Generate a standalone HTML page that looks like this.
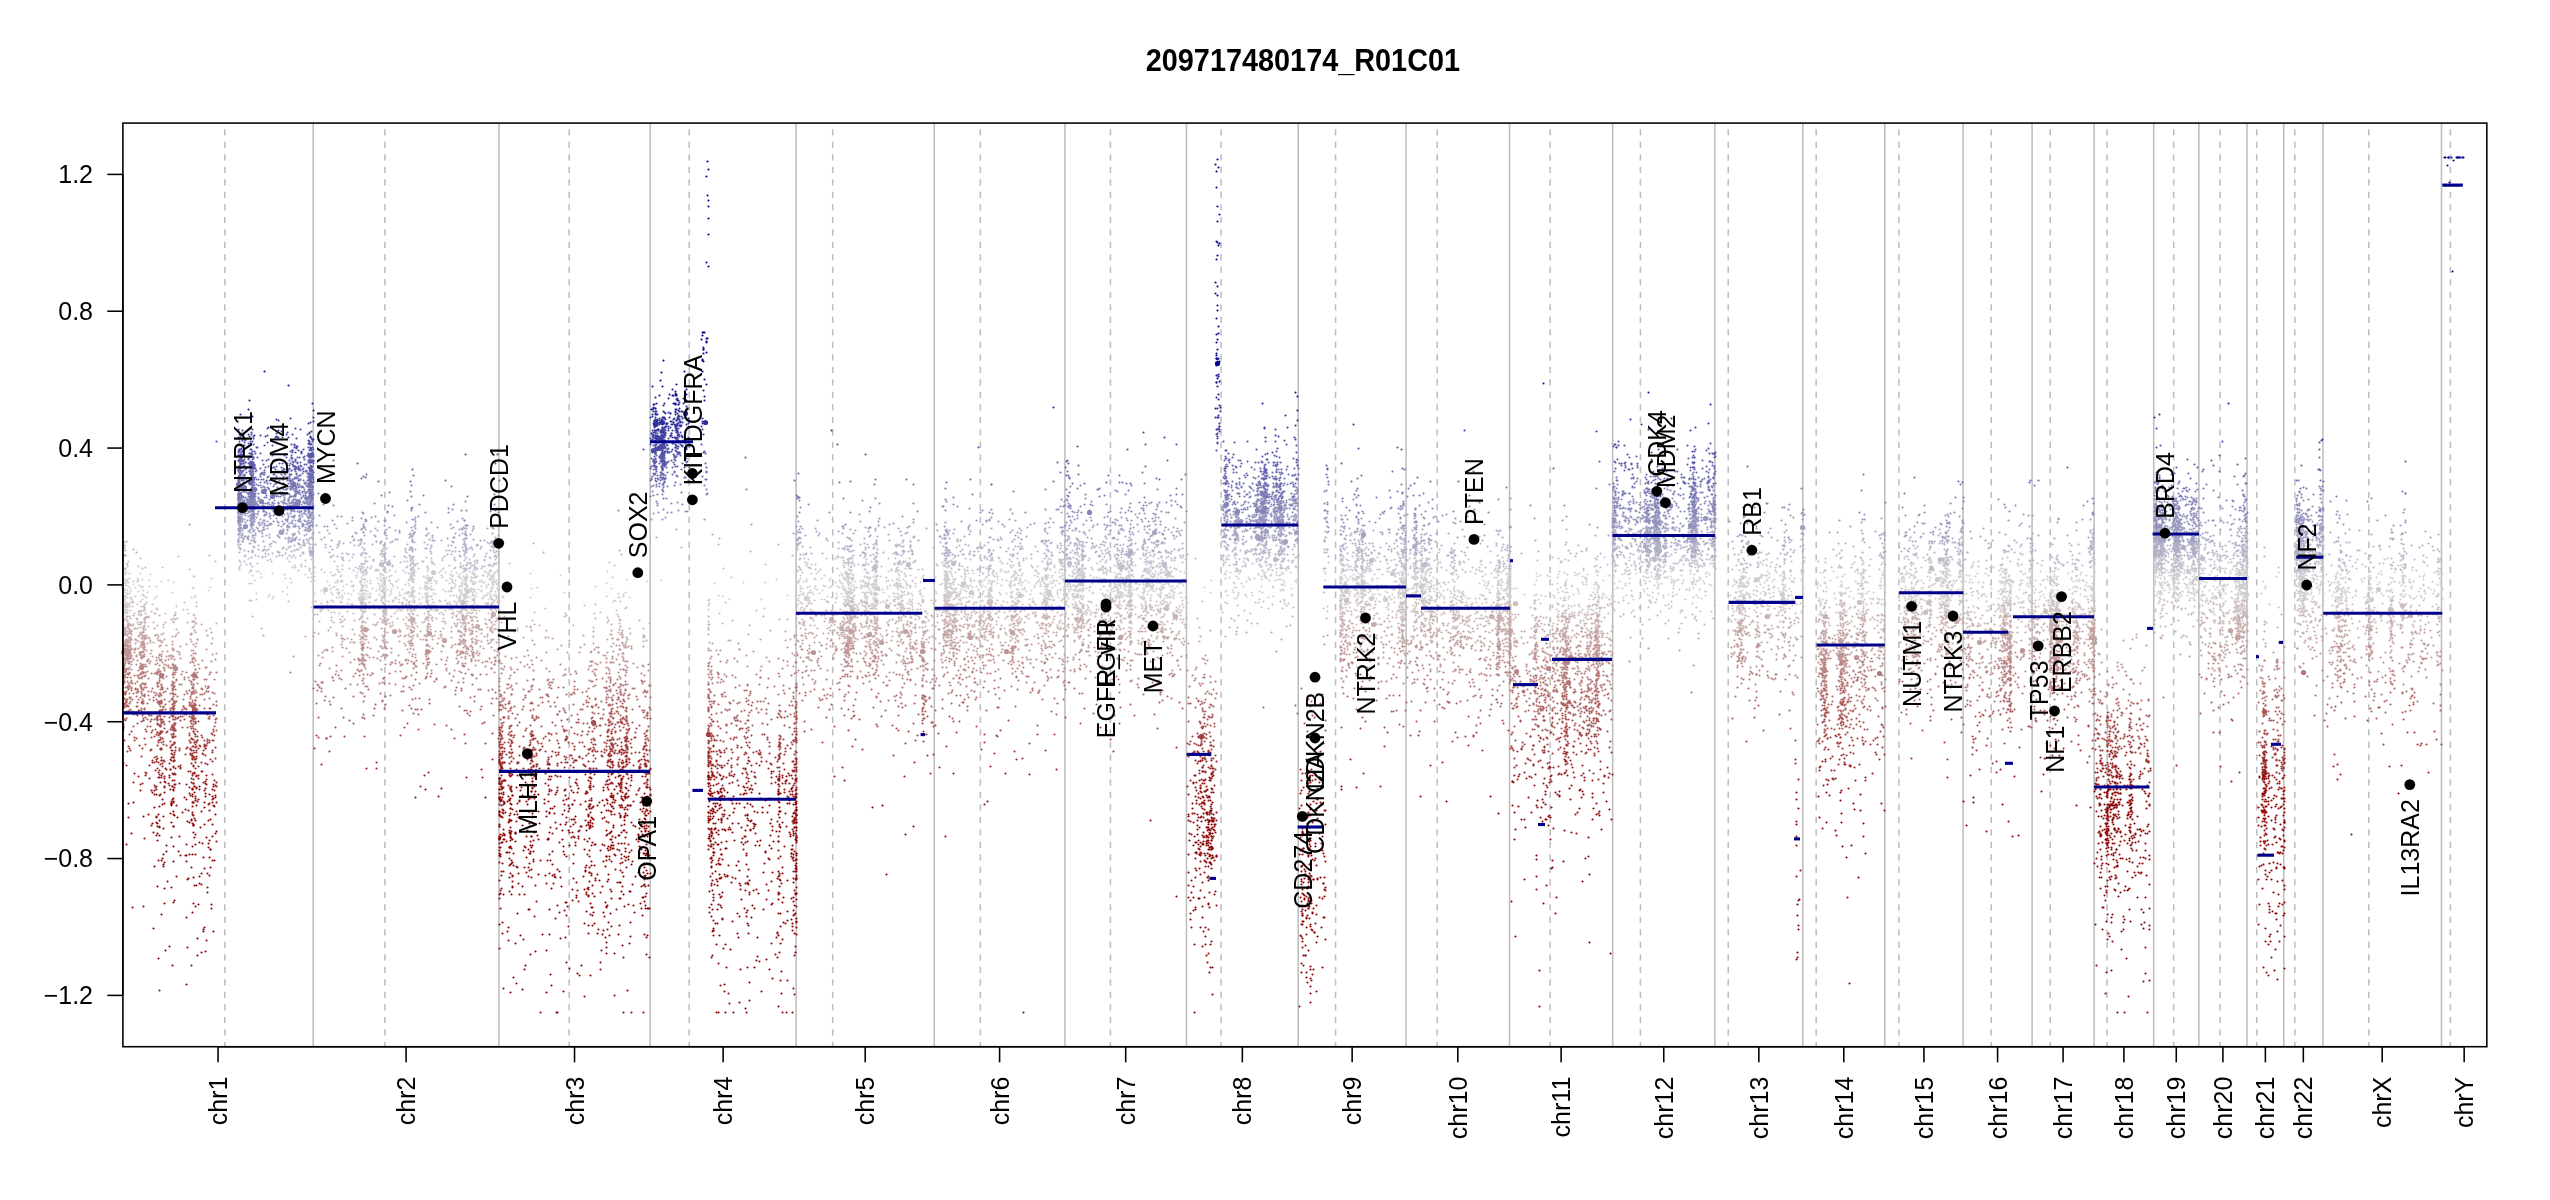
<!DOCTYPE html><html><head><meta charset="utf-8"><style>html,body{margin:0;padding:0;background:#fff;overflow:hidden}svg{display:block;will-change:transform}</style></head><body>
<svg width="2550" height="1200" viewBox="0 0 2550 1200">
<rect width="2550" height="1200" fill="#fff"/>
<line x1="313.22" y1="123.09" x2="313.22" y2="1046.71" stroke="#bebebe" stroke-width="1.56"/>
<line x1="498.93" y1="123.09" x2="498.93" y2="1046.71" stroke="#bebebe" stroke-width="1.56"/>
<line x1="650.15" y1="123.09" x2="650.15" y2="1046.71" stroke="#bebebe" stroke-width="1.56"/>
<line x1="796.12" y1="123.09" x2="796.12" y2="1046.71" stroke="#bebebe" stroke-width="1.56"/>
<line x1="934.27" y1="123.09" x2="934.27" y2="1046.71" stroke="#bebebe" stroke-width="1.56"/>
<line x1="1064.94" y1="123.09" x2="1064.94" y2="1046.71" stroke="#bebebe" stroke-width="1.56"/>
<line x1="1186.46" y1="123.09" x2="1186.46" y2="1046.71" stroke="#bebebe" stroke-width="1.56"/>
<line x1="1298.23" y1="123.09" x2="1298.23" y2="1046.71" stroke="#bebebe" stroke-width="1.56"/>
<line x1="1406.06" y1="123.09" x2="1406.06" y2="1046.71" stroke="#bebebe" stroke-width="1.56"/>
<line x1="1509.56" y1="123.09" x2="1509.56" y2="1046.71" stroke="#bebebe" stroke-width="1.56"/>
<line x1="1612.66" y1="123.09" x2="1612.66" y2="1046.71" stroke="#bebebe" stroke-width="1.56"/>
<line x1="1714.87" y1="123.09" x2="1714.87" y2="1046.71" stroke="#bebebe" stroke-width="1.56"/>
<line x1="1802.82" y1="123.09" x2="1802.82" y2="1046.71" stroke="#bebebe" stroke-width="1.56"/>
<line x1="1884.79" y1="123.09" x2="1884.79" y2="1046.71" stroke="#bebebe" stroke-width="1.56"/>
<line x1="1963.09" y1="123.09" x2="1963.09" y2="1046.71" stroke="#bebebe" stroke-width="1.56"/>
<line x1="2032.08" y1="123.09" x2="2032.08" y2="1046.71" stroke="#bebebe" stroke-width="1.56"/>
<line x1="2094.09" y1="123.09" x2="2094.09" y2="1046.71" stroke="#bebebe" stroke-width="1.56"/>
<line x1="2153.71" y1="123.09" x2="2153.71" y2="1046.71" stroke="#bebebe" stroke-width="1.56"/>
<line x1="2198.86" y1="123.09" x2="2198.86" y2="1046.71" stroke="#bebebe" stroke-width="1.56"/>
<line x1="2246.99" y1="123.09" x2="2246.99" y2="1046.71" stroke="#bebebe" stroke-width="1.56"/>
<line x1="2283.74" y1="123.09" x2="2283.74" y2="1046.71" stroke="#bebebe" stroke-width="1.56"/>
<line x1="2322.92" y1="123.09" x2="2322.92" y2="1046.71" stroke="#bebebe" stroke-width="1.56"/>
<line x1="2441.49" y1="123.09" x2="2441.49" y2="1046.71" stroke="#bebebe" stroke-width="1.56"/>
<line x1="224.86" y1="129.34" x2="224.86" y2="1046.71" stroke="#bebebe" stroke-width="1.56" stroke-dasharray="6.25 6.25"/>
<line x1="384.87" y1="129.34" x2="384.87" y2="1046.71" stroke="#bebebe" stroke-width="1.56" stroke-dasharray="6.25 6.25"/>
<line x1="569.19" y1="129.34" x2="569.19" y2="1046.71" stroke="#bebebe" stroke-width="1.56" stroke-dasharray="6.25 6.25"/>
<line x1="689.22" y1="129.34" x2="689.22" y2="1046.71" stroke="#bebebe" stroke-width="1.56" stroke-dasharray="6.25 6.25"/>
<line x1="832.70" y1="129.34" x2="832.70" y2="1046.71" stroke="#bebebe" stroke-width="1.56" stroke-dasharray="6.25 6.25"/>
<line x1="980.34" y1="129.34" x2="980.34" y2="1046.71" stroke="#bebebe" stroke-width="1.56" stroke-dasharray="6.25 6.25"/>
<line x1="1110.42" y1="129.34" x2="1110.42" y2="1046.71" stroke="#bebebe" stroke-width="1.56" stroke-dasharray="6.25 6.25"/>
<line x1="1221.08" y1="129.34" x2="1221.08" y2="1046.71" stroke="#bebebe" stroke-width="1.56" stroke-dasharray="6.25 6.25"/>
<line x1="1335.55" y1="129.34" x2="1335.55" y2="1046.71" stroke="#bebebe" stroke-width="1.56" stroke-dasharray="6.25 6.25"/>
<line x1="1437.19" y1="129.34" x2="1437.19" y2="1046.71" stroke="#bebebe" stroke-width="1.56" stroke-dasharray="6.25 6.25"/>
<line x1="1550.14" y1="129.34" x2="1550.14" y2="1046.71" stroke="#bebebe" stroke-width="1.56" stroke-dasharray="6.25 6.25"/>
<line x1="1640.42" y1="129.34" x2="1640.42" y2="1046.71" stroke="#bebebe" stroke-width="1.56" stroke-dasharray="6.25 6.25"/>
<line x1="1728.23" y1="129.34" x2="1728.23" y2="1046.71" stroke="#bebebe" stroke-width="1.56" stroke-dasharray="6.25 6.25"/>
<line x1="1816.18" y1="129.34" x2="1816.18" y2="1046.71" stroke="#bebebe" stroke-width="1.56" stroke-dasharray="6.25 6.25"/>
<line x1="1898.92" y1="129.34" x2="1898.92" y2="1046.71" stroke="#bebebe" stroke-width="1.56" stroke-dasharray="6.25 6.25"/>
<line x1="1991.21" y1="129.34" x2="1991.21" y2="1046.71" stroke="#bebebe" stroke-width="1.56" stroke-dasharray="6.25 6.25"/>
<line x1="2050.23" y1="129.34" x2="2050.23" y2="1046.71" stroke="#bebebe" stroke-width="1.56" stroke-dasharray="6.25 6.25"/>
<line x1="2107.04" y1="129.34" x2="2107.04" y2="1046.71" stroke="#bebebe" stroke-width="1.56" stroke-dasharray="6.25 6.25"/>
<line x1="2173.70" y1="129.34" x2="2173.70" y2="1046.71" stroke="#bebebe" stroke-width="1.56" stroke-dasharray="6.25 6.25"/>
<line x1="2220.14" y1="129.34" x2="2220.14" y2="1046.71" stroke="#bebebe" stroke-width="1.56" stroke-dasharray="6.25 6.25"/>
<line x1="2256.75" y1="129.34" x2="2256.75" y2="1046.71" stroke="#bebebe" stroke-width="1.56" stroke-dasharray="6.25 6.25"/>
<line x1="2294.81" y1="129.34" x2="2294.81" y2="1046.71" stroke="#bebebe" stroke-width="1.56" stroke-dasharray="6.25 6.25"/>
<line x1="2368.84" y1="129.34" x2="2368.84" y2="1046.71" stroke="#bebebe" stroke-width="1.56" stroke-dasharray="6.25 6.25"/>
<line x1="2450.35" y1="129.34" x2="2450.35" y2="1046.71" stroke="#bebebe" stroke-width="1.56" stroke-dasharray="6.25 6.25"/>
<defs>
<marker id="s0" markerUnits="userSpaceOnUse" markerWidth="8" markerHeight="8" refX="4" refY="4" overflow="visible"><circle cx="4.5" cy="4.5" r="1.05" fill="#8b0000"/></marker>
<marker id="s1" markerUnits="userSpaceOnUse" markerWidth="8" markerHeight="8" refX="4" refY="4" overflow="visible"><circle cx="4.5" cy="4.5" r="1.05" fill="#8b0000"/></marker>
<marker id="s2" markerUnits="userSpaceOnUse" markerWidth="8" markerHeight="8" refX="4" refY="4" overflow="visible"><circle cx="4.5" cy="4.5" r="1.05" fill="#8b0000"/></marker>
<marker id="s3" markerUnits="userSpaceOnUse" markerWidth="8" markerHeight="8" refX="4" refY="4" overflow="visible"><circle cx="4.5" cy="4.5" r="1.05" fill="#8b0000"/></marker>
<marker id="s4" markerUnits="userSpaceOnUse" markerWidth="8" markerHeight="8" refX="4" refY="4" overflow="visible"><circle cx="4.5" cy="4.5" r="1.05" fill="#8b0000"/></marker>
<marker id="s5" markerUnits="userSpaceOnUse" markerWidth="8" markerHeight="8" refX="4" refY="4" overflow="visible"><circle cx="4.5" cy="4.5" r="1.05" fill="#8b0000"/></marker>
<marker id="s6" markerUnits="userSpaceOnUse" markerWidth="8" markerHeight="8" refX="4" refY="4" overflow="visible"><circle cx="4.5" cy="4.5" r="1.05" fill="#8b0000"/></marker>
<marker id="s7" markerUnits="userSpaceOnUse" markerWidth="8" markerHeight="8" refX="4" refY="4" overflow="visible"><circle cx="4.5" cy="4.5" r="1.05" fill="#8b0000"/></marker>
<marker id="s8" markerUnits="userSpaceOnUse" markerWidth="8" markerHeight="8" refX="4" refY="4" overflow="visible"><circle cx="4.5" cy="4.5" r="1.05" fill="#8b0000"/></marker>
<marker id="s9" markerUnits="userSpaceOnUse" markerWidth="8" markerHeight="8" refX="4" refY="4" overflow="visible"><circle cx="4.5" cy="4.5" r="1.05" fill="#8b0000"/></marker>
<marker id="s10" markerUnits="userSpaceOnUse" markerWidth="8" markerHeight="8" refX="4" refY="4" overflow="visible"><circle cx="4.5" cy="4.5" r="1.05" fill="#8b0000"/></marker>
<marker id="s11" markerUnits="userSpaceOnUse" markerWidth="8" markerHeight="8" refX="4" refY="4" overflow="visible"><circle cx="4.5" cy="4.5" r="1.05" fill="#8b0000"/></marker>
<marker id="s12" markerUnits="userSpaceOnUse" markerWidth="8" markerHeight="8" refX="4" refY="4" overflow="visible"><circle cx="4.5" cy="4.5" r="1.05" fill="#8b0000"/></marker>
<marker id="s13" markerUnits="userSpaceOnUse" markerWidth="8" markerHeight="8" refX="4" refY="4" overflow="visible"><circle cx="4.5" cy="4.5" r="1.05" fill="#8b0000"/></marker>
<marker id="s14" markerUnits="userSpaceOnUse" markerWidth="8" markerHeight="8" refX="4" refY="4" overflow="visible"><circle cx="4.5" cy="4.5" r="1.05" fill="#8b0000"/></marker>
<marker id="s15" markerUnits="userSpaceOnUse" markerWidth="8" markerHeight="8" refX="4" refY="4" overflow="visible"><circle cx="4.5" cy="4.5" r="1.05" fill="#8c0404"/></marker>
<marker id="s16" markerUnits="userSpaceOnUse" markerWidth="8" markerHeight="8" refX="4" refY="4" overflow="visible"><circle cx="4.5" cy="4.5" r="1.05" fill="#911212"/></marker>
<marker id="s17" markerUnits="userSpaceOnUse" markerWidth="8" markerHeight="8" refX="4" refY="4" overflow="visible"><circle cx="4.5" cy="4.5" r="1.05" fill="#962020"/></marker>
<marker id="s18" markerUnits="userSpaceOnUse" markerWidth="8" markerHeight="8" refX="4" refY="4" overflow="visible"><circle cx="4.5" cy="4.5" r="1.05" fill="#9b2e2e"/></marker>
<marker id="s19" markerUnits="userSpaceOnUse" markerWidth="8" markerHeight="8" refX="4" refY="4" overflow="visible"><circle cx="4.5" cy="4.5" r="1.05" fill="#a03d3d"/></marker>
<marker id="s20" markerUnits="userSpaceOnUse" markerWidth="8" markerHeight="8" refX="4" refY="4" overflow="visible"><circle cx="4.5" cy="4.5" r="1.05" fill="#a54b4b"/></marker>
<marker id="s21" markerUnits="userSpaceOnUse" markerWidth="8" markerHeight="8" refX="4" refY="4" overflow="visible"><circle cx="4.5" cy="4.5" r="1.05" fill="#aa5959"/></marker>
<marker id="s22" markerUnits="userSpaceOnUse" markerWidth="8" markerHeight="8" refX="4" refY="4" overflow="visible"><circle cx="4.5" cy="4.5" r="1.05" fill="#ae6868"/></marker>
<marker id="s23" markerUnits="userSpaceOnUse" markerWidth="8" markerHeight="8" refX="4" refY="4" overflow="visible"><circle cx="4.5" cy="4.5" r="1.05" fill="#b37676"/></marker>
<marker id="s24" markerUnits="userSpaceOnUse" markerWidth="8" markerHeight="8" refX="4" refY="4" overflow="visible"><circle cx="4.5" cy="4.5" r="1.05" fill="#b88484"/></marker>
<marker id="s25" markerUnits="userSpaceOnUse" markerWidth="8" markerHeight="8" refX="4" refY="4" overflow="visible"><circle cx="4.5" cy="4.5" r="1.05" fill="#bd9393"/></marker>
<marker id="s26" markerUnits="userSpaceOnUse" markerWidth="8" markerHeight="8" refX="4" refY="4" overflow="visible"><circle cx="4.5" cy="4.5" r="1.05" fill="#c2a1a1"/></marker>
<marker id="s27" markerUnits="userSpaceOnUse" markerWidth="8" markerHeight="8" refX="4" refY="4" overflow="visible"><circle cx="4.5" cy="4.5" r="1.05" fill="#c7afaf"/></marker>
<marker id="s28" markerUnits="userSpaceOnUse" markerWidth="8" markerHeight="8" refX="4" refY="4" overflow="visible"><circle cx="4.5" cy="4.5" r="1.05" fill="#ccbebe"/></marker>
<marker id="s29" markerUnits="userSpaceOnUse" markerWidth="8" markerHeight="8" refX="4" refY="4" overflow="visible"><circle cx="4.5" cy="4.5" r="1.05" fill="#d1cccc"/></marker>
<marker id="s30" markerUnits="userSpaceOnUse" markerWidth="8" markerHeight="8" refX="4" refY="4" overflow="visible"><circle cx="4.5" cy="4.5" r="1.05" fill="#ccccd1"/></marker>
<marker id="s31" markerUnits="userSpaceOnUse" markerWidth="8" markerHeight="8" refX="4" refY="4" overflow="visible"><circle cx="4.5" cy="4.5" r="1.05" fill="#bebecc"/></marker>
<marker id="s32" markerUnits="userSpaceOnUse" markerWidth="8" markerHeight="8" refX="4" refY="4" overflow="visible"><circle cx="4.5" cy="4.5" r="1.05" fill="#afafc7"/></marker>
<marker id="s33" markerUnits="userSpaceOnUse" markerWidth="8" markerHeight="8" refX="4" refY="4" overflow="visible"><circle cx="4.5" cy="4.5" r="1.05" fill="#a1a1c2"/></marker>
<marker id="s34" markerUnits="userSpaceOnUse" markerWidth="8" markerHeight="8" refX="4" refY="4" overflow="visible"><circle cx="4.5" cy="4.5" r="1.05" fill="#9393bd"/></marker>
<marker id="s35" markerUnits="userSpaceOnUse" markerWidth="8" markerHeight="8" refX="4" refY="4" overflow="visible"><circle cx="4.5" cy="4.5" r="1.05" fill="#8484b8"/></marker>
<marker id="s36" markerUnits="userSpaceOnUse" markerWidth="8" markerHeight="8" refX="4" refY="4" overflow="visible"><circle cx="4.5" cy="4.5" r="1.05" fill="#7676b3"/></marker>
<marker id="s37" markerUnits="userSpaceOnUse" markerWidth="8" markerHeight="8" refX="4" refY="4" overflow="visible"><circle cx="4.5" cy="4.5" r="1.05" fill="#6868ae"/></marker>
<marker id="s38" markerUnits="userSpaceOnUse" markerWidth="8" markerHeight="8" refX="4" refY="4" overflow="visible"><circle cx="4.5" cy="4.5" r="1.05" fill="#5959aa"/></marker>
<marker id="s39" markerUnits="userSpaceOnUse" markerWidth="8" markerHeight="8" refX="4" refY="4" overflow="visible"><circle cx="4.5" cy="4.5" r="1.05" fill="#4b4ba5"/></marker>
<marker id="s40" markerUnits="userSpaceOnUse" markerWidth="8" markerHeight="8" refX="4" refY="4" overflow="visible"><circle cx="4.5" cy="4.5" r="1.05" fill="#3d3da0"/></marker>
<marker id="s41" markerUnits="userSpaceOnUse" markerWidth="8" markerHeight="8" refX="4" refY="4" overflow="visible"><circle cx="4.5" cy="4.5" r="1.05" fill="#2e2e9b"/></marker>
<marker id="s42" markerUnits="userSpaceOnUse" markerWidth="8" markerHeight="8" refX="4" refY="4" overflow="visible"><circle cx="4.5" cy="4.5" r="1.05" fill="#202096"/></marker>
<marker id="s43" markerUnits="userSpaceOnUse" markerWidth="8" markerHeight="8" refX="4" refY="4" overflow="visible"><circle cx="4.5" cy="4.5" r="1.05" fill="#121291"/></marker>
<marker id="s44" markerUnits="userSpaceOnUse" markerWidth="8" markerHeight="8" refX="4" refY="4" overflow="visible"><circle cx="4.5" cy="4.5" r="1.05" fill="#04048c"/></marker>
<marker id="s45" markerUnits="userSpaceOnUse" markerWidth="8" markerHeight="8" refX="4" refY="4" overflow="visible"><circle cx="4.5" cy="4.5" r="1.05" fill="#00008b"/></marker>
<marker id="s46" markerUnits="userSpaceOnUse" markerWidth="8" markerHeight="8" refX="4" refY="4" overflow="visible"><circle cx="4.5" cy="4.5" r="1.05" fill="#00008b"/></marker>
<marker id="s47" markerUnits="userSpaceOnUse" markerWidth="8" markerHeight="8" refX="4" refY="4" overflow="visible"><circle cx="4.5" cy="4.5" r="1.05" fill="#00008b"/></marker>
<marker id="s48" markerUnits="userSpaceOnUse" markerWidth="8" markerHeight="8" refX="4" refY="4" overflow="visible"><circle cx="4.5" cy="4.5" r="1.05" fill="#00008b"/></marker>
<marker id="s49" markerUnits="userSpaceOnUse" markerWidth="8" markerHeight="8" refX="4" refY="4" overflow="visible"><circle cx="4.5" cy="4.5" r="1.05" fill="#00008b"/></marker>
<marker id="s50" markerUnits="userSpaceOnUse" markerWidth="8" markerHeight="8" refX="4" refY="4" overflow="visible"><circle cx="4.5" cy="4.5" r="1.05" fill="#00008b"/></marker>
<marker id="s51" markerUnits="userSpaceOnUse" markerWidth="8" markerHeight="8" refX="4" refY="4" overflow="visible"><circle cx="4.5" cy="4.5" r="1.05" fill="#00008b"/></marker>
<marker id="s52" markerUnits="userSpaceOnUse" markerWidth="8" markerHeight="8" refX="4" refY="4" overflow="visible"><circle cx="4.5" cy="4.5" r="1.05" fill="#00008b"/></marker>
<marker id="s53" markerUnits="userSpaceOnUse" markerWidth="8" markerHeight="8" refX="4" refY="4" overflow="visible"><circle cx="4.5" cy="4.5" r="1.05" fill="#00008b"/></marker>
<marker id="s54" markerUnits="userSpaceOnUse" markerWidth="8" markerHeight="8" refX="4" refY="4" overflow="visible"><circle cx="4.5" cy="4.5" r="1.05" fill="#00008b"/></marker>
<marker id="s55" markerUnits="userSpaceOnUse" markerWidth="8" markerHeight="8" refX="4" refY="4" overflow="visible"><circle cx="4.5" cy="4.5" r="1.05" fill="#00008b"/></marker>
<marker id="s56" markerUnits="userSpaceOnUse" markerWidth="8" markerHeight="8" refX="4" refY="4" overflow="visible"><circle cx="4.5" cy="4.5" r="1.05" fill="#00008b"/></marker>
<marker id="s57" markerUnits="userSpaceOnUse" markerWidth="8" markerHeight="8" refX="4" refY="4" overflow="visible"><circle cx="4.5" cy="4.5" r="1.05" fill="#00008b"/></marker>
<marker id="s58" markerUnits="userSpaceOnUse" markerWidth="8" markerHeight="8" refX="4" refY="4" overflow="visible"><circle cx="4.5" cy="4.5" r="1.05" fill="#00008b"/></marker>
<marker id="s59" markerUnits="userSpaceOnUse" markerWidth="8" markerHeight="8" refX="4" refY="4" overflow="visible"><circle cx="4.5" cy="4.5" r="1.05" fill="#00008b"/></marker>
<marker id="b19" markerUnits="userSpaceOnUse" markerWidth="8" markerHeight="8" refX="4" refY="4" overflow="visible"><circle cx="4.5" cy="4.5" r="2.6" fill="#a03d3d"/></marker>
<marker id="b20" markerUnits="userSpaceOnUse" markerWidth="8" markerHeight="8" refX="4" refY="4" overflow="visible"><circle cx="4.5" cy="4.5" r="2.6" fill="#a54b4b"/></marker>
<marker id="b21" markerUnits="userSpaceOnUse" markerWidth="8" markerHeight="8" refX="4" refY="4" overflow="visible"><circle cx="4.5" cy="4.5" r="2.6" fill="#aa5959"/></marker>
<marker id="b23" markerUnits="userSpaceOnUse" markerWidth="8" markerHeight="8" refX="4" refY="4" overflow="visible"><circle cx="4.5" cy="4.5" r="2.6" fill="#b37676"/></marker>
<marker id="b24" markerUnits="userSpaceOnUse" markerWidth="8" markerHeight="8" refX="4" refY="4" overflow="visible"><circle cx="4.5" cy="4.5" r="2.6" fill="#b88484"/></marker>
<marker id="b25" markerUnits="userSpaceOnUse" markerWidth="8" markerHeight="8" refX="4" refY="4" overflow="visible"><circle cx="4.5" cy="4.5" r="2.6" fill="#bd9393"/></marker>
<marker id="b26" markerUnits="userSpaceOnUse" markerWidth="8" markerHeight="8" refX="4" refY="4" overflow="visible"><circle cx="4.5" cy="4.5" r="2.6" fill="#c2a1a1"/></marker>
<marker id="b27" markerUnits="userSpaceOnUse" markerWidth="8" markerHeight="8" refX="4" refY="4" overflow="visible"><circle cx="4.5" cy="4.5" r="2.6" fill="#c7afaf"/></marker>
<marker id="b28" markerUnits="userSpaceOnUse" markerWidth="8" markerHeight="8" refX="4" refY="4" overflow="visible"><circle cx="4.5" cy="4.5" r="2.6" fill="#ccbebe"/></marker>
<marker id="b29" markerUnits="userSpaceOnUse" markerWidth="8" markerHeight="8" refX="4" refY="4" overflow="visible"><circle cx="4.5" cy="4.5" r="2.6" fill="#d1cccc"/></marker>
<marker id="b30" markerUnits="userSpaceOnUse" markerWidth="8" markerHeight="8" refX="4" refY="4" overflow="visible"><circle cx="4.5" cy="4.5" r="2.6" fill="#ccccd1"/></marker>
<marker id="b31" markerUnits="userSpaceOnUse" markerWidth="8" markerHeight="8" refX="4" refY="4" overflow="visible"><circle cx="4.5" cy="4.5" r="2.6" fill="#bebecc"/></marker>
<marker id="b32" markerUnits="userSpaceOnUse" markerWidth="8" markerHeight="8" refX="4" refY="4" overflow="visible"><circle cx="4.5" cy="4.5" r="2.6" fill="#afafc7"/></marker>
<marker id="b33" markerUnits="userSpaceOnUse" markerWidth="8" markerHeight="8" refX="4" refY="4" overflow="visible"><circle cx="4.5" cy="4.5" r="2.6" fill="#a1a1c2"/></marker>
<marker id="b34" markerUnits="userSpaceOnUse" markerWidth="8" markerHeight="8" refX="4" refY="4" overflow="visible"><circle cx="4.5" cy="4.5" r="2.6" fill="#9393bd"/></marker>
<marker id="b35" markerUnits="userSpaceOnUse" markerWidth="8" markerHeight="8" refX="4" refY="4" overflow="visible"><circle cx="4.5" cy="4.5" r="2.6" fill="#8484b8"/></marker>
<marker id="b36" markerUnits="userSpaceOnUse" markerWidth="8" markerHeight="8" refX="4" refY="4" overflow="visible"><circle cx="4.5" cy="4.5" r="2.6" fill="#7676b3"/></marker>
<marker id="b37" markerUnits="userSpaceOnUse" markerWidth="8" markerHeight="8" refX="4" refY="4" overflow="visible"><circle cx="4.5" cy="4.5" r="2.6" fill="#6868ae"/></marker>
<marker id="b38" markerUnits="userSpaceOnUse" markerWidth="8" markerHeight="8" refX="4" refY="4" overflow="visible"><circle cx="4.5" cy="4.5" r="2.6" fill="#5959aa"/></marker>
<marker id="b39" markerUnits="userSpaceOnUse" markerWidth="8" markerHeight="8" refX="4" refY="4" overflow="visible"><circle cx="4.5" cy="4.5" r="2.6" fill="#4b4ba5"/></marker>
<marker id="b40" markerUnits="userSpaceOnUse" markerWidth="8" markerHeight="8" refX="4" refY="4" overflow="visible"><circle cx="4.5" cy="4.5" r="2.6" fill="#3d3da0"/></marker>
<marker id="b41" markerUnits="userSpaceOnUse" markerWidth="8" markerHeight="8" refX="4" refY="4" overflow="visible"><circle cx="4.5" cy="4.5" r="2.6" fill="#2e2e9b"/></marker>
<marker id="b45" markerUnits="userSpaceOnUse" markerWidth="8" markerHeight="8" refX="4" refY="4" overflow="visible"><circle cx="4.5" cy="4.5" r="2.6" fill="#00008b"/></marker>
</defs>
<path d="m540 1012 16 0 1 0 66 0 8 0 12 0 73 0 2 0 7 0 8 0 12-4 1 4 32-6 4 6 4 0 6 0 231 0 171 0 105-6 240 0 578 6 7 0 23 0" fill="none" stroke="none" marker-start="url(#s0)" marker-mid="url(#s0)" marker-end="url(#s0)"/>
<path d="m510 992 36 0 38 4 30-1 110-4 4 2 1 10 10-1 10-2 32-7 13 1 418 0 98-1 0 9 6-11 789 2 23 3" fill="none" stroke="none" marker-start="url(#s1)" marker-mid="url(#s1)" marker-end="url(#s1)"/>
<path d="m159 990 27-6 317 4 10-11 3 6 6 6 29-4 12 6 64-1 93-5 4-1 25-2 12 9 11-13 8 2 7 0 6 8 513-11 1 5 3 4 0-8 1 2 538 3 294-2 6-1 128-1" fill="none" stroke="none" marker-start="url(#s2)" marker-mid="url(#s2)" marker-end="url(#s2)"/>
<path d="m172 965 19 0 333 4 1-4 25 9 16-12 3 6 8 5 2 2 2-10 9 10 10-6 0-7 118 1 8 4 14 2 7-2 7 0 15 2 12 2 428 1 1-5 2 0 89-4 0 9 2-7 3 7 4-3 0-3 2 8 1-5 9-2 217 3 557-5 10 7 5-2 34 3 118-6 3 5 2 3 6-5 10-2" fill="none" stroke="none" marker-start="url(#s3)" marker-mid="url(#s3)" marker-end="url(#s3)"/>
<path d="m158 958 7-8 32 5 4-3 4-1 294-3 31 6 5-3 11-1 55 0 5-3 0 6 8 0 9 4 23-3 3 3 62 0 1-2 11-7 7 1 26 11 1-4 2 5 7-2 9-5 2 3 2-5 15 3 1-3 411 3 1 7 1-9 95 2 2 0 0 0 3-5 302 3 186 6 1-7 0 5 324-8 5 9 19-11 126 10 4-8" fill="none" stroke="none" marker-start="url(#s4)" marker-mid="url(#s4)" marker-end="url(#s4)"/>
<path d="m169 946 18 1 10-9 9 2 296-7 6 7 7 3 5-8 3 4 19-5 7 0 11 4 5-1 23-4 9 0 5 1 3 3 1 5 3-7 9-1 4 11 7-2 1-7 14-2 2 3 1-2 66 0 3 9 3-9 6 9 13-7 10-4 9 4 14 6 5-6 2-2 2 8 2-4 13 7 1-12 398 10 8 2 3-10 0 8 5 0 1-3 89-6 1 1 1 11 0-6 0-3 3 7 1-11 10 8 1-6 8 3 190-3 74 6 518-3 1-6 1 3 3 5 153 0 3 3 1-8 1-2 0 7 9 0 5-5" fill="none" stroke="none" marker-start="url(#s5)" marker-mid="url(#s5)" marker-end="url(#s5)"/>
<path d="m153 928 50 3 0-2 1-2 9 4 286-7 3-2 5 9 1-4 60-1 16-3 4 2 4 0 2-2 4 6 5 1 4-1 1-7 3 4 8-1 11-3 82 9 1-1 0 0 0-2 0-8 2 3 2 0 5-4 10 2 5 12 10-10 1 2 29 8 0-1 3-6 3-4 2 1 2-3 4-1 1 11 0-4 0-3 2 10 2-6 0-5 0-1 394-2 1 8 9 0 3 4 2-4 3 2 93-5 1 0 0-3 1 0 3 6 4-3 0 2 1 3 1 1 2 2 0 0 1-9 6 4 477-2 0 4 297-5 7 5 4-8 5 1 10 9 2-9 0 7 1-10 6 2 11 3 2 4 1-6 5 3 0 4 109-5 7 4 11-9 1 12 3-6" fill="none" stroke="none" marker-start="url(#s6)" marker-mid="url(#s6)" marker-end="url(#s6)"/>
<path d="m132 907 11-1 18 8 25 3 6-5 3-6 3-2 13 4 0-4 289 4 17 5 11-4 1 0 5 7 15-7 6 9 2-13 2 7 5-2 2 5 1-9 19 5 4 3 1-7 1 8 0-8 1 5 10 0 1 4 2-9 0-1 1-1 3 8 6-4 8-3 9-1 1 7 7-4 1 7 3-10 0 3 2 0 1 0 1 0 60-1 0 5 2 4 1-7 5 0 1-5 2 1 1 2 1 11 15-5 2 3 5-8 2 8 0-4 1-2 4 7 1-12 2 3 9 1 8-5 7 9 2 0 7-2 6 4 0-5 1-5 0 9 1-1 1-7 0 12 394-5 3-3 2-1 0-2 7-1 0 11 7-10 7-2 83 1 2 5 1 4 0 0 0-2 0-4 0-4 3 5 1 8 0-1 1-12 0 10 1-7 0 0 0-3 1 1 0 12 3-5 0-1 1-4 3 6 0-9 7 12 1 0 231-4 242 2 0-11 305 3 1 0 4 7 4 3 1-3 11 2 6-7 12 0 2 3 6-4 110-4 10 8 0-3 0-3 3 5 3 2 1 0 2-7 4-2 1 11 1-2" fill="none" stroke="none" marker-start="url(#s7)" marker-mid="url(#s7)" marker-end="url(#s7)"/>
<path d="m164 903 9-1 1-2 19 3 14-11 292 6 0-4 1-4 0 3 3 1 6-3 2 3 8 0 5 0 12 7 29 1 1 0 6-2 4-5 0 2 1-7 1 11 8-7 0-2 2 3 0 1 2 7 2-10 2 3 6-4 5 10 6-11 0 7 8 0 1 0 1-7 2 3 5 10 1-13 1 0 10 12 2-6 1 0 1 4 1-5 1-3 63-2 2 13 1-14 1 10 0-3 0-3 6 0 1 3 1-1 1-4 19 7 4-9 4 2 0 2 4-4 3-1 2 4 8 6 2-9 4 13 6-4 0-5 0-2 1 1 3 9 1-5 8 1 2-1 0 4 1-11 1 3 0 1 1 5 0-6 0 0 380 3 12 1 2 3 1-8 2 5 5 1 1 0 1-8 4 7 4 7 0-1 1-11 5 2 1-3 85 6 1 4 1-8 1 1 1 5 0-1 0-3 2 1 1 7 1-5 0 2 0 1 1-4 1 3 1 3 0-3 8-3 3 1 2-2 1-6 186 11 32 2 13-6 242 3 1-1 48-2 257-2 1 5 1-10 0 2 8-3 1 1 3 6 2-4 4-2 3 0 10 7 8 0 123 6 5-11 5 2 1 9 5-1" fill="none" stroke="none" marker-start="url(#s8)" marker-mid="url(#s8)" marker-end="url(#s8)"/>
<path d="m157 886 7 2 3-7 4 6 5-11 11 3 1-1 5-1 1 8 2 0 3-9 0 7 2 1 6 3 2-12 290 5 2 8 0-13 8 2 3 10 0-1 0-5 0-5 6 7 4 3 6-10 3 1 4 8 10-10 1 8 5 5 2-5 1-7 1 1 5 0 1 9 11 3 1-11 3 4 7-6 1 13 3-1 1 1 0-2 1-6 3 4 3-7 0 2 4 0 3 6 5-5 1-2 2 10 7-7 2 0 1 0 2 4 1-10 9 8 3-8 6 10 2-9 0 8 1-1 0-5 0-3 0 0 1-1 0 11 2-8 1 7 62-9 1 7 0 2 1-5 2 4 2-5 1 2 0 4 2-7 1 0 1-1 4-1 2 0 0-1 4 7 1-5 3 1 4 5 1 2 0 4 5-6 2-7 0 6 0 1 1 1 1-4 17 4 5-3 6-3 1-2 1 10 0-7 1 1 1 3 6-3 6 2 0-4 2 1 1 8 0-8 0-1 0-1 0-2 392 10 3-5 2 6 2-9 7 5 5-5 1-1 0 4 1-2 3 0 89 6 0-3 0-2 0-4 1 14 1-7 1-4 3 10 1-11 0 2 0 3 0 4 1-7 1 2 1-5 2 3 0 0 4 0 0-1 3-1 3 6 0 0 1-6 0 12 1-2 199-8 12 10 0-13 10 9 36-4 214-5 62 1 241 0 1 11 1-11 4 9 2-6 0 6 2-9 1 2 1-3 4-1 0 3 1-1 2 6 7 3 3 3 1-1 3-11 3-2 14 9 109-5 4 9 4-9 1-3 4 3 6 2 5-1 2 5 0 4" fill="none" stroke="none" marker-start="url(#s9)" marker-mid="url(#s9)" marker-end="url(#s9)"/>
<path d="m154 866 9 0 0-2 1-2 9-1 13 0 5 6 10 6 3-5 3 5 3-6 289-5 2 9 1-8 1 8 6-6 1 8 0-9 1-1 1 12 0-13 1 3 3 1 1 1 1 6 6-6 2 5 2-5 1 3 0-7 2 6 2-8 5 13 2-14 7 0 2 13 3-9 0 11 2-1 3-5 2 2 14-8 12 8 0-1 0-3 1-2 3 7 0 0 0-5 2-6 0 4 0 8 0 2 3-10 3 9 6-13 2 5 1-6 2 14 3-13 4 8 5 1 0-7 2-1 0 10 4-5 5-3 1-3 6 11 5 0 1-9 0 4 2 3 1 3 3 0 61-11 0 4 0 1 1 6 3-2 1-7 2-4 0 3 1 11 0-10 1 0 4 10 4-9 8 0 2-4 1 9 7-6 2 5 15 3 1-9 8 9 6-1 1 2 0 2 3-2 0-6 11-7 0 11 2 0 0-3 0-3 1-2 0 3 0 2 0 1 0 2 90 3 302-2 7-4 1 2 3-2 1-7 0 13 4-2 1-11 0 5 1-4 2 4 1-4 1 0 0 1 1 5 0-4 90 2 0 0 0 5 1-6 2 4 0 5 1 0 0-3 4-7 0 9 1 2 0-12 6 2 9-4 226 7 1-1 11-6 26 13 211-4 294-7 3 3 3 6 1-7 0 3 1-5 4 0 2 1 1 7 5-4 2-1 1 0 0-1 0-3 10 9 2-10 3 1 2 10 3-6 1 6 1-9 1 10 1-1 1-9 4 12 113-9 2-1 2-1 2 6 0 4 4-2 0-9 2 7 2-8 3 5 0 1 1-5 3 1 3 3 1 0 0 1" fill="none" stroke="none" marker-start="url(#s10)" marker-mid="url(#s10)" marker-end="url(#s10)"/>
<path d="m158 860 3 0 1-2 1-4 3-3 7-5 5 5 2 4 5 0 1 0 3-1 3 0 0-8 3 8 8 3 5-10 1 10 1-8 0 0 2 11 2 0 285-5 0-2 0-3 0-3 1 0 0 7 0 2 6-4 1 0 2 6 0-6 0-5 0 0 1 0 1 13 0-12 2 5 10-3 1-4 1 1 1 10 2-8 1 4 1 0 0-2 1-4 2 12 0-8 16 3 1 6 2-9 11 0 1 3 2 2 7-2 11-5 3 5 2 2 0-6 11 0 6 6 0 0 1-8 1 2 0-4 1 10 0 3 1-10 0-2 2 1 1 0 1 6 1 1 2-6 2 1 2 4 0 4 3-2 1-8 0 3 0 9 1-3 2-1 0 3 1-7 2-2 8 2 0-6 1 1 1 2 2 4 1 0 1-3 0 5 1-1 0-1 3 2 59-6 2-3 0 12 1 0 0-1 1 3 1-5 0-3 0 0 0-4 1 4 5 6 1-9 1 5 0 0 1 5 3-11 1 0 17 1 3 4 0 2 19-3 0-1 3 7 1 1 2-11 7 10 0-8 2 6 4-10 7 3 0 4 0 0 0 3 1 2 0-9 1 5 0 3 1-6 1 9 1-1 0 0 0-4 0-2 0 0 392 1 7 4 0-6 1 0 0 1 2-5 1 1 0 5 0 0 1 1 0-3 0-6 1 7 3 7 0-7 1 2 2 3 0-5 1-4 1 7 0-2 0-5 0-2 1 0 0 8 1 3 0-9 0 0 1-2 0 1 0 0 0 7 0 2 1 0 1 3 2-4 0 0 0-1 83-1 1-4 1-1 1 5 1-6 0 0 4 5 1-4 0 6 0 1 1-3 0-5 1-2 1 9 1 4 2 1 1-2 7-8 1 3 1 3 212-1 0 4 16 1 33-2 3-2 254-10 4 11 19-4 231 5 1-6 3-3 1 7 0 3 5-4 0-7 1 3 1 3 0-7 3 0 0 2 0 5 2 5 0-4 0-2 2-1 1 8 0-11 0 0 3 5 1 4 2 0 4 1 3-1 2-10 1 2 4 0 4 7 3 0 2-7 0 8 4 1 0-4 114-2 1-5 1 1 12 3 1 0 1 1 1-1 1-6 1 0 0 7 1-3 1-3" fill="none" stroke="none" marker-start="url(#s11)" marker-mid="url(#s11)" marker-end="url(#s11)"/>
<path d="m126 844 5-11 13 5 9-6 3 3 1 5 0-7 2 2 7 10 5-8 8-1 7 8 7-12 1 5 1 7 0-10 4 8 3 1 4-6 2 6 1-3 3-4 3-3 1 8 283-5 0 1 0 1 0 0 0 0 0 1 0 0 0 4 1-6 0-3 1 8 1 0 0-7 1-2 0 6 1 0 0-4 0-1 2 7 3-9 1 0 0 1 0 1 0 2 0 1 0 3 0 6 1-8 0-7 1 8 3 2 0-8 0 0 0-1 11 4 4 9 0-4 1-5 0 0 1 9 1-5 1-8 3 3 1 4 9 0 1 0 0-1 1-6 3 1 7 9 3-3 1 7 6-1 0-13 2 5 1-5 1 4 1 1 1 5 0 3 3-7 0-2 6 3 3 2 2-3 2 7 1-3 2 2 1 0 7 0 2 1 2-10 1-1 2-1 1-1 0 7 1 6 0 0 0-6 1-3 0 6 1 3 2-8 3 6 0-8 1 0 2 8 0-11 3 11 1-6 1-5 2 12 8-5 2 2 0-4 0-2 0-1 4 0 2 2 2 8 1-8 3-2 58 11 0-7 1-4 0 2 0 2 1 3 0-1 1-8 0 0 0 3 0 1 0 8 0 2 1-13 1 5 0 6 2-2 1-10 1 12 1-10 0 10 3-2 5-1 6-9 2 8 7 2 1-4 1 6 1-8 1 6 0-6 2 5 8 4 0-12 2 8 2 4 1-5 9 5 1-10 3 6 3-10 2 10 0 0 0-5 1-5 10 1 1 2 0 2 2 9 1-12 0 2 2 4 0-6 1 2 0 2 0 0 0 0 0 3 0 0 0 2 109-8 40 2 244 4 0-7 2 1 2 11 1-9 1 6 1 0 1-8 1 6 0 4 2-2 2-7 0 8 0 1 1 0 0-3 0-4 0-5 1 4 2 9 0-2 0-2 0-4 0-2 1 1 0 4 0 3 1 2 0-3 0-2 0-3 1-5 0 2 0 0 1 9 0-10 1 3 0 0 0 4 0 0 0 6 1-8 0-5 1 3 2-4 85 5 1 3 1-9 0 1 0 1 0 1 0 1 1 6 0-8 2 1 4 10 0-3 1-3 0 2 5 6 0-3 4-10 2 10 1-7 192 3 36 0 21-7 5 1 12 4 208-1 0 9 40-10 15 10 12-9 149 0 6-1 80-3 0 11 2-7 0-1 0-1 0-1 1 2 1 7 3-10 0 7 1 4 0 0 0-3 0-1 0 0 0-5 0-1 1 0 0 2 0 3 0 5 0 0 0 2 1-3 0-2 1-5 1 2 1-4 1 10 0-4 2-3 0 7 2-11 3 13 1-4 0-9 1 4 3 4 1-6 2 9 2-5 0 2 1 5 0-13 1 4 0 8 1-2 0-4 1-3 1 2 1-4 0 1 0 8 3-1 2-6 5 8 0-10 2 0 113 12 0-4 0-4 3 4 1 2 0-2 0-6 1-2 0 8 1 4 0-11 1 6 1 4 4 0 2-7 1-1 1 6 3-4 1 1 3-4 1 6 0-1 67-6" fill="none" stroke="none" marker-start="url(#s12)" marker-mid="url(#s12)" marker-end="url(#s12)"/>
<path d="m128 817 23 8 1-2 4-1 1 1 0 3 2 1 0-1 0-6 4 8 8-6 2 4 0 0 4-9 10 4 2 1 2-3 0 1 1 3 1 1 0 1 0 0 1-7 1 2 5 7 4-3 4-4 2-1 2 5 4 7 283-5 0 0 0-2 3-7 1 12 5-7 1 8 0-9 0-1 0-1 1 1 0 7 1-7 5 1 6 4 5 5 2-4 0-3 2-1 1-5 1 8 6-2 11 4 5-5 1 6 4-4 2 6 3-6 1-2 2 8 2-4 1-7 2 0 0 5 1-5 1 3 3 9 1-1 1-4 1 0 4-6 1 5 0 5 2-6 0-2 0 0 1 4 0 2 1-1 0-2 0-3 0-2 1-3 1 9 0-3 0-5 1 1 9-1 4 3 0 9 2-8 3 9 2-4 0-2 7-8 1 8 2 5 1 0 0-6 0-4 0-3 7 5 2 3 2 1 4 2 0-9 2 5 0 7 1-5 0-5 2-3 0 5 0 3 0 2 1 3 0-1 0-11 1 6 0 3 2 3 0-5 60-8 0 2 0 2 0 6 1 1 0-9 0-1 1 0 1 12 0-2 0-1 1-10 1 5 1 6 1-1 0 0 0-5 3-4 0 11 3-8 0-2 0-1 0-1 1 11 2 0 1 1 2-12 1 11 1-2 1 2 2-6 6 0 3 4 4 3 2-5 0-7 1 2 2 10 0-1 0-8 1-1 2 8 0-5 1 1 0 2 1-2 15-1 1-4 1 7 0 4 5-9 2-4 0 7 0 2 1 1 2-5 4 4 6-5 0 8 1 2 0-8 0-3 1-2 0 1 0 1 0 2 0 5 0 0 1-5 1-3 0 3 0 0 0 0 0 5 0 0 0 3 117-4 237-6 38 0 2 1 3 1 4-2 0 5 0 4 1-12 1 10 2-6 2-4 2 3 1 7 1 3 0-3 0-8 1 1 0 2 0 2 0 3 0 2 1 0 0-8 0-1 1 10 1-2 0-4 0-4 0 0 0-3 1 1 0 3 0 6 1 2 0-8 0-1 0-2 1 0 0 6 0 2 0 4 1-6 1-4 86 8 0-8 4 8 1-5 0-6 1 10 0 4 1-4 3-5 1-2 4-2 8 6 190 5 6-10 3 0 1 8 15-10 2 4 3-2 1 0 2 6 2-8 3 11 11 2 28-11 9 10 10-10 185 5 0-3 26 7 4-6 9 8 6-8 22 1 103 2 20 6 22-10 91 10 1-5 2 4 1-12 1 11 1-6 1-5 0 5 0 1 0 2 0 3 0 2 1 0 0-3 0-5 0-4 1-2 0 3 0 6 0 3 0 1 4-8 0-2 0-1 1-2 0 1 0 6 1 5 0-1 0 0 1 2 2 1 0-13 1 10 0 1 2 2 5-6 2-7 2 9 0 0 0 3 1 1 0-4 0-3 0-7 2 2 2 4 3 6 2 0 1 0 1 2 2-1 4-4 1-2 1 7 109-6 3 1 1-5 1-3 1 1 0 2 0 4 0 5 1-5 0-7 1 4 0 6 5-8 2 8 1 1 1-12 0 2 0 3 5 2 2 5 1 1 1-10 0 2 0 0 0 0 0 5" fill="none" stroke="none" marker-start="url(#s13)" marker-mid="url(#s13)" marker-end="url(#s13)"/>
<path d="m128 803 5-1 10 14 5-2 6-7 2 10 0-1 2-2 1-8 3-2 1 12 1-13 6 10 1-10 0 0 0 1 0 1 2 9 0-3 1 4 2-10 6 7 3-3 3 1 4 4 0-2 0-6 1 9 3-10 5 6 3-4 4-3 1 6 0-7 4 2 1 1 1 8 284 1 0-1 0-2 0-1 0 0 0-7 1 12 1 0 0-11 1 4 0 3 1 1 0-3 0-6 1-2 0 1 1 9 4 3 1-2 0-5 0 0 0-5 1 1 1 5 2 5 2-3 1-8 0 11 1 3 9-13 1 7 1 0 3 5 0-3 6-2 6-8 2 8 0 5 3-3 0-1 1-4 2 0 2-2 0 7 8 1 2-10 0 6 2 7 2-12 0 6 1-3 3-4 0 0 3 12 5-12 6 5 2-3 0 8 0 1 0 1 1-8 0-2 0-2 1 0 0 8 1-4 1-1 1-1 4-1 4 7 3-7 0 12 2-7 1-7 1 7 2-6 0 7 1 3 0-3 0-5 1 0 1 2 1 6 5-1 0-8 1 2 0 8 0 1 1-11 0 0 1 2 2 9 0-7 1-2 0 6 0 2 2 0 0-6 0-4 1 0 2 0 0 0 10 4 2 2 1-6 0 3 1 5 1-9 0 7 0 4 1 0 0-6 0-4 0-1 0-1 0 0 1 7 1 3 1-8 1 6 58-5 0 6 0 0 0 4 2 0 0-3 0-3 1 0 1 3 0-5 1-5 0 6 0 2 0 0 0 5 2-4 0-6 0 0 0-3 2 0 0 7 2-2 0-3 1-1 1 3 1 7 1 2 1-6 0 4 5 1 3-12 1 9 1-4 2-5 3 0 5 4 1 8 2 0 0-1 0-11 3 1 2 2 2 5 3 1 5-5 0 5 5 0 2-7 9 9 1-7 0 4 0 0 1 0 5 2 2-10 2 0 3 13 1-12 0 9 1-1 1-8 0 6 0 3 0 4 1-2 0 0 0-1 0-4 0 0 0-1 0-2 0-4 76 4 10-2 102-1 204 12 0-2 4-11 0 5 0 5 2 0 2-10 1 11 2-10 1 13 1-14 0 3 0 10 1-8 1 5 1-4 0-5 0-1 2 9 0 1 1 1 0-2 2 0 0 2 1-3 0-1 0-4 1-2 0 4 0 2 0 3 2 1 3-2 83-4 2-3 4 8 1 1 1 2 1-4 0 3 2 0 0-6 0-5 6-1 0 7 5-6 1-1 2 7 1 0 173 3 14-8 2 7 4-6 13 6 5-7 1 2 4 0 2-5 2 2 3 12 1-1 2-8 24 7 2-2 2-4 14 0 3-5 0 11 2-1 1-2 0 4 10-6 189-1 21 9 22-4 12-10 1 6 6 1 21-7 3 7 118-6 74 1 14 2 6 4 2 5 1-11 0-2 1 1 1 12 0-6 3-6 0 11 1-6 1 2 0 1 1 4 0-1 0 0 0-2 0-2 0-1 0-1 0-1 0 0 0-1 0-3 1 0 1 3 0-1 0-1 1-1 0 5 0 3 0 4 1-7 0-4 0-1 1-1 0 2 1 9 0-6 0-3 1 0 0 2 0 8 1-1 0-9 0-1 1 0 0 3 0 0 0 9 1-11 1 6 0 3 1 3 0-13 3 1 5 10 1-3 0 2 0 0 1-9 1-2 0 1 0 4 0 0 0 3 0 5 1-2 0-4 0-3 0-4 1 9 5 4 9-8 3-3 0-1 109 3 0 10 3-7 0-6 1 1 0 6 0 1 1-1 0-1 0-3 1 2 0 2 0 2 0 2 1-4 0 0 0-5 1 0 0 6 2 4 0-12 3 3 4-1 1-2 0 11 2-7 2-1 1-1 2-2 0 11 1-3 0-4" fill="none" stroke="none" marker-start="url(#s14)" marker-mid="url(#s14)" marker-end="url(#s14)"/>
<path d="m140 790 11 0 1 2 2 2 0-4 2-1 0 5 3 1 1-1 2 5 2-7 6-3 1 12 1-2 1-10 0 1 0 8 0 3 0 1 11-5 2 2 3-6 1 2 2 7 0-6 0-2 0-5 0 0 0-1 1 14 0 0 1-10 1 4 0 2 0 2 1-12 1 13 1-2 1-10 5 13 0-12 1-2 0 5 0 3 4-2 3-5 0 7 0 3 0 3 1-4 1-8 1 7 0-2 1 7 199-5 10-8 13 7 3-8 44 9 14-8 0 0 0 4 0 4 0 0 0 1 0 1 1 2 0-1 0-3 1-8 0 4 0 6 0 1 1-3 0-9 1 4 0 2 0 7 4 0 1-5 1 4 0 0 0-1 1-11 0 1 0 9 1-7 0-1 1 5 0 0 7 6 0-1 1-10 2 5 4 6 2-2 1-3 0 2 2-1 0-6 0 0 1-3 2 10 0-4 1-3 3 3 6 5 4 2 0-7 1-5 0 2 2-1 4 4 1-2 1-2 6 10 1-10 1 5 0-6 1 10 2-1 3-8 2 2 1 8 3-8 1-4 7 13 0-8 1-2 0 2 1-1 2 8 1-11 1 9 0 2 8 2 3-2 1-10 3 9 1 1 1-11 2 7 1-3 0 2 0 2 1 5 0-6 1-1 0 2 0 2 1 3 0-13 1 11 2-7 3-3 0 1 1 7 0-2 1-4 0 7 1 1 1-4 1 2 0-1 0-1 0-2 1-6 0 5 1 4 1-7 0 6 5 5 3-7 2-4 1-2 1 14 1-5 1 0 2-4 1 8 0 0 2-5 1 1 2-8 0 5 0 1 58 3 0-5 1-3 0 4 0 7 1-6 0-1 0-3 0-3 1 5 1 3 0-3 2-1 1 7 0-1 0 0 2-7 1 2 0-1 1 5 0 2 1 1 0-4 0-5 0-2 1-1 0 4 0 4 1 2 0-3 2-5 0 6 3-4 2 6 2 2 2-4 7-2 3 0 1-1 1-3 1 3 3-4 2 3 1-3 7 4 1 5 5 2 4-2 9 3 0-3 0-4 0 0 0-1 0-2 0 0 0-2 1 4 0 9 1-9 4-4 0 3 3 4 1 1 1 3 0-9 1 3 1-5 0-1 1 3 0 3 1 2 2-6 0 4 0 2 0 1 0 5 1-1 0-4 0-3 0-1 0-4 191 12 201-7 7 2 1 4 0-10 2 3 0 4 2 1 0-7 0-3 1 4 1 10 0-6 1 1 0 5 1-2 0-9 1 0 1 4 0-5 1-1 0 8 1 3 0-4 1 0 0 1 1 3 1-12 0 4 1 10 0-13 1 3 87 1 1-3 7 3 1-2 4 10 3-3 1 1 0-1 3 4 21-13 79 7 26 5 44-5 38 1 9 3 5-1 3-8 0 3 10-2 2 2 2 2 0-1 0-4 10-3 1 11 9-9 1-1 1 8 1-6 1 3 9 3 0-4 11-1 3 9 190-9 0 7 22-3 8-4 3 3 11-3 0 8 1-10 19 4 103 7 10-4 0 5 68-11 53 0 1-2 1 7 1 2 2-4 0 3 1-3 0-5 1 9 3-6 2 0 0 4 1 1 0-2 0-2 0 0 0-2 1-2 0 0 0 0 0 1 2 11 0-12 1 8 0 1 1-4 0-1 1-4 0 12 0 1 1-3 0-7 1 0 0 3 1-6 1 3 0 7 1 3 0-9 1 9 1-3 0 0 0-6 0 0 0-4 6 0 1 13 1 0 1-2 0-5 1 0 0 6 1-2 0-5 0-6 1 9 0 3 10-11 2 2 1 2 1 8 2-5 0-1 1-2 113 6 0-3 0-2 0-1 1-5 0 5 0 1 1 7 0-6 0-2 0-2 0-3 1 0 0 2 0 2 0 7 1 2 0-11 2 7 0 4 1-13 2 12 2-2 1-3 2 1 2-7 3 9 0-10 1 10 1 0 0-4 0-3 1-1 0 8 0 3 114-8" fill="none" stroke="none" marker-start="url(#s15)" marker-mid="url(#s15)" marker-end="url(#s15)"/>
<path d="m133 782 1-9 4 3 2 8 2-1 3-8 4 3 5 7 1 2 1-1 2-9 1 0 0-3 1 8 1-5 0-2 3 1 0 2 0 3 0 5 0 1 1-5 3 1 1 2 0-8 0-2 3 5 0 6 0 0 1-12 1-1 0 7 0 4 0 3 1-3 0-10 4 9 7 1 3 3 2-5 0-4 1-3 1 8 0 0 0-4 0-6 1 13 0 0 2 1 0-11 0-1 2 0 0 3 1 8 4-4 2 1 0-2 1-6 0 4 0 5 6-10 1 10 0 2 1-6 1 5 1 1 0-4 204 4 4-11 42 2 16 0 17 1 0 0 0 0 0 1 0 2 0 2 0 0 0 0 1 1 0-6 1-3 0 6 0 2 0 0 0 3 0 0 0 1 1-6 1-1 0 7 1-7 0 0 1 0 3 5 1-10 1 12 0 0 0-11 1-1 0 11 1-12 4 13 1-12 4 12 4-2 0-3 0-7 2 9 4-9 0-1 0-1 1 5 0 3 0 0 0 3 0 3 2-1 0-10 2-2 9 9 0-10 3 6 0 6 1-9 1 3 1-3 4-1 2 12 0-11 3 0 9 1 1 9 5-4 1-3 0 4 1 2 8-11 3 6 1-3 0 9 0 1 1 0 0-2 0-2 0-2 0-4 1 1 2 8 1-12 9 13 2-3 1-3 1-1 0 4 0 3 1-3 0-8 1 3 1 4 1-9 0 8 1 1 3-6 1 9 2-10 0 7 1 2 0-1 0-9 1 0 0 8 0 4 1 1 0-2 0-2 0-2 0 0 0-2 0-1 0-1 1 0 1-2 2 11 1-4 0-10 1 1 1 4 2 7 1-5 0-3 0-2 11 1 2 7 1-7 1 11 0-1 0-4 0-8 0-1 1 6 0 1 0 4 0 3 1-14 1 14 59-1 0-3 0 0 0 0 0-4 0 0 0-2 0-1 0 0 0 0 0-1 0 0 1 2 0 0 0 6 1 2 0-6 1-2 1-2 0 0 0-1 1 1 0 10 1-6 0-3 2 1 0 7 2-1 1-9 1 1 1 4 1 6 0-7 1-2 0 12 3-11 3-4 0 2 0 8 2-8 1 7 1-6 1-2 3 6 1 5 4-12 1 13 1 1 2-10 0 6 1 4 0-13 1 4 0 3 2 7 1-3 3-9 1 1 0 6 16 0 0-6 4 5 1-6 2 2 0 1 0 0 0 1 0 4 0 0 1 2 0-6 0-2 0-2 0-2 3 1 0 2 0 6 3 0 0-2 1-5 0 4 0 0 2-7 1 2 0 8 2-8 1 3 0 9 1-2 1-2 1-3 0-1 0-4 1 3 0 1 0 2 0 6 38-11 10 4 60-4 49-3 52 0 24 1 158 12 3-6 3 3 0-1 1-7 1 12 0-12 1 7 3-2 1 5 0 2 1-8 1 4 1-3 1 0 0 3 1-4 1 7 3-6 0-3 1 1 0 2 1-2 0-4 1 2 1-1 1 10 87-5 2 7 5-4 1-7 0 4 1 2 0-7 2 0 0 5 3-1 0-4 2 13 2-6 22 4 15 1 24-1 132-5 0 0 1 1 1-7 3 4 1-3 1-2 7 4 3-2 2 1 3 8 1-11 8 9 1-5 2 7 1 2 2-5 1-3 0-3 1-1 0 6 7-7 3 0 6 1 4 10 3-8 7-2 3 5 0-3 8 3 6-1 5 4 1-7 0-1 4 2 1-4 3 1 186 5 25 6 3-6 1 5 1-4 4-2 1 1 2-1 13 10 7-8 10 0 0-3 7-4 75 4 23-2 44 1 29-2 52 9 1-5 0 2 0 4 0 0 0 3 2-3 0-7 5-1 1 9 3-11 0 11 1 0 0 0 0-6 0-4 1-1 0 7 1 6 0-4 1-8 1 6 0-4 1-1 1 6 1 0 0 1 1 2 0-8 0-1 0 0 0-1 1 1 0 7 0 5 2-10 0-2 0-2 1 2 0 6 0 5 1-12 1 3 2 7 3 0 2-6 0 0 0-3 1-1 0 4 0 3 0 2 0 0 0 2 0 2 1-7 0-7 1 11 1-6 3 8 1-1 2-10 0 2 1-4 7 11 2-3 82-1 28-4 0-1 3-2 0 4 0 1 1 2 0-4 0 0 0-1 0 0 0-1 0 0 1-1 0 0 0 4 0 0 0 1 0 3 1 2 0-8 0-2 1 4 0 7 0 1 2-3 0-5 0-2 0-3 1 2 0 6 2 6 1-12 2 2 2 2 1 4 2-2 0 2 0 4 2 1 1-10 1-1 1-2 0 12 53-8 3-5" fill="none" stroke="none" marker-start="url(#s16)" marker-mid="url(#s16)" marker-end="url(#s16)"/>
<path d="m123 763 3 2 19 7 1 1 3-8 3-3 0-2 2 2 1 8 1-9 1 7 1-6 0 10 1-2 1-6 1-4 0 0 1 3 0 3 0 7 1-13 1 1 1 7 1 1 3-6 1 6 0 0 1-9 1 13 1-6 0-1 0-5 1-1 0 0 1 8 3-2 2 2 0-1 0-2 8 6 2 0 1-8 1 10 0-14 1 6 0 1 1 7 0-1 0-13 1 0 0 3 0 6 3-2 3-4 0 9 1 0 3-8 2 1 5-3 109 3 45 4 10 0 0-6 52 10 53-3 11-10 7 4 0-1 0-1 0 0 0-1 0-1 1 4 0 1 0 1 0 4 0 2 1 0 0-1 0-2 0-1 0 0 0 0 0-1 0-1 1-3 0 0 0 1 0 5 2-6 0 0 5 1 0 10 0 0 1 0 0-5 1-7 0 11 1-1 4-2 1-6 0-1 1 0 3 10 1-1 1-3 5 1 0 3 2-3 0-6 1-3 0 0 0 7 0 2 0 4 1-1 0-11 1 4 0 1 0 0 2 5 1-7 0 2 1-2 2 4 8 3 0-7 0-3 1-2 0 4 0 0 0 5 0 0 0 3 1-7 0 0 8-1 0 2 4 6 0-9 3 5 1-5 2 0 2 9 1-6 3 2 0-5 1-2 1 0 1 0 1 12 6-8 1 1 1 1 3-5 1 7 1 5 0-1 0-4 3-7 0 7 3 0 5 3 6-6 0-3 1-2 0 0 0 1 0 12 1-7 1-7 0 2 0 6 1 5 0 0 0-10 1-1 0 1 0 2 0 3 0 6 0 0 1-8 3 6 2 1 0-6 0-2 0-2 1-3 0 7 1 3 1-7 0 8 1-1 0-2 0-4 0-3 1 2 0 4 0 1 2-1 1-5 0 0 0 0 0 0 0 3 1 0 2-5 0 3 4 10 0-7 5-4 1 9 0-2 0-1 0-1 0-6 1 4 0 3 1-8 1 11 2 2 0-8 0-5 1 1 0 3 0 0 0 1 0 2 0 6 1-6 0-1 1-5 1 1 1 12 1-4 0-1 58-8 0 2 0 2 0 1 0 1 0 6 1-10 1-1 0 0 0 2 1 8 0-3 0-3 1-1 0 8 0 1 1-8 2 1 1-5 0-1 1 4 0 4 0 4 2-7 2 0 0 2 1 0 2-2 3-2 1-3 3 11 0-4 0-2 6-6 0 5 6 4 2 0 0 1 1 3 1-9 1-3 1 1 2 10 0-6 3 7 2-9 3 2 2-4 5 0 2 7 2-5 1 10 0-2 0-7 2 7 4-4 0-6 1-2 1 12 0-4 4-4 1 6 8-8 0 9 1 1 0 0 0-10 1 3 0 3 0 3 1-6 1-3 0 2 0 4 0 2 0 2 46-4 72-5 16 11 9-6 51-1 26-7 40 10 139-9 2 3 1-2 1 12 0-3 1-10 0 1 2 10 0 0 0-4 0 0 0-7 1 5 0 6 2 1 0-1 1-10 2 6 2 1 1 5 0-7 0-1 0-5 1 8 0 4 0 1 1-2 0-3 2 1 1-8 84 8 2 4 3 0 2-12 1 9 3-1 39-10 13 14 67-8 12-3 72 5 2-2 8 7 1-9 5-3 3 5 0-1 5-3 2-1 2 7 5-4 1 5 1-1 0-1 0-4 1 5 3 0 5-1 1 7 5-14 0 14 1-1 0-8 0-3 0-1 1 1 0 9 1-7 3-3 1 4 1 3 1 5 9-7 1 8 6-3 4 3 7-12 0 8 7-2 188-8 0 4 24 7 0-3 1-1 2-5 3-2 0 2 6 9 3 0 4-6 6-2 0 2 1 0 4 1 1 1 0-1 4 2 5-3 20-5 100 10 13-6 4 9 0-11 4 8 60 0 1 0 26-7 8 10 1-9 1 5 0 4 3-2 0-7 0-2 0-1 1 3 0 8 1-3 0-3 0-2 1 5 2 4 0-7 1 3 1-4 0-2 1 4 0 3 0 2 1-1 1-7 0 7 1 2 0-13 1 4 0 2 0 2 0 0 2-1 1-1 0 2 0 2 1 2 0 0 0-5 1 6 0 1 1-5 2 3 7-7 2 3 1 6 0-5 0-7 1 3 3 1 6 6 2 2 2-5 2-7 0-1 0-1 2 2 0 0 0 1 0 9 2-1 0-2 26-3 44 1 19 6 22-9 1 4 0 2 0 3 0 0 1-1 0-1 0-7 0-2 0-1 0-1 1 0 0 1 0 0 0 0 0 1 0 5 0 0 0 3 0 1 0 2 0 0 0 1 0 0 1-1 0-1 0-1 0-3 0 0 0-1 0-2 0 0 0-2 1-2 0 0 0 7 0 5 0 1 10-1 0-7 0-5 1 5 2 8 0-13 2 2 0 4 0 2 1 2 0-6 1-5 0 1 0 7 0 1 1-5 0-1 49 4 4-2 52 2 12-1 27 7" fill="none" stroke="none" marker-start="url(#s17)" marker-mid="url(#s17)" marker-end="url(#s17)"/>
<path d="m127 751 1-5 1 2 1 2 9-5 2 11 1-8 8 2 1-1 3 8 2-1 0 3 1-1 0-13 3 3 0 1 1 8 0-8 0-1 5-3 4 14 0-12 0 0 1-2 0 5 0 3 0 4 1-3 0-4 1 6 0 1 0 0 0 0 1-3 0-2 1-5 0 3 4 0 0-2 6 6 1-6 1-1 3 7 0-1 0-4 0-1 1 2 0 5 1 3 0-1 0-2 0-2 0-7 1 0 0 4 0 6 1 1 0-5 1-5 1 11 0-2 0-4 0-2 0-4 2 2 1-3 1 1 2 7 1-3 0 4 1-8 0-1 1 0 0 3 0 0 0 7 1-10 4 14 2-7 0-2 3-3 0 11 99-10 15 3 170 6 0-2 0-1 0-3 0-5 1 2 0 5 0 1 1 4 0-3 0-8 1-3 0 3 0 4 0 2 0 4 2-6 0-3 2 6 3 3 0-5 0 0 1-7 0 1 1 10 0-3 0-4 1 3 1 6 6-12 0 9 4-7 1-1 3 12 0-3 2-11 0 4 2 9 0-1 0-3 0-4 1-1 0 1 0 4 0 2 1-9 1 2 0 7 1-7 1 4 0 2 3-5 1-1 2-3 3 5 3 6 3-1 1-5 3 1 1 3 2-3 0 2 1-7 5 9 1 3 1-2 4-2 1 0 1 3 2-12 0 3 5 8 0-1 3 2 2-12 2 9 2-2 0-4 1 0 1-1 2 2 0 1 1 4 0-8 0-3 1 5 1 9 0-7 2 0 4 4 0-4 1 5 2-4 0-3 2-3 0 4 2 5 0-1 1-8 0 7 0 0 0 3 1-1 0-4 0-2 0-1 1 1 0 6 1-4 0-2 0-3 0-1 1-1 0 3 1 6 0-1 1-2 2 3 0-8 2 5 0 1 0 1 2 2 0-2 0-3 0-3 1 3 1 4 0-3 1 2 1 4 0-6 0-5 1 1 0 1 0 5 0 3 0 1 0 0 0 3 1-7 0-3 0-1 0-2 1 12 3-5 0-6 4 5 4 0 4-4 0 1 0 7 1 0 0-3 0-7 0 0 0 0 2-1 0 4 0 1 1 4 2-4 59 8 0-1 0-1 0-1 0 0 0-2 0-1 0-1 0-4 1 2 0 3 0 4 1 0 0-8 1 3 0 7 2-7 0-5 0-1 3 6 1 3 2-4 0 0 1 6 0-4 1 0 3 0 0-2 2-2 5 10 0-9 1 3 5-5 0-2 1 12 3-10 3 7 1-2 1 1 1-8 1 12 1-10 4 5 3-1 2 2 1 1 0-4 1 2 0 2 1 3 8-11 0 7 6 4 3-11 0 9 1 3 0-1 0-1 0-2 0-5 0-4 0 0 1 2 0 6 4 1 1-6 0 3 2-6 3 3 4 6 1-3 0 7 1 1 0-1 0-6 56-6 10 3 31 6 34 0 6-1 13-8 35 3 13 4 20-2 8 7 23-8 68 1 63-4 12 9 4-3 0 1 1-2 1-1 1 2 2-2 1 2 0-1 0-7 2 0 0 11 2 2 0 0 0-10 1 3 1 7 0-1 1 2 3-7 0-1 0-1 1 2 0 3 1-3 0-7 1 0 0 4 0 9 2 0 0-12 2 9 91 4 3-13 8 7 1 4 2-6 64-5 84-1 14 5 28-2 1-2 1 2 1 2 1 8 3-7 4-2 0-1 1-2 5 12 1 1 4-10 1-4 0 0 1 9 8-4 1 2 1-6 0 1 0 3 0 2 4-1 4 2 6-4 2-2 3 6 1-5 0 3 1 5 0-3 1-8 0 7 0 2 1-2 0-7 1 12 5-5 0-6 0 0 3 8 5-3 4 2 1-1 0-7 2 4 2 0 4-2 0 6 0 2 3-7 1 3 11-4 2 5 213-3 1-2 3 2 2 9 2-2 6-10 1 13 2-4 1-7 1 6 1 4 2-3 3-10 1 7 3 1 0-8 22 7 1 2 6-7 2 7 27 4 36 1 25-12 0 7 4-4 10-5 33 2 21 10 4 1 1 0 5-13 2 10 2-7 5 7 4-7 17 2 9 6 3-8 3 1 4-3 1 9 0 0 0-5 1 8 1-8 5-5 0 1 0 4 0 1 2 5 0-2 0 0 1-9 0 6 1 1 0-2 1-3 0 6 1 4 0-1 1-5 0 4 1 1 0-1 0-2 0-2 0-4 1 9 1-4 0-5 1 2 1-3 2 2 3-2 1 9 1-3 3-8 1 7 0-4 1-1 0 6 1 0 3 0 3-4 1-1 1 6 4-7 3 9 0-2 0-3 1 6 111-1 2-10 1 12 0-10 1-1 0 6 0 0 0 1 0 5 1-1 0-2 0-1 0 0 0-3 0-4 0-2 1 6 1 1 0-8 5 2 1 11 1-10 0 2 1 5 1-6 0 5 0 1 1 5 1-10 0 1 4-3 1-2 0 12 2 1 0 0 0-3 0-3 0-3 0-1 50 6 86-9" fill="none" stroke="none" marker-start="url(#s18)" marker-mid="url(#s18)" marker-end="url(#s18)"/>
<path d="m124 740 5-6 2-3 3 9 0-3 2 1 8 0 1 6 1-13 5 1 0 5 1-7 2 6 2-2 1-2 0 0 1 10 0-2 0-5 1-2 0 1 0 6 1-1 0-2 0-4 0 0 0-2 1 0 0 1 0 10 1-4 0 0 0-7 1 10 0 3 3-12 1-1 3 10 1-7 1 10 0-7 0-1 1-6 0 3 0 1 0 2 0 1 0 7 1-1 0-1 0 0 0-12 1 0 0 6 14 4 0-5 0-2 1 9 0 0 1-4 0 0 1 1 1 0 0-8 0 0 1 2 0 9 0 0 1 2 0-3 0-5 0-2 1 8 1-2 0 0 0-4 0-5 4 4 1 2 2 3 0 4 3-1 0-2 0-2 2 1 0 2 2-9 1 1 0 6 1 0 0-9 1 4 102 0 2 2 8 1 0 0 4-2 14 0 20 0 36-1 54 3 10-4 1 9 20 0 7-10 6 5 1-6 0 3 0 7 0 2 1 0 0-3 0-2 0-5 0-1 0-3 1 5 0 1 0 2 1 0 0-7 2 11 4 0 0-8 1-2 0 7 1-4 1-4 0 4 0 0 0 5 0 1 0 2 1-1 1-5 1-2 9 1 2-6 5 3 0 7 0 2 0 2 1-8 0-1 0-1 0-3 1 0 0 3 0 1 0 4 1 0 0-1 0-3 2 3 2 3 1 2 3 0 2-5 2-2 3-3 1 7 0-7 2 1 5-1 1 7 1 3 6-13 0 1 1 9 0-1 1-9 0 6 0 2 0 1 1-2 1 5 4 1 2-10 3 1 2 8 2-7 1-4 0 11 5-8 1-3 3 11 0-3 1-8 1 7 1 1 0 1 1 4 5-9 4 7 2 1 1-3 0-4 0-4 0-1 1-1 0 6 1 4 1 0 1 4 0-1 0 0 0 0 0-4 0-6 0 0 0-2 1 6 1 2 0 0 2-8 0 1 0 11 2-4 2-1 1-8 1 12 3-5 1 1 0 2 0 0 0 1 1 3 0-3 0-2 0 0 0-2 0-1 0 0 0-3 1-1 0 6 1 3 0-11 2 13 1-4 3-2 1 0 0-5 9 1 1 10 0-1 0-3 0-3 1-5 0 4 1 3 1 2 60 3 0-1 0-2 0-8 0 0 1 1 0 3 0 5 2-1 0-2 0-2 0-3 1 2 1 1 1 3 0 1 2 0 1-5 3 5 3 1 3-9 4 6 3 1 1-2 2 0 8-1 1 2 1-6 0 10 1-5 1-7 1 12 2-7 11-1 2 0 3 5 0-2 2 5 10 2 0-2 0 0 0-3 0-4 1 1 0 2 0 5 3-4 8 3 1 2 0-10 1 6 0 0 1 1 0-10 1 6 0 2 1 3 0-2 0 0 0-2 0-4 0 0 0-3 8 0 18 11 26-12 7 9 50 4 3-12 7 9 2-5 6-4 0 10 1-7 2 0 12-1 18-1 28 10 0-8 12 1 1 1 3-6 29 13 8-9 17 0 52-4 4 9 77 4 2 1 1-3 2-5 2 7 2 1 1-11 1 4 0-1 1 0 2 8 0 0 0-1 0-2 0-2 0-4 1-1 0 3 2 4 0-4 0-4 2 1 0 4 3-6 1 4 0 6 3-2 93 2 1-11 16 12 64-11 23 3 8 0 1-4 33 10 3-9 2 5 8-1 8 0 0-1 3-3 32-2 3 4 1-2 3 8 7 2 2 2 2-11 4 3 0 0 8-1 1 6 1-3 0-1 2-7 1 9 3-2 1 7 0-6 0-8 3 2 1 0 2 2 3 5 2-1 0 0 1 3 1-4 1-4 3-2 0 5 1 3 0-4 1-4 0 1 0 1 0 11 1-3 0-5 0-1 1 8 6-2 3-11 1 8 1-6 0 2 1 9 0-10 1 2 0 0 0 0 5 0 0-1 0-1 2 0 0 5 1-7 1 10 1 2 0-7 3-2 0 2 1-2 1 2 0 5 1 2 1-9 9-3 3 10 136 0 49-1 22 1 1-1 1 3 0-5 3 3 2-5 0-4 1 3 1-1 1 4 0 0 3-1 5-2 1 1 1 6 0 1 1-9 1 0 0 9 1-1 0-5 0 0 5-3 2-2 4 5 1 3 5-2 5 2 0-3 1 6 0 1 2-3 5 3 3-4 2-2 2 6 0-7 3-6 3 5 61 6 17-10 11 4 1 6 0-3 2-1 4-7 8 7 17 5 6-12 36 12 9-4 1 3 0-10 2 8 13 1 7-6 0 9 14-4 2-6 1 6 2-7 0 5 1 0 0-5 1 1 3 4 2 1 1-7 1 8 1 4 0-3 0-4 1 3 0 3 1-4 0-3 0-2 0-3 1 0 0 10 1-1 1 1 1-9 2 3 0 2 0 1 1 5 0-7 1-4 0 8 1-9 2 7 3 0 1-4 0 2 3 0 1 5 1-6 1 7 1-5 1-1 1 4 5-4 1 2 1 5 1 1 3-1 1-7 1 3 1 1 66-8 6 0 39 10 1-11 1 11 2-5 2-4 0 0 0 8 1 1 0-1 1-7 1-1 6 6 2 0 2-9 0 11 1 0 0-2 0-4 2 0 101-2 2 11 24-12 7 0 3 12 4-1 5 1 8-13 2 8 5 5" fill="none" stroke="none" marker-start="url(#s19)" marker-mid="url(#s19)" marker-end="url(#s19)"/>
<path d="m123 724 0 2 0 1 0 2 1-10 1 1 1-2 7 8 4-3 4-2 1-6 1 3 0 2 0 0 2 9 0-12 2 2 0 7 3 0 0-5 1-6 0 4 3 0 1 10 1-11 1-2 0 0 0 1 0 2 0 1 0 3 0 1 1 0 1 1 1 1 0 0 0-1 0 0 0-6 0 0 0-3 1 3 0 2 0 1 0 1 1-4 1 2 0 1 1 6 0-4 0-8 5 1 0 4 1 8 1-2 0 2 1-3 0-1 0 0 0-9 0-1 1 1 0 3 0 0 0 8 0 0 0 1 0 0 0 1 1 0 0-1 0-3 0-1 0-1 0 0 1-6 0 2 0 4 0 7 2-12 1-1 2 3 0-4 2 0 0 11 2-8 3 8 2-11 1 5 0 5 1 2 0-5 0-3 0-3 1-1 0 2 0 8 1 2 0-4 0-3 0-2 0-1 0-2 1 2 1 11 0-6 0-1 0-1 0-3 3 3 10-3 1-2 0 2 4 11 1-3 1-4 0-3 1-1 0 12 102-13 17 10 8-10 6 3 4 3 9-6 2 1 40 9 3-4 11 6 16-5 12 1 5 4 31-6 2-1 15 5 0 2 1-2 0-8 1 4 0 4 0 0 1-2 1-8 0 0 0 5 1-5 4-1 0 2 1 10 0-2 1 0 1-1 4-7 2 7 2-3 7 6 4-3 2-8 0 0 2 2 0 1 2-2 0-2 2 1 3 9 11-4 3 3 6-5 1 6 1 3 4-10 4 8 5-5 2-3 0 3 5 1 4 0 2 4 2-9 1-1 1 8 1 3 0-4 1 0 1 2 3-1 1 0 0-7 2 0 3 6 3-5 0 1 0 5 0 4 0 1 1-5 0-3 0 0 1-6 0 5 1 3 1-7 0 6 0 6 1-11 1 9 1-3 2-2 1 0 1 4 1-5 0-2 1 2 0 1 0 0 0 0 1 1 0-5 0 0 1-1 0 10 1-3 0-5 2-3 0 0 0 2 0 2 0 0 0 1 0 8 1-6 0 0 1 2 0 4 1-1 3-6 4 6 3-3 5-8 3-2 0 3 0 12 1-4 2-8 58 12 0 0 0-2 0-3 1-8 0 9 1-3 1-4 0 6 1-4 1 0 4 0 1 5 2 2 6-4 0 1 5-2 3-6 0 1 1 2 1-3 0 8 1-5 0 0 2 9 1-1 0-7 2 7 3-5 1 5 1-8 1 0 0 7 4-2 10-2 5 1 4-5 6-2 3-1 1 1 3 0 0 8 3-9 2 11 5 1 0-5 0 0 0-7 2-1 0 2 0 1 0 1 0 3 0 6 8-7 7 8 15-12 8 9 17-8 2-2 6 3 17 5 1 2 4-10 11 9 4 3 2 2 15-7 9 0 0-3 1-2 1 0 3-2 4 6 1 0 1 4 2-1 14-9 3 2 1 3 6 0 17 5 32-6 29 5 28-8 15 6 20 4 19-4 38 5 31-7 11 0 1 2 0-1 1 5 1 1 0-1 0-1 1-9 0 9 1-3 0-6 1 9 2-2 0-5 1-3 1 1 1 8 1-8 1-1 2 10 0-3 90 0 10-6 11 3 0 10 16-3 19 1 2-11 3 4 19 6 15-3 4 2 13-5 18 0 34-5 8 9 2-8 2 6 22-3 1 3 11 3 4-10 2 4 0 1 12 8 0-10 2 0 0 10 1-5 0-8 1 3 1 6 1 1 0 0 5-6 0-4 0 0 1 4 0 0 1 9 6-5 0 1 1 1 0-4 0-4 0-1 2 10 3-4 2-4 2 9 1-13 0 3 0 3 0 1 2 8 1-14 0 2 0 9 0 0 1 2 0-3 0-1 0-2 0-4 1 10 1-10 1 8 3-7 2 5 0 4 1-6 4 2 1-9 2 11 1 1 0-7 1 1 2-2 1-4 0 9 0 4 1-4 1-7 0 2 0 4 0 5 2-3 0-1 0-3 2-4 0 2 0 3 0 3 1-8 1 5 1-2 0-3 0 0 1 1 0 0 0 1 0 7 0 3 1-9 1 7 0 0 1 1 0 0 11-10 121-1 22-1 9 13 27-2 27-4 5-2 1-1 1-6 0 4 0 2 0 8 1 1 0-5 0 0 0-9 0 0 2 12 2-8 2 8 3 1 3-5 1-5 1-4 0 3 0 10 1-5 0-6 1 0 0 4 0 1 0 3 1 3 0-9 0-1 1 4 0 2 2 2 1-10 0 1 0 9 1-6 2 7 1-3 1-5 2 9 3-10 0 6 3-3 1 5 3-4 1 7 3 0 11-13 3 8 1 1 1 2 27-4 12 7 8-14 0 4 21-1 10-2 2 7 12-8 2 9 2-3 1-6 9 0 13 13 5-9 1 7 1-9 1 4 1 5 10 2 7-3 1 0 2 1 4-7 0-2 1 3 11-1 2 7 1-11 2 12 1-9 1-1 1 6 2-4 10-3 7 0 1 4 1-2 12 7 0-1 7 3 1 1 0-9 1-1 2 1 1-4 0 8 6-3 0-1 1-4 0 1 0 0 0 0 0 6 0 2 0 2 1-7 0-3 1 9 1 2 0-8 1-4 1 11 1-1 1-1 0-3 0-1 1 7 0 1 2-5 0-7 12 1 0 6 0 2 0 1 0 3 1-4 0-4 0-3 1 9 5-4 1 6 2-11 0-1 1 7 1 4 1 0 1-6 4 3 1-10 83 3 1 1 30 3 1-7 1 14 1 0 4-12 0 2 2 0 2 0 0 9 4-7 3-4 2 6 2-3 30-6 10 5 3 6 18-8 9-2 13 4 9-2 16 6 11-5" fill="none" stroke="none" marker-start="url(#s20)" marker-mid="url(#s20)" marker-end="url(#s20)"/>
<path d="m123 703 1 4 0-1 0-2 0-1 1 0 0 9 1 1 0-2 0-5 0-1 0-3 0-1 1 4 1 6 0 0 0-5 1-3 0 7 1-1 0-8 2 10 1 3 1-2 1 1 1-7 0 8 1 1 0-9 0-4 1 8 0 2 1-2 2-8 0 6 0 2 1-7 1-2 0 2 0 10 1-4 0-1 3-5 1 11 1 1 8-13 1-1 0 0 1 14 0-2 0-2 0-1 0-6 0-1 0 0 0-1 1-1 0 1 0 4 0 4 0 1 0 0 0 1 0 1 1 0 0-1 0-2 0-7 0-1 0-1 1 8 0 1 1-3 0-1 2-2 0 5 4 3 1-4 0 2 1 5 0-7 1-4 0 3 1 6 0-1 0-1 0-2 0 0 0-1 0-2 0 0 0-3 1-1 0 1 0 2 0 3 0 5 0 0 0 0 2-12 5 10 1-2 1-3 0 0 0 6 1 2 0-6 1 0 1 6 0-5 3-7 0 3 1 0 0-1 0-1 1 3 0 8 1-1 0-2 0-4 0-1 0-1 0-3 1 3 0 0 0 3 0 0 0 3 0 4 1-2 0-3 0-1 0 0 0-2 0-2 0-2 1 1 0 1 0 7 1-2 1-1 2-4 5 3 3 6 2-6 1 0 3-4 0 11 1-3 2-11 0 4 100-2 14 1 11 4 22 6 10 1 1-7 1-4 9 4 1-4 17 6 7-5 2 3 2 5 2-4 2 0 1 5 3-5 8-6 30 3 5 4 2 0 1 3 2 2 1-4 10-2 1-3 10-3 2 12 6-5 0-1 0-4 0-3 1 2 0 1 1 4 0-8 1 4 1 2 2-3 0 4 3 3 0-8 1-2 0 2 1 7 0-2 1-1 1 6 2-7 3 8 5-5 1-3 7-3 0 7 1-8 1 1 0 12 1-6 5-4 4-3 6-1 2 5 4-4 1 4 2 8 0 0 2-3 4-3 1 2 1 2 6 3 2-11 4 10 3-5 2 0 1-5 3-2 1 4 1-4 3 4 1 6 0-5 0-1 2 7 1-8 1-1 2 9 0-6 3-6 2 13 0-5 3-7 2 3 1-1 0 9 1-1 0-7 1 4 0 2 0 2 0 1 1-6 0-4 2 9 2-2 0-8 1 4 0 4 1 2 2-12 0 5 0 9 2-9 0-3 1 4 1-6 1 9 1 1 0-3 0-1 6 2 7-3 3 4 1 2 1-2 2 5 1-3 0 1 2-6 1 2 58 2 0-1 0-1 0-1 0-1 1-6 1 3 1 2 0 1 0 7 2-11 1-2 2 12 2-9 3 8 4-3 2 1 2-8 0 7 1-6 7 0 0 12 2-13 2 9 3-1 2-9 2 14 0-11 1 8 2-2 0-5 1-3 4 6 1-7 1 11 2-11 1 8 5 0 0 4 2-10 10 10 1 1 0-4 0-5 1 6 5 0 4-6 1 9 2-9 2 8 1-12 0 5 0 2 1 4 0-1 0-4 0-3 0-2 22 5 11 2 2-5 10 4 3 7 4-6 5-4 0 6 1 4 19-8 7-6 5 9 13 5 0-9 3-3 1 4 3-2 9-2 4 11 4 0 0-3 0-2 0-1 1-5 0 4 0 7 1-10 1-3 0 10 6-5 4 4 7-2 9-5 8 2 3-3 1 0 4 4 0 4 19 0 11-3 1 0 17-1 36 5 5 3 1-11 27 5 9 5 3-9 18 11 6-8 10-3 4 11 20-1 5-12 20 0 3 6 6-5 2 0 5 4 3-6 2 3 2-1 0 5 0 2 1 1 1-9 0 12 1-3 4-4 1-3 1 1 1 9 1-8 50 1 32-2 2 8 13-7 1-5 1 14 8-12 36 6 35 2 2 0 3-1 9 0 1-8 14 8 5-8 14 2 3 3 2 1 4-6 1 0 7 1 4-2 20 9 9 5 1-6 1-5 6-2 3 4 1-3 10 0 1 5 1 0 1-3 2-2 0 4 1-1 8 5 1-10 2 9 1-5 4-2 0 1 1 7 2-10 0 4 1 6 1-5 0 3 0 4 1 0 0-11 1 4 0 2 0 2 1-1 1-3 0 4 1-2 0 0 0-1 2-5 1 8 0-3 2-2 1 8 3-5 0 2 0 0 1-9 1 6 1 6 2-10 0 10 3-3 1-8 0 1 0 5 1 5 0-9 1-1 0 2 1-1 0 0 1 0 0 1 0 6 0 3 1-5 0-2 0 0 0 0 1-5 0 1 0 2 0 2 0 0 1 5 0-10 0-1 1 1 0 10 1 1 0-10 0-1 1 3 1 0 1 2 0 7 0 1 1-8 0-6 1 1 0 12 2-8 1 4 1-6 1-1 0 5 0 5 1-2 2-4 1 5 1-6 0 2 0 0 1 2 0-4 1 4 2 3 0-2 0-3 0 0 0-6 2 0 0 5 0 4 0 1 1-2 1-2 2-5 0-1 1 9 0 2 1-7 0-5 1 3 0 1 0 2 0 6 1 1 0-10 0-1 2 12 2-5 2 4 4-3 1-1 144-2 4-3 21 9 10-4 32 5 0-5 1-5 1 4 1-7 0 0 0 0 0 0 0 3 0 3 0 0 0 6 1-1 0-1 0-3 0 0 0-1 1 2 0 2 1 0 0-5 1-3 0 8 3-8 1-3 5 6 1-1 0 4 2 5 0-5 0-7 0-1 1 2 0 7 0 2 1 1 0-10 0 0 0 0 0-1 0-1 1-1 0 0 0 9 1 5 0-10 1-1 0 4 0 1 2-7 1 11 2-3 0-9 2 10 1-1 1-5 1 3 4 6 2-13 1 2 1 4 1-1 3 3 2-3 1 4 12-3 0 1 3-2 16 6 5 2 0-5 11-3 14-2 2 6 32-4 2-2 3 1 0-4 9 11 3 2 1 1 2-5 5 5 2-2 1-2 5-1 2 4 0 0 3-6 3 4 1-3 0-8 1 8 1-4 0 0 0-4 1 3 0 2 0 3 0 2 0 0 1-8 1 8 2-2 19 4 1-4 0-3 6 4 4 4 0-4 9-2 0 1 11 0 4-5 6 3 3-2 1 1 14-3 1 11 0-11 2 10 2 2 2-13 2 1 1 0 5 12 0-3 1 0 3 2 2-4 3-7 1 7 1-5 0-3 1 6 2 7 0-3 1 1 4-5 4-3 0 8 1 0 0-11 2 1 4 0 0 0 3 6 6 6 3 0 51-2 11-11 2 8 5-3 5-3 5-2 30 0 5 1 0 5 0 6 1 1 1-10 0 0 1 9 2-3 7 0 1-4 1 7 1-7 1 4 2 2 2 1 43-1 1-9 4 3 3 3 1-4 6-4 13-1 16 7 1 3 7-4 1 0 5-6 1 11 5-8 12 8 3-1 4-6 1 5 3-8 0 2 20-1 7 2 0 5" fill="none" stroke="none" marker-start="url(#s21)" marker-mid="url(#s21)" marker-end="url(#s21)"/>
<path d="m123 691 0 1 0 6 1 0 0-4 0-1 0 0 1-6 0 5 0 1 0 1 0 6 1-1 0-8 1-4 0 12 1-10 0-1 1 5 0 4 1 1 0-1 1-10 0 1 0 2 1 9 1-6 2-4 0-1 1 4 0 4 1-4 0-3 0 0 1 2 0 8 2-2 1-10 0 1 0 3 0 2 1 8 0-2 0-4 0-6 1 0 1 7 0-1 0-1 0-7 2 0 2 8 0-4 1 8 2-8 1-3 1 12 0-3 1-5 1 3 1-2 0 6 2-4 1-2 0 3 1 5 0 0 0-7 0-1 0-4 1-2 0 8 0 5 1-11 0-1 0-1 1 5 1 7 1-8 2-3 2 13 1-8 1 6 1-1 0 0 0-5 0-3 0-2 1-2 0 1 0 2 0 4 0 1 0 2 0 4 1 1 1-12 0 5 0 7 2-5 6 3 1-5 2-3 1 2 2-3 1 8 0-2 1-4 0 2 1 6 0-7 0-1 0-4 0-1 1 1 0 3 0 0 1 2 1-3 0 10 0 0 1-3 0-5 4 2 1-6 1 1 0 5 2 5 0-6 2-2 0 0 1-3 1-2 0 1 0 4 1 7 3-6 2 1 99-5 4 2 2-3 2 4 0-3 3 12 1-4 4 5 4-4 12-9 8 8 7-4 2 1 1 8 1-5 4-7 12 4 2 7 0 1 3-5 5-1 11-4 2 0 6-4 2 2 1 10 3-1 4 0 10 1 15-12 11 3 0 4 1-7 5 1 0 2 9 7 4-1 0 5 4-12 2 0 8 1 4-1 0 9 3-6 1 6 3-8 1 4 0 2 1-1 1 3 1 2 1-8 0 6 3-10 3-1 1 7 0 0 1-5 11 10 0-10 2 6 0 2 3-6 1 0 2-2 0-3 8 3 1 8 2 0 4-3 1 0 0 1 1 1 1-9 2 1 6 9 1-10 5 0 3 7 5 0 0 0 2-2 1-3 0 4 3-4 5 3 4 8 0-9 1 5 1-8 1 10 6 1 0-1 9-11 2 12 0-2 0-6 0-3 0-1 1 7 1 3 0-7 1-4 1 5 0-2 1 8 1 3 0-1 1-4 3-5 1 3 0 6 1 0 0-2 0 0 0-10 2 2 0 2 0 1 0 2 1 0 2 1 0 4 0 1 1-7 1-4 0 1 3 8 0-3 1-1 3-6 2 0 2 8 1 3 6-7 1-2 1 6 0-5 1 1 1-1 3 6 58 0 0 0 0-1 0-1 0-1 0-5 1 0 0 9 1-6 0-1 1 10 2 0 1-6 7-1 1 0 0 2 2-4 1 4 8 4 2-13 9 3 2 0 0 8 2 2 1-5 1-2 0-2 13 10 2-3 2-11 11 7 5-4 1 3 5-5 2 13 2-9 0 4 0 2 2-11 1 0 0 0 0 3 3 3 3 7 3-5 0-3 5-1 4-2 5 9 1 2 2-1 1-10 1 6 2 3 1-4 3 1 0-7 9 1 5 11 0-4 1-2 3-2 7 7 1-7 15-3 5 8 0-1 2-3 10 7 6-4 1 4 1-5 4 2 0-5 1 2 1-7 13 8 7 3 0 0 0-1 0-2 1 0 1 4 0-3 0 0 1 0 1 4 3-3 0 1 3-10 1 0 9 11 6-6 3-1 1-2 4 5 4 0 4 4 3-5 1 3 3-7 3 1 1 8 1-2 7-10 5 4 6-3 1 6 3-7 1 11 5-8 13-1 13 3 2-2 0-2 6 4 0 0 1-2 3 9 12-1 9 1 2-10 9-1 5 5 3 0 15 7 8-3 14-5 19-5 5 7 17-2 0 2 2 6 0-10 5 6 4 2 17-1 1-11 7 12 2 2 3 1 4-2 0-6 2-2 2 2 2 1 2-5 2 9 1-5 85-5 7 11 14-5 20-7 1 6 4 3 6 2 1-10 11 3 11 9 2-12 8 10 3-3 4 0 6 0 12 6 15-13 1 3 0-4 7 1 0 12 6-13 3 2 4 12 0-7 1-2 19 8 3-14 3 10 2-1 4-6 1 8 1-2 11-6 0 6 4 4 0 0 1-9 5 5 8-5 2 2 0-2 1-3 0 0 3 12 0-1 0 0 1-11 1 9 0-3 4-2 1 1 0-2 1 1 0 4 3-6 2 9 1-5 4-3 0 1 1 2 0-2 0-4 1 12 1-1 0-5 1-5 1 8 2-7 0 4 0 2 1-7 1 7 1 5 0-6 0-4 1-1 0 1 0 7 0 2 2-4 0-4 1 2 0 2 0 0 0 1 2 3 2-2 1-6 0-1 1-3 0 3 2 1 0 0 0-2 1 2 5 5 0 0 0-1 0-2 1-6 0 11 0 1 1-3 0 0 0-1 0-3 0-3 0 0 1-2 0 1 0 2 1 9 0-1 0-2 0-2 0 0 0-3 3 9 1-13 0 0 3 5 1 0 0-3 1 2 5 8 1-10 0 3 0 0 0 5 1-5 2-1 0 8 1-3 1-1 0 1 1-5 0 0 1-4 0 1 0 1 0 7 0 1 1 2 0-10 1 1 1 10 0-12 1 5 0 7 1-2 1-7 1 8 0-1 0-3 0-5 0-3 1 2 0 2 0 3 0 1 1 3 0-3 0-7 1 3 0 1 0 9 3-14 1 3 2 5 1-6 2 5 1-1 0 5 3 2 0-12 80 4 44 4 2-9 11 1 1 12 6 0 1-9 0 6 24-6 12 1 1 2 24-6 1 3 2 2 0 6 1 0 0-4 0-3 0-2 1 1 0 5 0 0 1 2 0-3 0-7 1 0 0 1 0 1 0 9 1 1 0-10 1-3 0 3 0 3 0 1 0 3 1-3 5 2 5-7 3-1 0 2 0 3 0 8 1-2 0-11 1 4 0 7 1 0 0-8 0-1 1-4 0 2 0 4 0 5 0 1 1-8 2 11 1 0 0-2 0-5 1 3 2 0 5-2 1 5 2-11 0 7 4 3 1-3 1-9 1 3 2-1 0-1 4-1 2 1 1 2 0 8 2 2 5-12 2 3 0-4 26 2 4 11 1-12 2 3 2 8 1-10 7 4 3-4 1 8 14-6 5-4 15 0 1 3 1 10 10 0 2-4 3-7 0 1 5 6 0-2 2-6 0 9 5 4 2-9 0 4 1-5 1 4 2 6 0-11 0-1 1-1 2 12 1-5 0 1 0 1 0 4 1-8 0-1 1 6 3 3 0 0 0-2 0-1 0-3 1-3 0 1 1-2 7-4 4 6 8 0 3 2 3 4 4-6 8-4 1-2 2 1 0 2 1 3 0-4 0-2 1 0 0 5 1 7 0-7 3 2 2-6 1-1 2 6 5 3 1-7 2-2 1 12 0-3 1-9 2 8 1-3 0 4 6-4 8-3 0 12 2-10 1 6 1-3 0 0 0-5 1-1 0 3 1 3 3 5 2 1 0-9 5 5 1-4 1 2 5-7 4 12 1-1 6-9 5 11 1-6 12 6 7-1 0 1 15-3 41-4 17-2 3 4 9 2 5-4 3-6 19 3 2 8 0-5 1-2 0 2 1 4 0-5 1 8 1-4 6 3 2-9 1 5 0 1 1 1 0-8 1 3 0 4 1-1 1-5 2 10 0-12 1 12 1-5 1 3 31-3 14 3 3-11 5 9 4-9 6 4 6 2 1-6 11 9 6-7 2 11 1-7 0 3 7-2 5 6 4-8 4-4 8 5 0-1 4-1 4 7 1-10 0 8 1-1 0-6 2 3 0 5 3 4 23-7" fill="none" stroke="none" marker-start="url(#s22)" marker-mid="url(#s22)" marker-end="url(#s22)"/>
<path d="m123 675 0 0 0 2 0 2 0 0 0 1 0 2 0 2 1-2 0-1 0-5 0-1 1-1 0 3 2 9 0-5 0-4 0-4 1 1 0 0 0 9 0 3 1 0 0-1 0-12 0-1 1 5 0 5 1 0 0-2 1 3 2-8 1 8 2-2 0-6 1 0 0 2 1 1 1-5 0 1 0 11 0 1 1-2 0-6 0-1 0-4 1-1 0 4 0 7 1 0 0-10 0-1 1 4 0 8 1 0 0-1 0-8 0-3 3 6 3-5 3 0 2 0 0-1 1 2 0 8 0 1 0 1 0 2 1 0 0-14 1 6 0 2 0 2 1-9 1 4 0 7 0 1 2-7 0-4 3 2 5 9 1-11 0 7 0 2 0 1 1 1 0-2 0-6 0-3 0-2 1 2 0 8 0 4 0 0 1-14 1 7 0 1 3 4 2-10 0 10 3-5 0-2 2-5 2 5 1 3 2 4 0-2 0-1 0-6 2-2 0 6 0 0 0 5 0 0 0 2 1-7 0-6 2 3 0 1 1 6 0-6 0-5 7 7 1 7 1-7 3-5 1-2 4 7 2-7 74 0 25 9 2 3 1 1 3-3 1 0 0 0 10-5 0 0 1 3 2-6 3 1 1 3 2 1 9 5 3-8 2-3 2 11 2-9 3 5 1 3 0-5 0-4 2 12 2 0 0-12 3 1 2-2 0 0 7 10 3-1 1-4 0 0 1 5 0-6 5-4 0 10 6 1 7-6 1 8 1-8 1-1 1-1 5-1 2 10 2-6 1-7 3 11 6-5 1-1 0-1 1-3 3 3 1-3 3 8 2-3 0 1 9 7 4-13 2 7 2-4 5 6 3-10 2 10 0-4 2-5 6 1 1 0 0 1 0 9 4-6 4-4 6 0 13 4 0 3 0 5 2-13 6 11 1 0 1-6 1-3 1 10 3-13 2 11 11-3 4 6 1-1 1-6 0 0 14 1 1-1 0 5 1-2 1 3 1-3 1 0 1-3 10-4 2-1 5 0 4 12 0-5 2-8 13 7 2 1 1 0 1 5 1-13 1 2 0 10 1-6 6-1 4 3 0-8 2 4 1-4 1 4 0 2 0 1 0 2 3 3 0-1 2-1 2-4 2-3 1 10 0-2 0-6 1 6 2 1 2-10 0 6 0 3 2 0 14-11 0 7 1 3 0-2 2-6 0 6 5 4 0 0 1 0 58-1 0 0 0-2 0-8 1 3 2 2 0-5 1 3 0 6 5-1 1-9 0 1 0 3 2 5 1-3 2 2 1-7 2 2 6-1 3 2 4 8 8 0 0-1 9-10 3 10 1-7 0 0 8 1 6 8 4-13 1 3 4 9 8-10 3-2 2 10 0 1 0 2 6-9 0-5 1 12 5-9 4 4 2 4 1-2 11-2 11 4 2-1 1-4 2-2 2 0 1-2 2 0 0 2 1 9 1 1 1-10 7 0 0 2 5-1 1 6 2-8 1 1 3 5 0-6 4-1 1 0 1-2 0 6 3-3 5 7 3 3 0-9 1 9 2-5 7-6 3 0 3 1 0 3 2 5 3-11 0 7 1-5 2 5 0 1 5 4 7-6 0 2 0 5 0 1 1-11 0 0 3 6 4 1 2-3 2 6 0-10 1 6 1-3 3 7 4-9 1-2 3-2 2 10 1 3 3-7 3-3 2 7 1-4 0-1 1-3 0 10 2-5 4-2 0 9 3-10 3-4 2 10 0-4 1 4 2 2 4-12 3 9 3-8 3 0 4 7 6-2 11 8 1-13 4 3 0 1 2 3 4-7 4 9 0-6 2 0 6 6 10 3 2-13 1 4 0 4 1-2 3-1 6 0 1-1 5 6 1-2 0 5 4-3 1 0 16-4 10-1 4 5 13-3 4-3 2 3 1 5 11-3 1-1 6 4 1-6 14 4 6-2 1-5 10-1 2-1 1 3 1-1 1-1 18 1 2 5 1-2 4 5 1 2 2-2 1-6 1 0 0-3 6 2 0 6 5-1 126-3 2 3 3-5 9-3 1 2 4-1 0 0 1 12 1-5 1-4 4-3 2 6 1-4 1 1 7 5 3-1 5 0 5-3 2-4 3 3 7 6 4-6 5 6 2-4 0 3 3-3 6 4 1 1 0-5 3-4 3 4 12 0 1-7 5 10 4 1 2-3 12-6 3 8 3-3 1 3 1 4 5-12 2-1 3 1 2 6 0-5 4 0 6-1 2 0 0 1 1 10 4-4 2-9 1 0 1 3 2 8 1-2 0-1 0-1 0 0 0-3 0-4 2 6 1 2 0-6 1 2 0 10 1-5 2-7 0 11 2-2 0-7 1 5 1 4 2 1 4-13 3 2 0 4 0 2 0 3 2-1 0-3 1-4 0 6 1 3 0-4 0-3 1-3 0 11 1-1 0-2 0-3 0-3 0-2 3 4 1 6 0-3 0-5 1-2 1 3 1 0 0 4 0 0 1-5 1-4 0 7 0 4 1 0 1 1 1-7 3-1 1 1 0-3 2 6 1 4 0-12 2 7 1 0 1-5 0 5 1 4 1-12 0 3 1 7 0-2 0-3 1-3 0 1 0 3 0 4 0 4 1-1 0-1 0-8 0 0 0-2 0-2 1 4 0 2 0 6 1 2 0-4 0-4 0-1 0-4 0 0 0-1 1 10 0 0 1-1 1-3 0 5 0 2 5-6 1-6 2 1 2 9 1 2 1-12 0 7 0 1 0 1 1-5 2-4 3 12 0-8 1 2 0 5 2-1 0-4 1 2 1 0 2 3 1 2 1-12 0 1 0 4 0 1 0 0 0 1 0 2 0 2 1-6 0-4 0 0 0-1 0-2 1 0 0 1 0 0 0 3 0 2 1-3 1 10 1 0 2-10 0 9 1 0 2-9 1 5 0-4 2 5 1 3 1-10 126 2 4 2 0 5 2-4 6-5 0 5 3-6 3 11 1-10 0 0 3 1 8 0 1 2 3 1 2 1 2-1 0-4 1 0 9 5 4-5 6 1 2 2 21-1 1-3 0 0 2 12 0-2 0-9 0-1 1 0 0 2 0 2 0 4 1-1 0-5 1 2 0 0 0 3 0 0 0 2 0 3 1 0 0-1 0-7 0-2 1 0 0 6 0 4 10 1 2-6 1 6 0-5 0-5 1-3 0 3 0 1 1 7 0 0 0-3 0-2 0-5 0 0 0-1 0-1 1 5 0 5 0 2 0 2 0 0 1-3 1-10 0 6 1 1 1 5 1 0 0-2 0-1 0-10 2 3 2 11 0-8 2 3 0 1 1-5 1-3 1 6 1-3 0 2 0 1 1-3 2-5 1 10 0-4 1-4 0 12 2-2 0-5 0 0 0-4 1 7 1-6 0 0 9 0 6 8 0-2 1-7 3 4 14 0 0 2 3 0 9-9 0 7 5 4 1-5 1 6 9-3 3-2 5-6 0 1 3 12 5-4 4 3 2-10 1 5 1 4 4-2 5 4 1-1 2-8 0 1 4 8 0-2 2-7 0 1 1-4 3 3 1-5 3 3 2 10 1-8 2 5 4-10 4 2 2-1 7 12 0-7 2-6 1 8 0-1 0-2 1-3 0 8 0 3 1-3 0-6 1-2 0 2 0 7 1-2 0-8 0 0 1 6 1-1 0 0 1 2 1 5 0 0 0-1 0 0 0-4 0-1 0 0 0-1 0 0 0 0 0-4 0-2 3 3 2 6 0-8 2 11 1-7 6 9 6-4 0-1 0-2 2-7 1 9 0-8 1 12 1-5 2 0 8 3 5-1 0 1 0 2 1 1 1-14 0 6 0 3 1 5 0-12 1-2 0 1 0 7 0 5 1 1 0-5 0 0 0 0 0-2 1-7 0 4 0 2 1 8 1-1 2-5 4 3 9 3 0 0 0-14 0 0 2 10 1-2 0-2 1-4 0 9 1-11 1 8 1-2 2-4 2 2 0-2 2 1 1 4 2-1 4 6 1-8 0 1 5-3 9 10 0 1 4-8 1 7 3-1 10-8 4 4 1 0 2 4 7 0 59-9 2 3 5 2 0-1 5-4 2 7 1-3 0 8 5-11 2 4 7-2 0-3 1 2 2 0 6-3 3 8 2-5 2 1 3 6 13-6 2 1 0 3 0 2 1 3 0-3 1 0 0 0 0 3 4-10 1 3 6-1 4 8 5-9 23-1 9 9 7-5 4-4 5 7 3-9 2 1 0 5 1-3 2-1 0 7 0 3 3-4 0-9 1 0 0 6 0 2 8-7 2 10 3-6 4-1 8 8 0-4 1-9 4 9 2 0 1-2 5-2 3 5 0-7 5 3 0 3 1 2 0 0 1-9 0 10 2-4 0-5 9 9 8-8 15 1 14 7" fill="none" stroke="none" marker-start="url(#s23)" marker-mid="url(#s23)" marker-end="url(#s23)"/>
<path d="m123 658 0 0 0 2 0 3 0 3 0 1 0 0 0 2 1-3 0-1 0-1 0-1 0-3 0-2 1 2 0 2 0 7 0 2 1-2 0-11 0 0 1 1 0 1 0 8 1 1 0-6 0-1 0-4 0 0 1 0 0 3 0 2 0 4 1-9 1 3 0 3 0 5 2-10 3 5 1-4 1 10 2-7 1-5 0 6 0 2 0 1 0 1 1 3 0-5 0-1 1-1 1 2 1-2 1 2 1-6 0 1 0 10 1-12 1 4 1-2 5 3 1-4 1 3 0 8 0 1 1-3 0 0 1-10 0 6 0 6 1 0 0-11 1-1 1 3 1 5 1 3 0-2 0-4 1-4 1 5 2-6 0 6 0 2 2 0 1-9 0 10 1-4 1 0 0 1 0 1 0 1 1 0 0-8 1 6 0 4 0 3 5-14 2 13 8-9 2-4 0 1 0 2 1 1 1-4 0 7 0 7 1-3 0 0 0-9 3 4 1 4 3-8 3 7 1 0 4 5 1-11 4-2 104 6 1-2 9 5 7 3 0-6 5 5 9-8 4-3 3 10 1-11 0 1 0 11 1 1 0-7 0-4 0 0 1 0 1 10 0 0 0-7 0-4 1 1 0 2 1 2 0 0 0-6 1 2 0 0 0 4 0 2 1 2 0-8 12-2 3 2 1 9 4-5 5 0 1-2 1 0 3 9 0-8 0-3 4 2 1 9 0-6 1-1 1 0 3-4 1-1 1 4 1-3 3 1 2 7 0-5 1-1 0 2 1 2 1-6 0 6 7-3 3-4 0 7 0 2 1-4 0-2 0-3 1-1 0 0 0 6 1-2 2 8 5-6 5-5 4 5 1-4 0 8 0 2 1-13 7 13 2-12 1 5 1-2 1 10 3-6 0-2 1 2 0 1 1 0 1-8 0 5 3 6 3-10 0 0 0 2 4 4 0-5 3 0 4 2 3-1 0 5 2-5 2-3 2 10 0 0 0-6 3 2 0 0 0 8 1-11 0-1 3 1 1 1 0-2 0 0 2 3 0 5 2 1 1-3 6 1 1-9 0 11 6 0 3-7 4 4 3-2 2 3 2-7 1 4 1 6 8-10 5 8 3 3 11-7 5 5 10 2 13-2 1-3 1-5 1 0 0 4 1 6 0-10 2 8 1-6 1 6 1-5 3-2 6 5 0-5 0-4 2 10 1 2 1-8 1 0 1-4 1 4 3-3 2 13 1-8 1 5 3-11 0 2 0 9 0 0 2 1 0-5 0-4 1 9 0 2 1-5 0-6 6 2 4 4 5-2 1 1 5-2 0 6 60-1 0-3 0-1 0-2 1-1 1 10 0-1 0-13 1 8 0 4 6 2 3-11 6 1 1-2 7-2 3 3 10 5 13 4 1-4 8-5 9-3 4 10 1-8 4 1 0 4 6 1 2-4 1 10 0-10 2 8 5-9 2 10 1-1 0-4 3-7 2 11 0-10 3 10 3-8 0-2 1-2 0 7 2 3 7 2 6-12 8 6 1 6 1 0 1-4 0-7 0 0 1 2 1 5 0-4 1-1 0 4 1 0 0-2 2 3 0 5 1-10 0-2 1 7 0 5 5-10 3 10 3-13 0 0 1 3 1 1 1 3 2 7 1-9 0 2 0 1 1-2 0-6 2 3 0 7 1-8 1 1 0 0 1-3 1 6 0 5 0 1 1-4 0-5 1-3 3 2 2 4 6 8 4 0 3-10 5-1 2 2 0-4 1 2 1 8 0-3 0-3 2-5 0 5 1 8 1-9 2 7 0-7 0-4 1 1 0 2 5 7 3-2 2-1 0-5 0-1 0 0 1 0 0 0 0 2 0 5 0 4 1-9 1 3 0 4 2 1 0 0 0-6 5 6 2-9 7-1 1 8 0-5 3-2 1 7 3-9 0 3 2-2 3 2 0 2 0 2 2-7 2 12 2-4 3 3 1 0 0-10 0-1 1 6 0 6 3-3 0-6 3-4 1 14 0-11 1 8 1-5 2 7 6-8 1 3 0 3 2-3 3-5 2 0 3-1 1 3 1 9 3-2 5-9 5 3 2-2 1 3 1-5 0 1 0 8 1-6 2 9 2-3 1-7 1 4 2 6 1-8 0-1 1 5 4-8 3 0 0 4 3 4 3-8 5 2 1 9 0 0 2-7 0-1 1 0 1-4 1 1 3 10 8 1 1-12 3 1 0 5 1 7 0-10 1 7 3-7 3 9 3-11 1 10 0 2 5-3 0-9 1 6 0 4 4-5 2 2 4 5 7-8 5 3 2 1 2 5 0-12 11-2 2 6 2-5 2 1 3 10 1-7 3-3 0 5 0 4 2-9 18 1 4-2 1 8 4 1 0-10 13 12 5-10 0 0 1 5 2 4 7 1 8-1 1-2 6-9 2 1 1 4 2-3 133 1 0-1 0-2 1 12 1 1 0-4 0-8 1 1 1-1 2 11 2-5 0-1 0-1 1 4 2-5 1 0 0 1 3-6 2 10 10 0 1-7 1 8 0-10 1 3 4-1 4-2 0 5 0 1 9-1 2-5 4 8 5-4 1 5 1-4 1-2 0-1 3 3 3 4 2-4 1-2 2 11 3-11 1 3 1 1 0-7 1 12 4-5 1 3 6-4 1 5 0 2 3-13 5 1 1 12 1-7 0 2 4-7 9 3 0 9 2-1 0-1 3-3 1 6 0-3 1 0 2 0 7 2 1 1 0-3 9-10 1-1 4 1 1 1 1-3 0 11 2-4 2-5 0 6 0 3 6 0 0-4 0-6 1 5 0 3 0 3 1-5 0-1 1-3 0 2 0 5 3-7 2 2 1 4 1 6 1-10 1 10 1 0 0-9 0-2 1 4 2 3 0 0 0-1 1-7 1 6 1 0 1 4 10-6 0 2 0 4 3 1 4-13 0 10 1-10 1 1 0 10 1-7 0-3 1 8 1 1 2 3 1-5 1 1 1-7 1-1 0 9 1-3 1-4 0 0 1 1 3-2 2 7 1-7 0 3 0 5 0 3 1-2 0-8 0-2 1-1 0 0 1 7 0-2 1 7 1-9 1-3 1 9 1-9 1 11 0 0 0-2 0-4 1-3 0 7 0 0 1 1 0-4 0-2 0-2 0-2 1 1 0 2 0 0 0 1 0 2 0 1 0 2 0 1 0 1 1-3 0-4 1 5 0 2 2-9 0 0 0-2 3 10 1-11 1 11 1-7 2-1 0 2 0 4 0 5 1-3 1-9 0 12 2-11 4 11 1-3 1-8 0 9 1-3 0-4 1-4 0 10 0 2 2-5 2-4 0 3 0 0 1 3 2-10 0 2 0 2 0 2 0 6 1 1 0-3 0-3 0-3 0 0 0-2 1-1 0 8 0 5 1-8 0-2 0-3 1 7 1-7 1 3 0 2 0 1 1 7 3-10 1-2 1 0 0 3 1 1 3 2 0 5 17-9 64 4 44 2 0-2 0-4 1-4 0 3 1 0 0-2 2 3 0 2 1 3 0-7 0-1 0-1 2 4 1-2 5 8 0 4 1 1 5-6 3 4 0-13 2 2 1 7 0-1 5 6 9-12 7-1 5 8 1-1 4-5 25 2 2 6 0-4 0-5 1 0 0 1 0 8 0 1 1 1 0-8 0-1 1-2 0 0 0 4 0 1 0 2 0 1 0 0 1 5 0-6 0-2 0 0 0-2 0-3 0-1 0-1 1 1 0 2 0 0 0 2 0 2 0 3 0 1 0 2 2 1 0-13 1 0 2 0 6 7 1 3 1-10 1 6 0-5 1 1 0 1 0 1 0 2 0 0 0 0 0 7 1-1 0-1 0 0 0-5 0-1 0-1 0-1 0-3 0 0 1 2 0 1 0 2 0 0 0 1 0 4 1 3 0-2 1-9 0 1 0 0 0 1 0 3 0 2 0 3 1-6 0-6 1 2 0 3 0 3 0 6 1-12 2 6 4 5 0-1 4-8 1 10 0-15 1 3 0 7 1 4 0-4 1-6 1 4 0-3 0 0 1-1 0 3 1 7 0-1 0-11 3-2 0 10 1 3 2-9 0 5 1 4 0-1 0-11 1 3 2 8 5-11 1 8 2-3 0 2 1-7 18 10 1-8 4-1 2 10 1 0 1-1 2-7 1 10 3-6 1-4 0-1 1 8 1-1 2 3 3-7 3-4 3 1 0-2 5 1 2 7 6 2 3-3 1-7 2 6 0-2 0-1 1 4 0 3 4-2 6-6 2 9 1-7 3 2 0-6 1 6 1 2 0-6 1-2 2 1 1 1 0 11 1-1 3-7 3 4 0-4 2-5 1 4 3 5 1 4 0-5 1 5 2-8 2-1 3 6 0-2 1-5 2 3 1-6 0 8 0 2 1-1 0-7 1-2 1 5 0-3 1 6 0 1 1 1 0-5 0-3 1 1 0 0 0 1 0 0 0 1 0 3 0 4 0 1 1-4 0-5 1-2 0 3 0 1 1 2 0-3 1-5 0 1 0 12 1 1 0-2 0 0 0-4 0-6 0-1 0 0 1-1 0 0 0 1 0 2 0 0 0 0 0 1 0 0 0 3 0 1 0 0 0 0 0 1 0 1 0 0 0 3 3-4 7-8 5 12 4-13 3 13 0-7 2-2 1-3 1 9 0 2 2-3 11-7 0 1 0 8 1-4 0-3 0-2 1-2 0 0 0 9 0 1 1 2 0-8 1 1 0 2 0 3 1 2 0-2 0-2 0-5 0 0 0-2 0-1 1 1 0 4 0 1 1 5 0-4 0 0 0-1 0-1 0-2 1-2 0 1 0 7 0 0 0 3 1-1 0-2 0-6 1-3 1 10 1-3 1-6 1 11 2-1 2-4 2 1 1-3 0 8 1-12 1 10 1-1 0-4 0-1 1 8 1 0 0 0 0-1 1-3 1-5 1-2 0 4 3 7 3-9 2 2 2-3 0 6 1-8 1 4 1-2 1-2 0 5 0 3 1 4 0-1 0-5 0 0 0-4 1 7 7-6 6 9 10-5 0-4 1 8 3-6 1 3 3 4 17-1 2-3 64-4 0 5 4 0 1-9 0 4 1 7 1-11 0 1 3 8 0-5 1 7 3-10 4 6 8 0 1 4 3-6 2 0 0 5 1 0 1-4 1-7 2 0 2 11 12-4 2 5 0-1 1-3 2-6 0 0 10 9 2-3 0-4 0-2 1-1 0 2 0 1 0 3 0 3 0 1 2-1 4-6 16 4 1 1 3-4 9-5 10 12 7-8 2 2 1-2 3 6 2-8 0 5 0 6 2-1 1-9 0 0 0 8 0 1 1-11 2 1 1 5 1-1 1 4 0-2 3 3 1-9 3 1 1-2 1 3 6-5 5 8 3-5 3-2 6 13 5-9 6 6 1 3 2-1 0-10 1 11 6-8 3 5 1 3 1-5 0 0 0 0 2-6 1 2 2-3 4 2 5 10 1-4 2-4 0-1 1-4 0 0 1 1 1-1 1 11 1-11 11 7 0-4 1 3 2-1 2 7" fill="none" stroke="none" marker-start="url(#s24)" marker-mid="url(#s24)" marker-end="url(#s24)"/>
<path d="m123 649 0 3 0 5 1 0 0-5 0-1 0-2 0 0 0-1 0-2 0-1 1-2 0 0 0 1 0 1 0 3 0 1 0 1 0 0 0 5 1 0 0-1 0-2 0 0 0-1 0-3 0-3 0-1 1 1 0 0 0 1 0 5 0 1 0 0 0 1 0 0 0 2 0 0 0 1 0 1 1-1 0-2 0 0 0-1 0-6 0-1 0-1 1 5 0 0 0 1 0 2 0 1 1 2 0-1 0-2 0-1 0-3 0-2 0-2 0 0 1 3 0 1 0 6 0 2 3-5 0-3 0 0 1-1 0 1 1 7 0-1 2-7 1 6 0-2 1-6 0 6 0 0 0 2 1 3 0 0 0 0 0-1 0-1 0-3 0-8 0 0 1-1 0 1 0 3 0 4 0 6 0 0 1-1 0-1 0-3 0-1 0-3 0-3 0-2 0 0 1 1 0 2 0 1 0 2 0 5 0 2 2-6 4 3 1-3 1 6 4 1 2 0 1-2 0-1 0-8 1-1 1 11 0-2 1-3 4 5 0-11 1 6 2 5 0-1 2 0 1 1 0-8 0-4 1 5 0 1 0 6 4-5 2 1 0 2 1-8 6-2 5 11 0-5 2-6 0 6 0 3 0 4 2-4 0 0 0-7 1-3 10 6 5-6 1 11 4-1 77 3 25-1 4 2 0-5 2-2 2-1 1 1 5 1 0-4 9-3 1 12 0-9 4 1 3 4 12-8 0 4 0 6 1 3 0-3 0-4 0-1 0-1 0-1 0-1 0-1 0-1 1 0 0 3 0 1 0 7 0 0 3-1 1-7 0 8 2 2 1-9 3 9 5-6 2-5 1 0 0 10 1-8 1 6 0 1 1-8 0 0 1-1 0 8 0 3 1-2 0-7 0 0 1 7 4-3 0-4 7 7 7-10 2 4 2 3 0-9 1 2 0 3 1-5 1 0 0 2 0 9 0 2 1-7 2 5 0 3 10-3 1-9 0 11 1-2 0-3 0-6 0-1 2 2 0 5 0 1 1-1 2-3 5-5 4 8 1-6 1 1 8 1 1-2 3-1 1 8 1 3 0-4 0-1 1-6 1 10 0-11 0 0 1 1 0 7 0 2 1 4 0-5 1-1 0 1 0 1 1-1 0-5 0-4 1 0 1 13 0-3 0-7 0-1 1 3 0 3 1 2 0-5 0-1 1 2 1 6 1-9 1 5 0-6 1 2 0 2 0 4 0 2 1 2 0-1 0-2 0-2 0 0 2-9 1 10 1-2 1 4 1-2 1-7 3 2 5-5 3 4 3 10 0-7 1 7 2-2 0-4 0-2 2 4 6 3 11 1 8-1 3-6 1 5 6-11 2 13 10-5 11-3 4-4 6 7 12 0 1-5 4-3 6 8 1-1 3-2 2-2 2 5 0 0 0-5 5 8 2 0 2-3 4-6 1 10 1-5 3-6 2 9 1-9 0 4 1 0 2-6 0 10 0 3 1-3 0-8 1 2 1-2 1 2 2-1 3 0 0 2 12-2 65 2 0 2 2 0 1 6 1-13 4 7 2 4 2-4 18-7 1 6 0 0 7 6 7-4 13 6 21-10 5 6 2 2 1-11 1 8 1 3 0-1 3-8 0 0 0 11 1-8 1 0 4 8 1-7 0 7 1 0 0-4 1-8 0 3 0 4 10-1 2-6 0 0 0 11 5-8 0-4 4 2 4 7 1-7 0 4 1 0 0-1 0-1 5 1 1-6 2 5 0 4 0 0 1 3 0-5 0-4 1-3 0 1 0 1 0 0 0 4 0 1 0 1 0 1 0 1 0 3 1-4 0-3 0-3 0 0 0-2 0-1 1 0 0 2 0 2 0 2 0 0 0 2 0 2 0 0 0 1 0 3 1-2 1-12 0 2 0 3 0 1 1-1 1-5 0 3 0 2 1 4 0-4 0 0 0-3 3 8 4 0 4-2 1 4 0-9 1 0 0 7 3-7 1-2 0 3 0 2 1 3 1-2 0 3 1 3 0-13 1 12 0 1 1 1 0-1 0 0 0-7 0-4 1 5 1 2 0-7 0-1 1 3 0 9 3-4 0-1 1 4 0 0 3-1 1 1 0 0 3-7 2 2 6 4 1-9 1 10 4 1 2-5 1-3 3-4 1 2 0 2 0 4 0 1 1 3 0 0 1-10 0 2 1-1 1 2 1-5 1 4 0 4 3 3 1 0 0 1 2 1 0 0 0-10 0-1 0-1 0 0 0-1 1 0 0 1 1 7 0-1 0-4 7 1 3 1 1 0 4-6 2 10 0 2 2-2 0-4 0-3 1 5 1-6 1 0 0 12 2-12 1 7 1-4 0-5 1 2 0 0 1 3 1 0 0 4 0 1 0 2 0 1 1-8 0-2 1-1 1 8 0-4 1 0 2 1 0-4 7 6 1 4 1-7 3-5 2 6 1-4 1 11 1-6 1-3 0 6 2 2 1-11 2 12 0-2 0-9 1 9 3-1 0-5 2 5 1-3 0-3 1 6 1 1 0-11 1 5 1 7 5-1 3-3 0-7 1 4 1-4 2 7 3-7 1 7 2 1 0-2 0-3 0 0 1-2 0 0 0 2 0 1 0 2 0 5 0 1 1-4 0-3 0-2 0-1 1-1 1 1 0-1 3 3 4 8 3-12 1 12 0-12 1-1 2 6 2-6 10 9 0-5 0-3 1 5 3 5 0-7 0-2 0-2 2 3 2 7 0-8 2 1 1 10 1-13 1 1 1 8 8-7 1 8 3 3 6 0 2-3 4-2 1-1 1-2 0 1 1-5 0-1 1 0 3 7 0 0 2-6 0 2 0 4 1 4 5-8 1 4 2 5 1-4 3-6 0 6 3-7 1 9 5 2 5-7 3-5 1 5 1 1 0-7 4 6 0 8 4-6 2-7 5 9 2 1 2 0 2-10 0 10 3-5 0-2 1 7 1-3 0-2 1 4 1-7 0-2 1 2 1 2 0-4 3 7 4 6 5-2 5-2 0-6 1 1 2 4 1-7 0 3 1 7 9 1 2-12 3 11 0 2 19-2 71-4 48-7 16 2 0 1 0 6 0 1 1-4 0 0 0-3 1 6 1-9 1 4 0 3 0 2 2 1 1-11 0 3 0 3 2 5 0-10 1 0 3 8 1-9 0 6 1-2 1 5 1 4 3-10 1 3 0-6 2 8 1 0 3-2 0 1 1 4 4-9 0 7 6 5 5-13 0 3 0 5 0 5 3-13 5 3 3 5 0-4 3-5 0 11 2-6 1 3 1 0 1-8 0 3 0 0 0 0 1 4 1-4 0 7 1 2 1-12 1 10 1-9 1 7 1-8 5 3 1-1 0 1 0 1 0 10 3-8 1-6 1 6 0-2 0-1 1 1 4 8 0-11 1 0 2 7 1 4 1 1 5-4 1-8 1 11 1 1 0-1 4-8 4 5 3-5 0 3 1 4 0-1 0-5 1 4 2 3 0-10 1-2 2 1 2 11 1-9 0 0 1-2 1 3 1 0 0 1 3-4 5 2 0 2 1-3 3 5 5 0 1-4 0 4 3-5 4 4 1-3 4 6 0 3 4 1 0-4 0-6 0-1 1 1 0 0 0 1 0 1 0 1 0 4 0 4 1 0 0-1 0-7 0-1 0-2 0 0 0-2 1 0 0 5 0 7 3 0 0-3 0-3 1-4 2 4 1-4 1 5 1-8 0 3 0 5 0 1 0 1 0 1 0 3 1-2 0-2 0-4 0-1 0-1 0-1 0-1 0-1 0 0 2 13 2-12 1 11 1-10 7-3 6 11 2-1 1-2 2-2 0 4 0 0 0 3 0 0 1 1 0-2 0-1 0-2 0-3 0-1 0-2 0-1 0-1 1 0 0 0 0 8 1-2 0-4 1 10 4-5 0-3 1 3 1 1 1 5 1-4 0-10 0 0 1 4 1 7 2 1 1 0 2-8 0 1 0 1 1 3 2 3 0 1 1-2 0-6 0-1 2 5 1-1 0-2 0 0 1-2 1 7 1-6 0 0 0 3 0 2 0 1 0 0 1 0 0-4 1-1 0 1 0 1 0 1 1 4 0-1 0-1 0-3 0-2 0 0 0-4 0 0 0-2 1 4 0 1 1 2 0-6 0-1 1 6 0 7 1-1 0-3 0-5 1 7 4 3 0-4 1-6 1-1 1-1 0 5 0 4 0 1 1-10 1 1 0 7 0 3 2 1 2-3 1 2 0-2 1-6 0 7 1-4 0-5 0-1 1 3 0 1 0 4 1 2 0-1 0-8 1-3 0 2 0 6 0 6 3-1 0-2 0 0 0-5 0-1 1-3 0 0 0 3 1 9 0-3 0-2 0 0 0-6 1-2 0 1 0 0 0 2 0 3 0 3 0 0 0 1 0 1 1 0 0 0 0-1 0-1 0-2 0-1 0-6 1 1 0 0 0 2 0 1 0 1 0 6 0 2 1-4 0-3 0-3 0-2 2 0 0 12 0 0 1-4 0 0 0-1 1 2 1-2 0-8 2 10 2-3 2-6 0 6 1 4 1-2 36-5 31 2 52 6 0-3 0-6 2 7 1-2 0-6 2-2 1 12 0-10 0-2 1 2 1 9 0-1 0-1 1-4 0 3 1 0 0-3 0-4 0-1 1 13 1-1 0-7 2 8 2-5 9-6 0 10 1 0 0-5 0-4 0-1 0-2 1-1 0 2 1 0 0 0 4 6 8-2 5 5 1-8 1 2 4-1 2 7 0 1 1 1 0 0 4-11 0 5 4-5 2 10 6 2 16-8 1 7 0-8 0-3 1 0 0 9 1-2 0 0 0-6 1 3 0 3 0 0 0 2 0 0 2 1 0-1 0-4 0-2 0-4 1-1 0 7 0 6 1-2 0-2 0-2 0-5 1 4 0 2 0 2 2 2 0-2 2-2 3-1 3-3 0 6 1 2 0-7 1 3 1 4 0-2 0-2 1-3 0 5 1 4 0-1 0-1 0 0 0-1 0 0 0 0 0-3 0-2 0-1 0-1 1 6 1 3 0-1 0 0 0-2 0-3 0-3 0-1 1 1 1 10 0-2 0-1 0-7 1 1 1 6 1-5 1 5 2-2 2-5 2-1 1 4 0-7 1 1 3 1 1 4 0 1 0 6 1-3 0-7 1 5 0 1 0 2 1 2 0-2 1 1 1-3 1-7 4 5 1-2 2 6 3 3 1-7 1-3 0 8 1-4 0-4 1 4 1-4 1 7 20 2 1-6 0 3 2 3 0-4 0-4 0-4 1 5 2-2 2-2 1 10 0-9 1 11 1-1 0 0 0-3 0-4 1-4 0 9 1 2 0-2 1 0 1 1 0-11 1 0 0 12 2-11 10-1 6 7 1-2 1 2 0-5 0-2 1 3 1 8 0-6 0-3 1-2 0 12 4-2 0-1 0-2 2-7 0 9 1-6 2 2 2 7 6 1 1-8 1 1 1-1 1 2 1-3 1 1 0 4 1 3 1-9 1 7 0-8 0-2 1 3 0 6 0 3 1-5 0-3 1-1 8 6 3 3 0 1 5-8 4-6 4 4 0-3 4 6 1 0 1-5 1 6 0 0 0-4 1-3 1 13 0-7 0 0 0-4 0-2 0-1 1 5 1 2 0-6 0 0 1 1 0 0 0 4 0 7 1 1 0-4 0 0 0-5 0-1 1 5 0 3 1 1 0-3 0 0 0-1 0 0 0-1 0 0 0 0 0-3 0-1 0 0 0 0 0-1 0 0 0-1 0-2 1 10 1-8 3 7 1 4 1 1 4 0 0-5 2 2 0 2 1-2 5-10 0 6 1 3 2-10 0 8 0 5 1-1 0-8 0-2 1 6 0 5 1-11 0-1 1 6 1 0 0-1 2 8 1-4 1-10 4 5 4-4 1 9 0-1 0-1 0-8 1 0 0 4 0 4 0 2 0 4 1 0 0-8 0-6 1 2 0 1 0 2 0 4 0 3 0 2 1 0 0-2 0-2 0-3 0-3 0-1 1 7 0 1 1 3 0 0 0-7 1-7 0 2 0 6 0 3 1 3 0-6 0-7 0-1 1 8 1-3 6-4 0 3 2 4 1 5 1-9 1 3 0 1 0 5 2-6 0-6 1 5 0 5 1-4 1-3 1 5 0-4 0-2 0 0 7-3 0 10 0 2 4-10 2 3 1-5 1 4 0 5 1 2 0-9 1 5 0 1 0 4 0 0 4-2 1 1 31-6 16-3 34 9 9 2 1-12 10 6 1 5 4-11 3 8 0-6 1-3 0 10 2-6 1 9 0 0 2 1 0-4 0-10 1 0 3 12 1-1 1 1 0-9 1 0 0 4 2 2 1-5 0 10 1-3 0-4 0-6 2 1 0 4 2 3 3-8 3-1 1 6 1 3 3-5 0 6 1 0 0-7 1 5 1-6 1 4 0 2 2-5 19 0 8 6 11-5 13 1 0 0 11-2 2 3 2-2 2 3 2 6 4-3 9-3 1 3 1-6 1 3 0-3 2-1 2-3 1 3 0 5 0 1 1 4 0-9 0-1 1 2 0 3 1 5 0-7 0-3 0-3 1 1 0 1 1 1 1 6 1-8 1 8 2-4 1 8 1 0 0-8 3-1 1-2 1 4 12 5 0-5 0-3 2 0 0 7 1 3 0-1 0-9 1-1 0 1 0 1 0 0 0 2 0 5 1-1 0-1 0-1 1 0 8 6 5-5 5 5 0-5 0-6 1 4 0 7 2-14 8 4 1 0 6 7 0 0 0 3 2-10 0-3 0-1 1 11 1-10 1 9 7 3 1-5 1 0 1-8 1 1 1 4 2 5 0-8 1-1 3 13 2-12 3 7 1 0 0 3 2 1 1-5 0 5" fill="none" stroke="none" marker-start="url(#s25)" marker-mid="url(#s25)" marker-end="url(#s25)"/>
<path d="m123 631 0 1 1 3 0-1 0-1 0-4 0 0 1-1 0 1 0 2 0 2 0 0 0 7 0 1 0 1 1-1 0-1 0 0 0-1 0-5 1-3 0 4 0 5 0 0 0 2 0 0 1 0 0-2 0-3 0-4 1-4 0 0 0 2 0 8 0 3 0 0 1 0 0-2 0-1 0-1 0-1 0 0 0-4 0-1 1-2 0 1 0 3 0 5 4 4 0-4 0 0 1 1 2 1 0-5 1-1 1-2 0-1 1 2 0 4 0 4 0 0 1 0 0-1 0-3 0-2 0-1 0-3 1-3 0 2 0 1 0 4 0 5 0 1 0 0 1-3 0-1 0-1 0-2 1-6 0 7 0 1 1 1 0-3 1 8 1-6 1 1 1 4 0-2 3 2 1-14 1 7 0 0 2 3 0-4 1 2 0 4 1 0 1 0 1 2 0-8 1 7 1-8 1 6 8 2 0-5 3 0 1-2 0-5 2 3 12 7 0-5 1-1 0 1 0 7 3-11 1 2 2 7 0 0 9-9 1 5 4-3 1 6 51-3 42 1 8 0 1-4 4 1 10-3 8 3 0 2 5 3 0-3 1 3 0 0 0 3 2-2 3-1 3 4 1-3 1-10 1 13 1 0 0-8 5 1 1 7 0-3 1-9 0 1 0 6 0 0 1 4 0-3 0-2 0-3 0-3 1 3 0 4 1 6 0-4 0-4 1 0 1 4 0-3 0-5 2-2 0 13 6-5 2 2 6 1 0-5 1 2 0 4 1 2 0-4 0-3 0-1 0-4 0-3 1 13 2 1 0-10 6-1 0 1 3-1 2 5 1 5 0-10 0-2 1 2 0 4 4 8 0-7 1-1 3 6 0-7 1 2 1 6 0-2 0-11 1 1 0 2 0 0 0 0 0 4 0 4 1-2 1-7 0 0 0 4 4 1 0-2 3-3 0 8 3 0 1-4 1 0 1 1 0 3 0 1 0 0 1-6 0-3 0-1 1 5 1-3 1-3 0 6 2 4 0-3 2-1 1-4 3 7 2-3 0-4 1 3 0 3 10 0 0-6 7-1 0 1 0 0 1 8 1-8 0 4 0 1 0 4 1 2 0-1 0-5 0-4 2 2 0 5 0 0 0 1 0 1 1-1 0-5 0-1 0-5 1 0 0 2 0 9 0 1 1-12 3-1 0 2 1 4 0-1 1-3 0 3 0 6 1 3 0-1 0-3 0-5 0-2 0 0 3 8 1 4 0-2 0 0 0-5 0-5 2 9 1-11 2 0 0 0 0 4 0 8 3-5 3-2 0 2 0 4 3 2 0-12 0 0 1-2 0 11 0 1 1-8 0-1 1 8 1-10 2 13 1-13 1 7 0 3 0 3 10-6 6-5 3-1 6 7 8-7 1 10 13-3 1-7 2 7 4 1 17 2 14-5 10 8 0-7 0-5 14 8 3-5 1-4 0 4 1 4 0 0 1 5 4-4 0 0 1-7 0 7 1-10 1 5 1-2 1-2 0 4 0 2 0 1 0 5 3 1 1-6 0 4 1-2 3-6 13 8 0-4 0-2 1 1 2 4 62-11 0 5 1 8 19-2 2 0 18-6 12 5 10-9 15 10 0-9 5 8 4-2 0-2 0 0 2 0 1 5 1 1 3-6 1 0 0 5 0 3 3-7 0-3 0-4 1 9 2-5 2-1 2 1 0 0 2 4 0 5 2-7 3 7 4-9 4 5 1-5 2-3 0 10 1 0 0-1 1-7 1 11 1-13 3 3 0-1 2 3 0 3 2-4 0-2 1 4 1-4 0-2 1 0 0 4 0 2 0 2 0 4 2-5 0 0 0-7 0 0 1 0 0 5 0 2 0 3 0 2 1 0 0-3 0 0 0-2 0-6 1-2 0 1 0 3 0 4 0 0 0 3 0 1 0 0 0 1 1-1 0-1 0-2 0-1 0-4 0 0 0-1 0-3 1 10 0 1 1 2 0-11 1 0 0 1 0 2 0 1 0 1 0 1 1 4 0-13 1 2 0 0 0 8 2 1 2-9 2 3 1 5 2-1 0-1 1 1 1 4 0-7 1 2 1 7 0-7 1 5 1-2 0-7 2 4 1 0 0 0 0-7 1 6 0 6 0 0 1 1 0-10 0-3 1 1 0 3 0 0 0 5 0 4 2-2 0-1 2-5 2 5 0-3 4-6 0 5 0 7 1-8 4 6 1-4 0-5 4 0 1 10 1-9 0 3 1 1 0-1 1-2 0 8 1-2 0-8 1 1 0 11 1-1 2-12 2 6 1-4 0 2 0 2 1-1 1-5 0 6 0 3 0 3 1-9 0-2 3 11 1-10 1 8 0 3 5 0 0-2 1-3 1 4 0-7 0-3 0-1 1 2 0 9 1-11 0 0 1 8 1-9 1 12 1-5 3-1 3 2 3-9 1 0 4 5 0 0 0 2 0 2 1 2 0-5 0 0 0-1 0-1 0-2 1 1 0 2 0 0 0 8 1-1 0-4 0-5 0-1 1-1 0 0 0 4 0 0 0 1 0 0 0 6 1-4 0-2 0-2 0-3 1-1 0 1 0 1 0 9 1-5 1-5 0 1 0 1 0 2 0 3 0 0 0 3 0 0 1 2 0-9 0 0 0-3 1 1 0 11 1 0 0-3 2-10 0 0 0 2 0 6 0 6 2-1 1-13 1 11 0-10 1 6 2 6 0-6 3 6 1-5 1-4 0 0 0 2 0 2 1-2 0-1 1-3 0 2 0 0 3 3 1-2 2 4 0-1 0 0 2-8 0 9 1 2 1-4 1 0 1-7 0 6 0 2 2 2 0-4 0-3 1-3 0 8 1-6 0-3 1 12 2-6 0-3 0 0 1 0 1 2 0-4 1 6 0 2 1-1 0-4 0 0 5 3 0 2 2 5 0-13 0-1 5 4 0 10 1-8 3-4 1 10 0-4 0-7 1 3 1 6 0-6 0-1 1 3 0 0 0 0 1-1 1-4 0 9 0 4 1-7 1 1 0 4 1 1 0-11 0-1 1 1 1 2 1-3 1 5 1-5 1 2 1 8 2 0 7-3 3-2 1 3 0 1 0 5 4-7 1 4 1 2 0-9 2-3 0 3 2 3 0-5 1 10 2 0 2-9 3 3 0-3 3 9 1-12 1 11 2-4 1 0 2-6 1 5 0 1 7 5 0-1 0-8 0-2 2-1 1 3 1 4 1 2 1-3 0 1 1-5 1 11 1-3 5-10 0 1 0 5 1 0 1 7 4-11 3 2 0 10 1-12 1 5 1-1 0-1 1 8 1 1 2-11 5 3 2-5 1 1 1 1 1 1 0-1 2-3 2 9 2-9 0 13 1-7 2 0 2 4 0-6 2 4 1-6 1 4 1 7 0-1 0-4 0-3 0-1 0-2 1 10 0 1 7 1 0-3 0-9 2 0 1 11 1-11 0 7 1 3 2-10 0 10 1 0 2-2 0 3 1-2 2-5 2 6 3-3 1-2 0-4 3-1 1-2 1 1 0 1 0 1 1 9 0-4 0-1 0 0 1 0 0 2 1-9 0 0 1 8 1 1 0-1 1 0 3-5 1-1 2 8 0-1 1 0 1 0 0-3 2-2 1 6 0-8 2 11 2-4 1 3 4 2 11-2 1-5 10-6 15 6 11-5 0 3 10-2 25 0 10 7 42-3 4-1 13-5 0 2 0 1 0 1 0 2 0 0 1 5 1-12 0 1 0 4 1 3 2-8 0 6 0 2 0 3 0 1 0 0 1-7 0-4 2 6 1 6 2-5 1-5 1-2 0 5 3-5 1 12 1-5 0-1 1-6 2 7 1 5 1-6 1-1 0 4 1-9 1 0 1 4 2-3 0 5 1-1 3 5 1-2 1-1 1 1 0-3 5 2 0 5 3-11 2 4 3 6 2-7 1 0 6 3 1 4 0-9 0-3 1 12 1-3 0-8 1 0 0 1 0 2 0 2 0 1 0 1 0 4 1-2 0-2 0-7 1 10 0 2 3-2 0 0 3 3 1-1 0-2 0-4 2 0 0 2 1-8 0-1 3 6 3 6 1-12 0 1 0 1 2 4 1-4 1 5 0-2 2-4 1-1 1 1 1 10 0-4 0-4 0-3 0-1 1 9 0 5 1-1 0-5 1-2 1-2 2 3 0 1 2-6 1 0 2 2 1 6 4-8 2 2 1 9 1-8 0 4 0 3 0 0 2-3 1-1 0 3 0 0 2-3 0-1 1 7 1 0 0-2 0-6 0-2 1-1 2 11 0-1 0-1 0-3 0 0 0-4 1 3 1 0 1-5 1 6 0-1 1 0 1 3 1-2 1 1 0-7 1 6 1-5 1 6 1-10 1 3 2 11 2-14 0 12 2-4 1 0 0 5 1 1 2 1 1-5 1-7 4 1 1 9 2 2 0-13 4 4 1 9 0-8 0-1 0-1 0 0 0-2 0-2 1 0 0 3 0 1 0 5 0 1 0 2 0 0 1 1 0-1 0-12 0 0 1 0 1 2 1-2 0 2 0 9 1 3 0-14 1 1 0 9 1-5 0-1 1-4 0 2 0 7 0 0 0 4 1-9 0 0 1-2 0 0 1 12 0-3 0-1 0 0 0-1 0-4 0-4 1 0 0 1 0 1 0 1 0 0 0 1 0 1 0 0 0 1 0 4 0 2 3-9 1 5 0 3 0 1 2 0 0-1 0-1 1 2 4-5 0-6 3 0 3 11 3-5 3 0 1-6 0 4 1 3 0-6 0-2 1-1 0 2 0 11 6-13 2 2 1 5 2-2 0 5 1-4 4-6 0 5 0 7 1-5 0-3 1 5 1-5 1-2 0 7 1 3 0-11 0-1 2 4 0 1 0 0 1 7 0-5 0-5 1-1 1 9 0 0 0-3 0-3 0-3 0 0 1 4 0 0 0 2 1 2 0-3 0-3 1-3 0 3 0 2 0 2 0 0 0 4 0 1 0 0 0 0 1-1 0-3 0-6 1 10 1-3 0-2 2 4 0 1 1-4 1-7 2 5 2-2 0 4 2-3 2 7 1-10 0 0 1 5 1 0 2-4 1 3 1 0 0 2 0 5 1-8 0-4 1 4 1 7 0-4 0-2 0-3 1-4 0 3 0 6 0 1 0 4 1-9 2-1 0 4 0 4 1 0 0 0 0-2 0-1 0-1 0-1 0-4 0-1 1-1 0 2 0 1 0 0 0 0 0 2 0 2 0 2 0 0 0 0 1 4 0-3 0 0 0-1 0 0 0-1 0-1 0-7 0 0 1 2 0 2 0 8 0 0 1-5 2-5 0 2 1 4 0-2 1-2 3 4 1-4 2 6 0-1 2-7 0 9 19-3 12 1 26 0 10-6 20 6 0-5 35-3 1 10 1-10 0 1 0 3 2 0 0-2 0-1 1 0 0 0 0 4 1 4 0-1 0-7 0 0 0-1 1-1 0 2 1 11 0-3 0-6 0-3 0-1 0 0 1 6 0 0 2-4 1 2 1 1 1-1 1-1 1 3 6 2 0-8 1 1 0 4 1-3 1 0 0 5 1-1 0-3 2 10 3-10 1 0 2 10 0-13 1 0 1 4 0-4 1 8 1-3 1 2 6 3 3-7 1 2 1 0 0 1 1 6 0-4 1-4 0 2 3 7 1-1 1-4 5 0 1 2 1 0 4-3 17 2 2 0 0-2 1-4 0 1 0 8 1 1 0-1 0-10 1-1 0 1 0 3 0 1 0 3 0 3 1 1 0-4 0 0 0-5 0-2 1 0 0 3 0 2 1 4 0-8 0-3 2 8 1 1 0-1 3 1 0 4 2 0 0-7 1 4 2-5 1-4 0 7 1-5 1-2 0 3 0 2 0 3 0 4 0 0 1-1 0-2 1-9 0 3 0 2 0 5 0 2 1-2 0-5 0-2 0-1 1 6 1-1 0 0 0-3 0-5 1 6 0 7 1-8 0-1 1 9 1-12 0 0 2 6 0 0 3 6 2-9 0 5 1 5 0-4 0-5 0 0 1 0 0 1 1-3 1-3 1 4 1-1 0 4 0 4 1-4 0-5 0 0 1 3 0 2 0 2 0 2 1 2 0-7 1-3 12 0 2 5 1 0 0-8 2 0 0 2 1 8 0-10 16 13 2-9 1 2 0 2 1-1 0-6 1-1 1 2 1 3 0 0 1 0 2 2 1 6 0-9 0-2 1-2 0 7 0 6 1-2 0-6 0-3 0-1 1 5 0 2 0 0 0 3 1 0 0-3 0 0 0-3 0-5 2 7 2 0 1-2 3 9 0-7 1 4 2 1 2-10 0 10 2-3 1 1 1-6 3 3 1-6 4 0 1 2 0-2 0-1 0 0 3 5 0 6 1 2 0-6 0-1 0-5 1 2 0 6 0 1 1 1 0-3 0-3 1-1 1 9 0-8 1-1 1 1 1 2 0 7 3-7 0-1 2 8 3-6 2 1 1-8 1 8 1-8 2 3 0 4 1 0 0-2 1-5 2 4 1 4 6 3 2-9 0 6 3 4 1-1 1-1 0-9 0-2 1 2 2 0 1-1 0 2 1 0 0-3 0-1 2 2 0 7 0 3 1-2 1 4 1-4 1-6 0 9 0 1 2-4 2 3 1-7 0 0 0-1 0-4 1 0 0 0 0 4 0 1 0 3 0 3 1 2 0-7 0-1 0 0 0-2 0-1 0-1 1 0 0 4 0 2 1 2 0-2 0-2 0 0 0-5 1 1 0 0 0 2 1 10 0-1 0-3 0 0 0-3 0-1 1-1 0 4 0 1 0 0 0 0 0 1 1 3 0-1 0-1 0-5 0-3 1-1 0 3 0 3 0 0 0 0 0 0 0 1 0 1 0 3 1-6 0-1 1-3 2 9 2 1 1-10 4 8 4-8 4 6 1 1 0-9 0-1 1 12 1 1 0-13 1 8 1 2 0-2 2-5 0 0 0 6 1 1 0-8 1 11 1-9 0-1 4-2 0 10 4-1 2-9 1 11 1-11 0 1 0 1 0 4 0 0 0 2 0 0 0 1 0 0 0 1 0 2 1-5 0-1 0-4 0-1 0-2 1 1 0 2 0 0 0 1 0 0 0 1 0 3 1-1 1-7 0 1 0 0 0 1 0 1 0 2 0 2 0 1 0 2 0 0 0 0 1 4 0-1 0-2 0-1 0-3 0 0 0-1 0-4 0 0 0-2 1 8 0 2 0 1 1 1 0-1 0-2 0-7 1-2 0 2 2-2 2 10 10 4 0-8 0-3 1-2 0 6 0 2 0 3 0 0 1-3 0-1 0-5 0 0 0-1 0 0 1 1 0 2 0 0 0 4 0 4 1-3 0-1 0-2 0-4 1 4 0 2 0 2 1 3 0-12 1 7 2-7 2 11 2-3 2-5 1 5 0-1 1-9 0 2 0 1 1 11 0-9 1 5 1 1 0-4 0-2 0 0 0-1 0-1 1-1 0 5 7-7 22 11 9-1 4-5 0 3 18-5 6 5 1 1 1-3 13-4 6 6 2-2 3 1 3 6 11-6 1 1 1 5 3-12 4 3 1 3 0-3 3 9 7-13 2 1 0 4 3 3 1 4 1-5 4-4 0 2 1 3 4-3 0 2 0 1 0 2 1 2 0-5 0 0 0-5 1-1 0 3 0 2 0 4 1-1 0-3 0-2 0-3 1 1 0 5 1 1 0-6 1-2 0 8 0 4 1-4 0-1 0-4 0 0 1-1 0 1 2 8 1-10 0 1 0 10 16-2 1-8 1 12 14-1 18-11 3 5 2-4 1 1 1 9 1-2 1-9 2 7 2 1 0-2 4-6 1 4 1 3 0 4 5-6 1-7 0 8 0 3 4-7 6-3 1 0 1 11 2-6 1 1 1-6 1 0 0 6 1-5 0 0 1-1 0 1 0 5 1 4 0-3 2-3 0 2 1-6 1 4 1 9 0-8 2-5 0 11 9-4 7-4 1-3 2 9 1-2 0-3 0-3 0-2 1 0 0 10 1-2 0-7 0-1 0 0 2 14 3-11 13 8 1-2 0-4 0-3 1-1 0 3 0 1 0 0 0 2 1 5 0-3 2-3 8-3 9 0 0 8 1-6 0-2 1 6 2-6 0-1 1 2 3 0 1-4 0 1 1 10 3-11 0 3 0 11 6-13 1 7 6-5 2-1 0 4" fill="none" stroke="none" marker-start="url(#s26)" marker-mid="url(#s26)" marker-end="url(#s26)"/>
<path d="m123 615 0 9 0 2 0 2 1-1 0-7 0-1 2-3 0 2 1 9 0-1 0-1 0-4 0-1 0-4 1 7 0 1 0 0 0 0 0 0 0 2 0 2 1-4 0-8 1 2 0 6 0 1 2 0 1-10 0 9 1 4 1 0 1-10 1 1 0 3 0 6 1-4 0-10 2 1 0 7 0 2 0 3 1-5 0 0 0-8 2 13 0 0 0 0 1-1 0-1 0-3 0-2 0-1 0-1 1-1 0 5 1-5 0-1 2 0 0 1 0 9 5-4 4 3 2-10 4 9 0 3 2-5 6-3 2 3 0-1 0-3 1-3 1 4 0-5 2 4 10 4 5-1 0 0 0 6 1 0 1-12 0 6 0 1 0 3 1-7 1 5 5 1 9 4 6-5 36-7 9 12 53-14 3 0 2 7 11 6 1-10 0 3 2 2 7-3 0 3 2 4 0-5 0-5 2 3 10 1 5-1 1-1 1-2 0 10 0 1 0 0 1 1 0 0 0-3 0-3 0-1 0-4 1 4 1 6 1-5 2-4 6 6 2 1 1-1 1-2 3-4 1 10 1-8 0 2 1 0 0-3 0-3 0-1 1 7 1 2 0-4 0-3 0-3 1 7 0 2 0 1 1-5 1 0 1 4 1 3 0 0 1-10 1 6 0 3 5-7 6 1 2 4 1-6 0 8 1 3 1-8 0 6 1-7 0-5 1 2 0 4 1 6 0-3 0-2 0-1 0-2 0 0 1-1 0 4 0 3 0 2 1 1 0-9 0-4 1 4 0 2 0 8 1-5 2-8 0 11 5-4 2-1 1-2 1-2 0 1 0 0 1 10 0-2 0 0 0-9 0 0 1-3 0 3 0 3 0 3 0 1 0 3 1-3 1-9 0 11 1-8 1-1 0 3 4-2 6 3 1 7 0-10 0-4 1 7 1 2 6 4 1-10 2 6 1 2 1-10 0 1 0 9 0 1 1-3 0-4 2 0 1 3 1 4 1-3 0-4 0 0 0-2 0-1 0-1 0-1 1 2 0 2 0 2 0 3 0 0 1 5 0-1 0-5 0 0 0-2 0-2 1-2 0 0 0 2 0 5 0 2 0 1 0 2 1-10 1-3 1 8 0-1 2-6 0 1 1 3 0-3 1 0 0 3 0 0 0 4 0 1 0 2 1 0 0 0 1-11 2 1 1 3 0 1 1 4 7-6 0 4 1 1 1 3 2-7 0-1 1 9 0 0 1-1 0-5 0 0 0-5 1 0 0 8 1-10 1 9 1 4 0-7 1-3 1 2 1-2 1-2 2 6 3-6 13 12 9-2 4 0 0 1 2-7 2 4 5 1 25-9 2-1 7 10 20 2 2-9 12 4 0-5 1 3 3 4 7-8 1 7 0-4 1 1 0 6 0 0 9 2 10-8 4 8 6-5 59 4 0-3 0-3 0-5 1 8 13-1 10-3 17 5 14-9 16 3 8 0 9 6 0-7 0-4 2 0 1 9 0-1 0 0 1 6 2-4 0-5 1 3 0 1 1 2 0-4 6-4 0 1 0 7 2-7 1 2 1 5 1-10 1 0 1 13 4-13 3 0 0 6 1-3 2 10 2-1 0-5 2 3 1-3 0-7 1 0 1 9 0-3 1 0 2 6 3-4 0 2 2 1 0-5 1-4 0 5 0 2 0 1 1-6 1 3 0 1 1 5 0-1 0-12 1-1 0 3 0 1 0 3 0 1 1 6 0-1 0-1 0-5 0-7 1 0 0 1 0 4 0 1 0 3 1 0 0-2 0-1 0-3 0 0 0-1 1 2 0 0 1 9 0-3 0-5 0-2 0-3 1 2 0 9 0 1 1-2 0-1 0-7 1-1 0 2 0 9 0 1 0 1 2-11 3 6 1 3 0-2 0-9 1 12 2-1 1-11 1 11 0-3 0-1 0-1 1-4 0 2 0 3 1 6 1-14 0 11 0 1 1-6 0-6 1 0 0 6 0 1 0 1 1 4 0-12 2 2 0 0 0 1 0 2 0 4 0 4 1 0 0-4 0-2 0-1 1-2 0 4 0 1 0 0 0 4 0 1 1-3 0-5 0-1 0-2 1 10 0 1 2 0 7-6 1 3 0-1 1-4 3-1 3 4 1-2 1 7 1-7 0-4 1 0 0 2 2 1 0-3 2-2 0 9 0 2 0 2 2-12 1 8 1 0 0 0 0-3 2 5 1-3 0-1 0-5 0-3 1 3 0 5 0 1 2 4 2-12 0 4 0 5 0 2 0 2 3-12 1 2 0 9 3 0 0-5 0-1 1 0 0 0 0 1 2 4 0-4 0-6 1 1 2 3 3-5 1 10 0-9 3 10 2-4 0-6 4-1 1 5 1 8 1 0 0-1 0-3 0-3 0 0 0-2 1 0 0 1 0 3 1 3 0-4 0-6 0 0 1 6 0 3 0 0 0 1 1-1 0-1 0-2 0-6 1 0 0 4 1 4 0-1 0-5 0-4 1 6 1 6 0-1 0-4 0 0 0-6 1 0 0 5 0 0 0 2 0 0 0 5 0 1 1-2 0-1 0-3 0-4 0 0 1-4 0 4 0 1 0 2 0 4 0 1 0 0 1 0 0-5 1-1 2 5 1 0 1-7 1 8 1 1 1-11 0 8 2-5 0-5 1 3 0 3 0 4 0 4 1-2 0-1 1-1 1-6 0-1 1-2 1 11 0-1 2-1 0 2 1-5 1-1 2 1 1-5 0 6 0 2 0 1 1-2 0-5 0-3 1 5 0 7 1-11 0-2 1 7 0 0 0 4 0 3 1-5 1-3 1 6 0-8 1 7 1-2 0-6 0-2 0-1 1 0 0 0 0 3 0 1 0 1 1 7 0-2 0-8 0 0 1 4 1-1 0-1 1 9 3-3 0-3 2-4 3 8 3 3 1-10 2-2 0 0 2 9 2-10 0 1 0 1 0 2 0 5 1-4 1-4 0 0 0 1 0 0 0 0 0 6 0 4 1-2 0-2 1-8 0 1 1 4 0-6 1 0 0 8 0 3 1-2 0-1 0-3 1-2 0 6 1-2 1-2 3 3 1-6 1 0 2-2 0 4 7-2 0-1 1 7 1 0 2 3 1 3 1-5 0 4 1 1 0-4 0-1 0-6 1-1 0 7 1-5 0-3 1 2 0 8 0 3 1-3 0-1 0-5 0-1 0-3 1 1 0 1 1 6 0-7 1 1 0 9 1-1 0-1 2-2 1-3 1-3 3 11 0-2 1 3 1-6 1-7 0 5 0 7 2-4 1 5 2-12 2 9 1 2 0-3 0-6 4-4 0 10 1 3 1-9 1 10 0-9 1-1 0 0 0 2 0 1 0 7 1-2 0-2 0-6 0-1 0-3 1 5 0 2 0 1 0 0 0 5 1-1 0-6 1-3 0 1 0 1 0 1 0 7 1 1 0-3 0 0 0-10 1 1 0 2 0 1 0 2 0 1 1 5 0-4 0-3 1 6 2-3 1-2 1-1 1-1 1 8 0-3 4 2 1-10 4 4 1 0 1-5 0 2 0 4 1 4 1-6 2 7 0-5 0-2 0 0 1 3 0 4 1 2 1-13 0 6 0 3 3 2 1 1 1-5 2-1 1-4 2 8 1 2 1-11 0 4 0 0 1 2 0-7 2 3 0 10 2-10 3-2 1 11 0-5 0-5 0-2 0-1 1 1 0 2 0 4 0 0 1 7 0-5 0-8 7 2 1-1 1 12 1-13 1 3 0 7 0 1 1-7 0-1 0 0 1 0 0 10 1-7 0-6 1 6 1 6 1-2 2-1 1-9 1 13 0-1 4-13 0 13 2 1 0-4 1 0 1-3 1-4 0 7 0 4 1 0 0-1 0-5 1-6 1 8 0-10 3 7 3 7 2-5 1-4 0-5 3 5 4 0 0-4 2 7 1-3 1 5 1 3 1-10 0 8 11-7 2 9 30 0 2-9 3 2 3 7 1-12 9 5 4 3 6 0 29 3 4-1 2-9 34 2 14 7 0-6 0-2 0-1 1 3 0 6 0 1 1 1 0-4 0-1 0-2 0 0 0-1 0-3 0-2 1 9 0 2 1-1 0-4 3 6 1 2 0-3 1-5 0 1 0 7 2-5 0-9 1 9 1 4 3-10 0 7 2-8 2 3 0 1 1 3 0-7 1 0 0 3 0 2 1 7 0-1 0 0 0-8 0-1 0-4 1 2 0 6 1 0 0-3 0-3 1 2 2 5 0-7 0-1 0 0 0-1 1 14 4-10 1-3 1 8 0 0 1 1 3 0 0-6 2 6 3-3 0 0 3-3 0 9 1 0 0-12 1 6 2 5 1-9 4 0 0-3 2 9 0 4 1 1 1-11 1 8 0-1 0-5 1-3 0 3 0 2 0 0 0 3 1 1 0 0 0-6 0-2 1 2 0 6 1-6 0-4 0-1 8 12 1-5 1-6 0 7 1 6 0-7 0-2 2-2 1-1 1 11 1-3 0-2 0-7 1 8 1 3 0-2 1-6 0 8 1-1 0-5 1-2 3 6 0-2 0-3 1-4 0 2 0 9 0 2 1-12 0 0 0-2 1 5 0 4 1-3 0 0 0-4 2 0 1 12 3 0 2-14 1 9 1 2 0-2 4 2 1-2 4-5 0 10 1-2 0-5 0-4 0-3 0 0 1 3 0 1 1 10 0-1 0-7 0-1 0-4 1 3 0 10 1-2 0-7 0-2 1-2 1 2 0-2 1 8 2-2 0-2 0-3 1 4 1 4 1-4 1 2 0-5 1 4 0 4 1-7 0-2 1 4 0 6 1-11 4 6 2-3 1 7 2-7 1 6 1-6 0-3 2 3 0 8 2-1 0-9 1 5 1-4 1 3 0 3 1 0 4-7 0 1 1 2 1 9 1-8 1-3 0 3 0 1 0 4 0 1 1 1 0 0 0-2 0 0 0 0 0-2 0 0 0-1 0-4 0-2 0 0 1-2 0 2 0 0 0 1 0 2 0 0 0 0 0 1 0 1 0 1 0 4 0 1 0 0 2-7 0-2 0-1 1 3 1 3 0-3 0-2 1 6 0 1 1 3 0-12 2 2 0 4 0 1 1 1 0-5 1-1 0 0 0 1 0 1 0 1 0 2 0 0 0 2 1 1 0-2 0-2 0 0 0-1 0-1 0-1 0 0 0-2 0-1 3 3 2-2 3-3 13 14 1-13 2 12 0-1 0-8 1 2 0 5 1-2 0-6 0 0 0 0 1 7 0 2 1-5 1-1 0 6 1-10 1 7 2-6 1 7 2-7 2 7 1 1 1-5 2 6 1-3 3 5 1-12 0 8 0 4 1-8 0-3 3-1 0 5 1-1 0-5 1 1 0 1 0 11 1-1 0-3 1-8 0 1 0 3 0 7 0 1 1-6 0 0 0-3 0-1 1 0 0 7 0 2 0 1 1-6 0-3 1-5 0 2 0 2 0 3 1-5 2-2 0 2 2 1 0-2 2 10 0 0 2 0 0-10 2 5 0 2 1 6 0-1 1 1 1-8 1-6 0 9 0 2 1-8 1-2 0 8 0 5 1-9 1-5 2 4 0 0 1-4 0 4 0 5 1 0 0-9 2 9 1 4 0-6 0-1 0 0 1-1 0 6 0 2 1-6 0-1 0-3 0-1 0-1 0 0 1 0 0 1 0 4 0 0 0 2 0 3 0 0 0 2 1-1 0 0 0-12 2 7 3-4 8 9 8-10 3-2 11 2 8 8 7-5 8-4 8 8 3-3 11 8 2-5 4-6 7-3 2 4 1-2 1 4 8 4 9-6 16 1 2 2 1-6 3 4 2 3 0 5 1-4 1-3 0 2 0 2 0 1 0 3 1 0 0-1 0-4 0 0 1-4 0 2 0 0 0 0 0 2 0 2 1 3 0-8 0-6 1 6 0 6 0 2 1-10 1-3 0 0 0 11 1 1 2-11 1 8 2-2 1-2 1 1 4 7 0-3 0-3 0-6 0 0 1 11 6-2 1-9 0 9 6 0 1 3 4-13 1 11 1 1 0-12 2 6 2-6 1 6 0 1 0 5 2-9 0-1 3 10 1 0 0 0 0-9 1 4 0 0 1 3 3-5 0 3 2-6 2 1 0 4 20-1 1-2 0 0 2-4 1 5 1 3 0-2 0-4 0-2 1 2 0 6 0 1 0 2 0 0 1-4 0-1 1-5 2 6 0-4 1 7 8 0 3-10 0 1 0 1 0 2 0 4 0 2 1 0 1-8 0 1 0 1 0 0 0 8 1-1 0-2 0-1 1-8 1 7 0-7 1 0 1 9 0-3 2 2 2-2 1-5 2 10 3-12 0 14 1-11 0 0 2 1 0 6 1-4 0-3 1-2 0 3 0 0 0 6 0 2 0 0 1-2 0-1 0-3 1-6 0 2 0 2 0 1 0 1 1 1 5-2 2-2 2 2 0 9 3-3 0-5 0-5 1 0 2 7 1-8 0 5 1-4 1 5 1 7 0-2 0-10 17 7 2-3 0-2 1 4 0 3 1 0 0-2 0-4 1-4 1 7 0-2 1 1 0 2 0 4 1 2 2-6 1-3 0-1 0-1 0 0 1-1 0 2 1 8 0-3 1-8 0 2 0 1 1 9 0-8 1-1 0 0 0 5 0 1 0 3 1-3 0-10 1 5 0 6 2-11 5 13 2-2 1-7 0 3 0 3 0 2 1-2 0-7 0-3 1 0 3 13 3-10 2 7 1-8 1 6 0-2 0-4 1 1 0 6 0 0 1 4 0-8 0-1 1-3 0 9 1-2 0-4 1-3 0 0 0 1 0 0 0 1 0 5 0 0 0 0 0 3 1-3 1 5 2-7 0-2 1 9 1 0 0-6 1 5 2-1 2-7 1 3 1-4 0 2 0 0 1 0 0-5 2 5 0 0 0 4 1-1 0 0 0-5 3 6 1 4 0-9 1-3 1 11 0-7 1-1 1 2 1 3 0 1 0 1 1 0 2-8 2 9 1-3 0 2 2 0 0-7 2-3 2 8 3 0 0 0 4-3 3-5 0 9 5-7 1-2 0 1 0 9 1 3 1-5 0 4 0 1 1 0 0 0 0-5 0 0 0-3 0 0 0-1 0-2 1-2 0 1 0 6 0 0 0 1 0 1 0 0 0 0 0 1 1 0 0-3 0-5 0-2 0 0 1-1 0 1 0 1 0 3 1 4 0 0 0-7 1 0 1 9 1-10 0 1 0 4 0 1 0 0 0 1 0 3 0 0 0 1 0 1 7 0 1-8 3 2 3-7 1 12 3-2 0 2 1 2 0-7 2-6 0 0 0 5 1 1 0-3 1 4 1 5 0-1 0-2 2 0 1 0 0 0 0-5 0 0 2-1 2 9 0-13 2 10 1-1 3 3 1-12 1 14 1 0 0-1 0 0 0-2 0-4 0-4 1 1 0 2 0 1 0 2 0 0 0 1 0 2 0 1 1-3 0-7 0-3 1 1 0 4 0 9 1-3 0-1 0 0 0-3 0-4 0-2 1-1 0 0 0 3 0 0 0 1 0 1 0 1 0 5 0 1 0 2 1-1 0-1 0-1 0-1 0-2 0-8 1 0 0 5 0 3 1 6 0-2 0-1 0 0 0-6 0-4 1 6 2 0 1 4 1-4 3 3 1-9 0-1 2 9 1 3 3-5 1 1 0-5 1-3 1 13 0-1 0-4 0-1 0-1 0-3 0 0 1 6 0 1 0 2 1 0 0-10 0-1 1 1 0 12 3-12 0-2 1 10 1-7 1-3 1 10 1 2 1 1 0-6 1-7 0 14 1-7 0-5 1 5 0 1 0 5 1-3 0-1 0-1 0-4 0-3 1 3 0 6 1 4 0-1 0-2 0-2 0 0 0-3 0 0 0-1 0 0 60 0 0 1 0 4 6 2 0-9 2-1 3 10 6-2 2-6 5 2 10-6 5 12 4-6 2 5 1 0 0-1 1-7 0 3 1 3 0-1 2-8 0 8 0 6 2-11 1 1 3 10 3-8 1 2 1-2 3 3 1-6 1 6 2-2 0 6 1-4 0-2 0-6 1 1 5 7 0-2 2-3 2 2 0-2 1 0 1 10 0-5 0-5 0-2 1 2 0 2 0 8 1 0 0-5 0-1 0-8 1 1 0 1 0 0 0 1 0 1 0 1 0 0 0 1 0 1 0 3 0 1 0 0 0 2 1-4 0-3 0-1 0-1 0-1 1 5 0 2 0 1 0 2 1-10 0 0 1 0 0 3 0 7 0 0 1-1 0-3 0-7 0-1 1 10 1-1 0-9 1 1 0 1 1 7 0-2 0-5 0-1 17 5 0 3 2-2 11 5 4-13 16 9 1 0 1-8 1 9 0 0 1-9 2 6 0-6 2 1 1 5 1 4 0 3 3-6 0-6 1 5 0 0 2 6 2-9 0 2 2 5 2-5 0 1 1-2 1-4 4 13 1-13 8 13 0-13 1 2 1 1 1-2 0 0 0 1 1 11 0-2 0-1 0-4 0-4 0-2 0-1 1 3 0 10 0 1 1-8 0-4 1 10 1 0 0-7 1 1 1 5 0 0 0-4 0-6 1 5 0 1 0 0 1 4 2-10 3 3 1 5 5 5 2-7 4 5 3-11 0 0 0 12 1 0 0-2 0 0 1-5 0 7 1 1 0-4 0-2 0-4 0-3 1 1 0 6 0 4 0 0 0 1 2-1 0-5 2-2 1 3 1 6 4-11 0-2 1 0 0 0 0 5 6 2 1-7 1 13 1-11 0 3 0 1 0 0 1 6 0-2 0-2 0-2 0 0 0 0 0-2 1-5 0 9 0 2 1-9 1 5 3 3 3 0 0 1 0 3 1-1 0-11 1-1 0 3 0 2 0 5 1-7 0-3 1 2 3 0 5 7 1 2 1-5 4-6 2 5 0 6 1-11 4 9 2-8 1 6 8-8 1 10 1-6 0-2 1 2 0 3 1-5" fill="none" stroke="none" marker-start="url(#s27)" marker-mid="url(#s27)" marker-end="url(#s27)"/>
<path d="m123 602 0 3 0 1 0 5 1 0 0-11 1 4 0 2 0 1 0 2 0 0 0 4 1-9 0-2 1 3 0 2 0 3 0 2 0 0 1-8 1-1 0 3 1 4 1-8 1 4 0-5 1 1 1 11 3-9 1 7 1 0 0 1 1-2 0-9 1 5 0 5 2-1 0-4 1-2 0 3 0 0 0 1 0 1 0 1 1 3 0-9 1-2 5 9 1-7 2 9 1 0 1-5 1 1 8 4 10-1 1-6 7 3 1-7 3 7 1 4 5 1 3-8 0-4 53-2 2 0 5-1 32 2 23 6 4-6 5 8 0 2 1-8 1 6 4-2 1-6 0 1 0 3 1 5 3-10 0 6 0 0 0 6 2-11 1 11 5 1 1-12 0 6 1-5 6 1 0 8 4-7 1 0 0 2 1 7 2-7 5 2 0-6 1-1 0 1 0 0 0 1 0 1 0 4 0 2 1 4 0-3 0-4 0-2 0-3 0-1 1-2 0 3 0 10 1-1 0-3 0 0 0-2 1-3 0 1 0 1 0 3 0 0 0 3 2-5 0 0 2-4 0 6 4-3 1 3 0 6 0 0 1-14 4 8 1 0 1-8 0 6 1-4 1 1 0 7 0 2 1 1 0-1 0-3 0 0 0 0 0-6 0 0 1-3 0 5 0 5 0 1 0 2 1 1 0-5 2-8 1 5 3-5 1-1 1 6 0 7 2-2 2-2 1-7 1 8 2-1 0-5 0-1 0-1 3 3 0 1 1-2 0-4 1 9 0 1 1 3 0-7 0-4 1-1 0 3 0 2 1 3 0-1 0-1 1-2 0 0 0 6 0 0 1 2 0-7 0-5 1 8 1 1 0-3 0-1 0 0 0-4 0-2 1 8 2-3 3-2 4 10 0-7 2-6 0 1 0 1 0 6 1 3 0-5 0-1 0-3 1-2 0 4 0 2 0 1 0 5 1-2 2-5 0 3 0 1 1-3 1-4 1 8 0-5 2 4 0 1 1 0 2-10 0 13 1-12 1 11 4-2 0-10 1 6 1-3 0 0 2-1 0 7 1-5 1 4 0 5 1-4 1 3 0 2 1-13 2 2 0 2 1 6 1-10 1 12 0-2 0-5 0-7 1 2 0 11 1-1 0 0 0-2 0-6 0 0 0-3 1 2 0 2 0 0 0 2 0 3 1-1 0-2 0-3 0 0 0-2 0-1 1 2 0 7 1-2 0-4 0-2 1 4 0 5 0 0 1 3 0-12 2 5 0 6 2 1 0-4 1-10 0 6 0 0 0 1 0 6 1-3 0-1 0-2 0-6 0 0 1 0 0 3 0 7 2 3 0-3 1-5 0 2 2 3 6-7 2 2 0-2 1 0 0 10 2-4 1-5 0 0 0 1 0 1 0 3 1 2 0-9 1 0 0 4 0 6 1-4 0-3 0-5 1 9 1 2 1-9 1-2 1 1 0 9 35 2 11-4 20 5 19-8 10 8 1-9 5 8 13-11 2-1 1 10 1 4 3-13 5 7 1-1 82 2 0-4 0-5 1 3 10 10 6-11 31 8 8-2 32 5 0-6 0-1 1-2 1-4 2 2 0 7 1-2 1-4 1 7 1-2 0 3 2 3 0-8 1-1 1-3 1-2 0 3 1 6 1-6 0 8 2 0 1-11 1 13 11-12 0 9 0 0 1-9 1 1 3 8 3 2 1-10 1 12 2-1 2-4 3 3 0-1 0-8 1 2 0 9 1 0 0-3 0-5 0-1 0-1 0-3 0 0 1 11 1 0 0 0 0-1 0-7 0 0 0-1 0 0 1-3 0 0 0 3 0 1 0 1 0 8 1 0 0-8 1-4 0 0 0 5 0 0 0 1 0 1 0 4 0 0 0 0 1 1 0-3 0-3 0-1 0 0 0-4 0-1 0-1 1 1 0 4 0 8 1-1 0-1 0-4 0-2 0-3 0-3 2 5 0 4 2 4 0-2 0-3 0-2 1 4 1-6 2-3 0 0 0 1 1 4 0-3 2-1 0 1 0 4 0 5 1 3 0-2 0-2 0-4 1-5 0 1 0 1 0 0 0 0 0 5 0 5 1-2 0-8 1 3 0 5 1 1 0-7 1 3 0 4 0 1 1-5 0-3 1-2 0 5 1-1 0-2 1 0 1 8 0-5 0-3 0-3 0-1 0 0 0-1 0 0 1 5 0 3 1 6 0-11 0-2 0-1 1 12 2-10 3-1 2 10 0-8 1-3 1 0 3 3 0 7 0 2 3-12 1 1 0 4 1 0 2 3 1 5 0-9 0 0 0-1 0 0 2 0 0 1 0 1 0 0 0 2 0 3 0 0 0 1 1-3 0-7 1-1 0 4 0 3 0 5 1-3 0-3 1 2 3 3 0-3 0-5 2-2 0 7 0 3 1-7 1-3 1 8 0-3 0-3 4 9 1-3 1-6 2 6 0-4 1 7 1-10 0-2 1 0 0 0 2 11 0 0 2 2 4-13 2 3 2-3 0 0 1 10 1 4 2-4 3 2 1-2 1-1 0-1 0-2 0-1 0-5 0 0 1 2 0 1 0 0 0 4 0 0 0 1 0 1 0 1 0 0 0 2 1-2 0 0 0-1 0-5 0 0 0 0 0-2 0-2 1 1 0 3 0 2 0 5 0 2 1-4 0-1 0-1 0-2 0-1 0-4 1 0 0 9 0 4 1-4 0-4 2-1 0 1 0 1 0 0 1 8 0-5 0 0 1-4 0 5 1 4 0-2 0-2 0-1 0-2 1-3 0 4 0 3 1-1 1-7 0 11 1-15 1 1 1 12 0-2 0-1 0-1 0-4 0-1 3 7 0 3 1-2 0-5 0-1 1-3 2 12 0-13 1 0 2 11 2-8 0 6 1 1 0-9 1 11 1-1 0-10 3 10 1-11 2-1 1 11 0 0 1-6 0 1 0 3 0 3 1-5 2-4 0 8 1-2 0-1 1-7 0 3 0 0 0 2 0 3 1 3 0-4 0-2 0-1 0-1 0-2 0-1 1 1 0 2 0 4 1 1 1-2 1 0 1-4 0 5 0 5 1 0 1-13 0 8 1 3 1-3 0 3 2-6 2-4 1 11 3-10 2 9 0-4 1 2 0 0 1-4 1-4 0 0 0 6 1-2 1-3 0 9 0 0 1 0 0-1 0-6 0-1 1 0 0 3 0 2 1-5 0-3 1 1 0 7 1-7 1 7 0 3 0 0 2-2 0-5 2 6 5-2 0-4 1 2 2 7 0-12 1 0 0 1 0 10 2 2 0-2 0-8 3 4 0 0 2 0 2-6 0 2 0 3 1 7 1-14 0 1 0 1 1 8 0-5 0 0 0-4 1 2 0 1 0 4 0 1 0 4 1-5 0-5 0-2 1 5 2 3 1-4 1 5 1-10 4 12 0-5 2-1 1 1 1-7 1 14 1-6 1-6 1 8 1 3 0-9 0-3 2 5 4-2 1 3 1 0 1-5 0 3 0 3 1-3 0-1 1 3 0 1 0 3 1-1 0-1 0 0 0-1 1-7 0 11 1-1 0-2 0-6 1 0 0 7 0 2 1 2 0-7 0-1 0 0 1-2 0 1 0 0 0 2 0 1 0 5 0 0 2-2 1 1 0 2 1-5 0-4 1-4 0 6 1 3 1-9 0 13 1-2 0-10 3 10 1 1 1-8 0 4 0 3 2-3 3-6 0 2 0 8 1 1 0-7 1 3 1 3 0-1 0-7 0-3 1 0 0 1 0 3 1-7 0 0 2 13 1-9 5-2 0 12 1-9 0-4 1 13 1-1 0-6 0 0 0-1 1 0 0 2 0 6 1 1 0-6 0-5 0-2 1 7 1-3 2-4 1-1 1 8 1 0 0-3 1 0 0 7 1-7 0-2 0-1 0 0 1-2 0 1 0 1 0 3 0 1 0 3 1 5 0-2 0-6 0-2 0-3 0 0 0-1 0 0 0 0 0 0 1 0 0 1 0 4 0 4 0 0 0 4 1-4 0-4 3 2 0 7 6-10 1 2 0 2 1 3 0 0 2-10 0 2 0 2 0 3 0 1 0 1 1 1 0-3 0-1 0-1 1 7 1-1 1-8 1 5 0-2 0 0 0-1 0-1 0-5 1 9 1-2 1 3 2-5 1-4 1 8 1-4 0 5 0 1 1 1 0-1 1-9 0 6 0 2 0 2 1-8 1-4 1 8 0-5 1-2 2 4 0 0 0-3 1 3 1 3 0-3 0-1 2-2 3 11 0-1 3-5 0 3 0 1 2 1 0-3 1-3 1 6 1-2 1-6 0-4 1 7 3 6 1-11 15-1 20 11 3-10 2 1 10 2 7 5 6 3 5-11 3 0 1-3 2 8 2-6 5 7 4-4 8-3 2 7 2-5 0-3 2 5 2-2 5 4 30 1 4-2 0 5 13 2 0 0 0-3 0-2 0-1 0-1 0 0 0-1 0-1 0-3 0 0 0-1 0 0 0 0 1 3 1 9 0-4 0-1 1 5 0 0 1 1 0 0 0-9 1 3 1 3 0-6 2-1 0 8 1-4 1-5 1 9 3-2 2 1 0-8 0-2 1 5 1-2 1 0 1 8 0-9 1-1 0 5 0 2 0 1 0 2 0 1 0 0 0 2 1-1 0-1 0-11 1 6 0 0 0 4 1 2 0-4 0-2 1-4 0 1 1 9 0-9 0-3 1 4 1-2 1 1 0 5 1-4 3 3 1-1 1-6 0 3 1 9 1 0 2-12 7 6 2 2 0-4 0-2 3-4 1 12 2-9 3 9 1-1 1 0 0-3 0-2 1-3 0 0 0 7 0 3 1 0 0-6 0-2 0-1 0 0 1-1 0 5 0 0 0 2 0 2 0 3 1-5 0-5 0-2 1-1 0 9 0 2 1 0 0-5 0-4 1 3 1 1 4 4 2 0 0-2 0-4 1 4 1 3 0-1 0-4 0-5 1-3 0 4 0 2 0 7 1 1 0-2 1-8 1-4 2 1 0 1 0 10 0 1 1 1 0 0 0-5 0-2 0-3 0-3 1 0 0 2 0 5 0 7 1-9 0 0 1-5 0 2 0 0 0 3 0 6 1-5 0-5 2 1 0 1 0 8 0 0 1-2 0-6 1-3 0 0 0 7 0 2 0 0 0 3 1-1 0-4 1 4 0 1 1-3 0-2 0-7 1 12 1-11 1-2 0 9 0 1 0 5 1-4 1-4 1 2 0-2 4 6 1 1 0-11 6-1 0 4 0 3 0 2 0 1 1-1 0-5 0-3 1-2 1 12 0-2 0 0 0-2 0-3 0-1 2 10 1-2 0-2 0-3 0 0 0-4 1 7 1 2 0-5 0 0 1-7 0 9 1-8 1 1 0 7 1-7 3 3 1-3 1 3 1 4 3-5 0 2 1-3 3 6 0 4 1-11 1 9 0 1 1-6 4-3 2 6 1 2 1-9 1 5 1 0 1 0 0 0 2 4 0-6 1 7 1-2 0-8 3 3 0 4 0 3 1-3 0-3 0-1 0 0 0-2 0-3 1 0 0 5 0 9 1-1 0-2 0-1 0-4 0-1 1 8 1-9 1 8 1-2 1-7 1 6 0-3 0-1 1-2 0 4 1 6 0-10 0-2 1 1 0 4 0 6 1-2 0-2 0-3 0-2 1-2 0 3 0 1 0 1 0 1 0 1 0 1 0 0 0 2 0 2 0 0 2 1 3 0 15-7 4-7 0 2 0 1 0 5 1 1 0-1 0-8 5 3 12 4 0-2 4 4 1-6 1 1 0 7 0 3 4-1 0 0 0-7 1-6 0 5 0 7 2 1 0-3 0 0 0-10 1 10 2-2 0-3 3 1 0 6 3 0 0-7 4-1 0 9 1-2 0-5 2 6 1-3 5-3 0 6 1-3 0-3 1-1 0 1 2 3 1-4 1 5 0-6 1 9 1-9 1 0 0 1 0 3 0 4 0 1 1-8 0-4 1 0 0 1 0 12 1-3 0-3 0-1 1 1 1-1 3 0 3-3 1 1 0 8 1-14 1 4 1 1 1 2 1 2 1-7 0 9 4-8 5-2 5 3 3 9 2-2 6-3 9 0 1-7 0 0 1 2 1 0 4 0 1-3 4 12 5-6 3-1 1 4 2-2 0-5 9 11 1-2 1 0 3-11 7 4 4 4 4 4 11 0 3-6 18 3 0-3 1 6 1-9 2-2 0 1 0 9 1-2 0-1 0 0 0-1 0-4 0-1 1-1 0 5 1 8 0-1 0-1 0-2 0 0 0-1 0-4 0-1 0-1 0-1 1 4 0 2 0 3 0 2 1 0 0-11 0-1 1 4 0 1 0 2 0 2 1-2 1-7 0 8 0 1 1 2 0-10 3 1 1 6 5-8 0 0 0 4 0 6 2 2 0-8 0-3 1 6 3 6 0-9 1-3 0 5 1-1 0-3 0-2 1 0 0 6 3-3 1 2 0 4 1 0 1-3 1 8 4-6 4 4 1-6 1 4 0-3 1-4 0 7 1-3 0-3 0-3 1 3 0 5 1 3 0-8 0-1 0-1 0 0 0 0 0-1 1 0 0 3 0 4 0 3 2-7 1-2 0 0 1 6 2-6 0 1 1 2 3 8 1-9 4-1 1 8 1 2 1-7 15-6 1 14 1-13 0 2 0 2 0 6 1 2 2-5 1-1 0-1 1-4 0 1 0 9 1-12 3 7 7 5 0-8 3 0 0 8 0 1 1 0 0-1 0-8 0-2 0-2 1 0 0 6 0 7 0 0 1 0 0-7 0-2 0-1 1 0 0 7 0 0 0 3 1-1 0-3 0-4 0-2 0-1 2 9 3-3 1-1 4 0 1-1 1 7 2-3 2 3 0-11 1-1 1 10 1-10 0 2 0 3 0 2 0 3 0 3 1 0 2-10 0 6 0 2 0 1 2-4 3-6 6 0 1-1 1-3 2 5 3 1 0-1 1-1 14 3 0-6 1 13 4-2 0-4 1-7 0 6 0 0 0 2 0 5 1 0 0-3 1-4 0 1 0 3 0 0 1 0 3-10 0 1 0 7 1-2 1-5 0 0 0 2 1 7 0-1 0-4 0-1 0-4 0 0 1 1 0 2 0 1 0 4 1 4 0-3 0-2 0-1 1-1 0 8 2-11 1-3 1 9 0-2 1 6 2-12 2 10 1-1 2-9 0 10 1 1 0 0 0-2 0-4 0 0 1-4 0 9 8-2 0-5 1 2 0 7 1-5 0-2 0-1 1-3 1 3 0-1 1-1 0 4 0 2 0 4 0 0 1 1 0-1 0-2 0-5 0-1 1-4 0 0 0 1 0 4 0 0 0 1 0 3 0 0 0 2 0 2 1-1 0-7 0-5 1 3 0 3 0 4 0 2 1-2 1-10 4 14 1-2 4-8 0-4 1 2 1-1 0-1 2 1 0 6 1 6 0 0 2-13 1 13 0-1 0 0 0-1 1-4 1 5 2-1 2-5 1 6 3-5 1 1 8 2 0-9 2 5 0 4 2-2 3-4 2 7 2-2 1-4 0-1 1 3 0 1 1 3 1-6 0 4 1-3 1-6 0 3 0 2 0 0 0 1 0 0 0 3 0 2 0 1 1 0 0-4 0-3 1-3 0 6 0 2 1 3 0-11 0-2 1 2 0 3 1 8 0-8 0-2 1-3 0 2 0 2 1 6 0-1 0-1 0-1 0-2 0-1 0-4 1 3 3 1 0-1 4-1 2 5 1-5 0 0 2 10 0-5 0-6 5 8 0 1 1 3 0-13 1 2 0 10 1-3 0-3 0-5 1 2 1 10 1-10 0 7 1 1 0-4 0-1 0-6 3 6 5-1 1-1 0 4 2-8 2 0 0 2 0 3 1 6 1-3 0 0 0 1 1 5 0-1 0-3 0-2 0-6 0-2 1 2 0 1 0 2 0 0 0 4 0 1 0 0 0 4 1-1 0-9 0-1 0-2 0 0 0-1 1 6 0 4 0 0 1-1 0-1 1-6 0 1 0 2 0 2 0 3 0 1 0 1 0 0 0 1 1 1 0-5 0-1 0-2 1-5 0 3 0 6 1 1 0-2 0-7 1 8 2 4 2 0 4-6 1-1 2-6 1-1 0 2 0 1 0 5 0 1 0 1 1 3 0-1 0-4 0 0 1 3 0 2 1-7 0-4 1 7 1-6 1 2 0 2 1-1 0-2 1 3 0 7 1-5 2 0 1 4 4-11 0 6 1 4 0-1 1 1 1-1 0-3 0-1 0-7 1 8 0 1 1 2 0-1 0-9 1-1 0 1 0 5 0 2 0 2 0 0 0 0 0 1 61 0 0-2 3-6 1-2 1-2 0 14 1-3 1-5 0 3 2-4 0-4 2 13 1-12 4 1 1 0 2 4 1-6 1 1 1 6 1-7 0 6 3 3 0-1 4 0 4-8 2 13 0 1 2-2 1-12 0 6 5 6 0-5 0-2 3-5 0 5 0 7 0 1 3-12 2-1 1 3 1 6 1 1 0 0 0-9 0 0 1 11 2-1 0-3 0-4 0-1 0-1 1 12 2-10 3 0 2 6 1-4 1 7 0-1 0-8 0-1 2-2 1 12 1-1 1 1 1-3 4 1 1-10 0 6 0 5 1-1 0-1 0-2 0-5 0 0 1-2 0 4 0 1 0 1 1 4 0 0 0-2 0-2 0-1 0-5 1 4 0 4 0 0 1 2 0-5 0-5 1 8 0 0 0 4 1-6 0-2 0-1 0 0 1-4 0 0 0 3 0 0 0 2 0 5 1 2 0-1 0 0 0-3 0-8 1 0 0 1 0 4 0 1 0 2 0 3 1 2 0 0 0-13 1 0 0 10 0 4 1-5 22-5 9 3 19-7 0 10 1-1 0-10 1 6 1 7 0-1 0-3 0 0 1-8 0 1 1 10 0-1 0-2 0-3 0-2 1-3 0 0 0 3 0 4 0 6 0 0 1-2 0-2 0-3 2 4 0 1 2 3 1 0 2-13 1 7 0 3 1 1 0-10 1-1 1 3 1-2 0 2 2 3 1-1 3-2 1-4 9 12 0-7 3-5 0 1 1 9 0-3 0-1 1 0 0 0 0 6 1 1 0-1 0-8 0-3 2 2 0 8 1-11 1 3 0 6 3 4 0-13 1 1 0 4 0 3 0 0 0 3 1-2 1 0 1 4 3-9 0 6 13 3 0-10 1-2 0 7 0 4 1 2 0-3 0-9 0 0 1-1 1 10 0-5 1-5 0 8 0 3 1-13 1 12 0 1 1-2 1-3 3 4 5-8 7 5 1-8 0 5 0 3 0 3 0 3 1-3 0-7 0-3 1-1 0 0 0 8 1 2 6-8 0 10 1 2 0-9 1 8 1-5 2-3 0 5 0 1 1-7 1-1 0 7 2 2 2-5 0 4 1 1 0-7 5 5 3-5 4-5 9 6 1 8 1-2 2-8 1 5 0 0 1-2 0 0 2 2" fill="none" stroke="none" marker-start="url(#s28)" marker-mid="url(#s28)" marker-end="url(#s28)"/>
<path d="m123 588 0 1 1 10 0-3 0 0 0-1 0-5 1-1 0 3 0 4 0 2 2-1 0-3 0-1 0-3 1-4 1 7 1-5 0 3 0 7 1 1 0-2 4-10 0 9 3-5 3-4 1 12 0-5 0-8 1 4 0 5 1 1 2 1 1-5 2-6 5 12 2-12 0 10 16-4 19 5 1-10 1 1 1 9 1-2 13-5 2-3 46 6 12 3 1-2 3 4 1-2 9-5 5 3 0-7 27 6 7-3 3 1 0 2 1-5 5 1 1 3 1-5 0 7 2-8 2 3 0 8 1-5 1-3 0 4 0 1 1 3 0-5 2 3 1 3 0-2 0-6 1-4 1 7 4 0 0 6 3-5 0-8 1 0 1 4 0-5 0 0 5 8 2 1 0-4 1-5 0 4 0 0 0 2 1 4 0-2 0-3 0 0 0-3 0 0 1-1 0 7 0 4 1 2 0-3 0-3 0-3 1 0 1 8 0-4 0-7 1 4 1 5 1-3 0 4 1 0 0-3 2-6 4 11 0-9 3-1 0 5 1-7 1 3 0 1 0 5 0 2 1 0 0-8 0-5 1 2 0 1 0 1 0 2 0 0 0 2 0 3 0 1 1 1 0-5 0-5 1-2 0 4 0 4 2-5 2 6 1-4 1-2 0 4 2-7 2 11 0 0 0 1 2-11 1 12 1-4 0-3 1 3 2-6 1 8 1 1 0-5 2-1 0 7 1-6 1-2 0 1 0 1 1 3 0-11 2 3 0 4 0 0 0 2 0 1 0 1 1-1 0 0 0 0 0-1 0-2 0 0 0-1 0-1 0-3 1 0 0 3 0 1 0 7 1-2 0-5 5 2 0 6 1-11 2 9 2-9 1-3 0 1 0 0 0 7 0 1 0 3 1 2 0-2 0-1 0 0 0-7 0 0 0-2 0-1 1 3 0 3 0 2 0 1 0 2 1-10 1 1 0 8 1-7 1-3 0 3 0 7 0 0 1 3 1-10 0 4 2 1 8-5 2 2 3 0 2 4 0-5 1-3 0 1 0 3 1-3 1 7 1-8 1-2 1 10 1 2 2 1 0-1 0 0 0-6 0-2 0-3 1 8 0 2 1-2 0-2 0-2 0-4 2 8 0 2 0 3 1-1 0-2 0 0 0-2 0-6 1 1 0 1 0 5 0 3 1-1 0-3 0-2 0-2 0-3 0-2 1 1 0 1 0 3 0 6 2 1 0-7 0-1 2-1 0 1 0 2 1 4 0-3 1-3 0 5 0 1 0 4 1-1 0-7 0-2 1 7 1-3 2-4 3 2 0-1 0-4 1 12 1-1 1-2 2 0 0-8 0-2 1 8 1 6 1-6 1 4 0-2 0-4 1-4 0 2 0 2 0 7 0 1 1 0 0-11 1-3 0 10 2-1 0-3 1 5 0 0 0 2 1-1 0-9 1 0 0 1 0 1 4 6 1 1 1-10 26 10 1-9 6-1 27 5 31-6 11 10 5-8 7 9 0-4 1 4 4-1 0-2 2-2 4 5 80 2 9-4 4 1 7 3 32 0 26-4 8 1 3 2 0-3 1 0 1-4 0-3 0-2 1 8 1-6 1 4 0 2 2 2 2-9 0 7 1-2 1-6 0 11 1-5 0-2 2 2 1 2 1-6 1-2 1 3 3 4 2 6 1-9 2 9 1-13 2 10 2-9 2-1 0 11 4 1 1-5 0 5 1-2 0-10 2 1 2 6 1-8 0 2 1 9 0-7 1-2 0 3 0 9 1-6 0-4 1 2 0 5 0 3 1-1 0-2 0-2 0-1 0-1 1-4 0 3 0 2 0 3 1 1 0-1 0-4 0-4 1 2 0 1 0 2 0 0 0 5 1 0 0-5 0-4 0-3 1 6 0 5 0 1 1-2 0-6 1-3 0 2 0 6 2-8 4 0 1 1 1-2 0 6 2 4 0-3 1-7 0 6 0 2 0 2 0 2 1 0 1-12 0 6 0 4 0 2 1-11 1 2 0 3 2 2 0-1 0 0 0-2 1-5 0 1 1 12 0-2 1-11 0 1 0 1 0 1 0 3 0 1 0 1 0 5 1-1 0-3 0-1 0-1 0-5 0-2 1 7 0 5 1-4 2-4 3-1 1 3 4-4 0-2 2 10 4-3 1 0 0 3 0 3 1 0 1-13 0 11 1-4 0-6 1 2 0 5 0 3 0 0 0 2 1-13 0-1 1 0 0 11 0 0 1 1 0-2 0-4 0-4 1 5 0 3 1-8 1 4 0 3 2-6 0-3 1 9 1-1 0-1 1-6 0 13 1-12 0-2 1 8 1 6 0-4 3-9 4 5 1-1 0 3 0 0 0 1 2 5 0-3 2-8 11 3 1 2 8 5 0 0 0-2 0-1 0 0 0-1 1-8 0 1 0 1 0 0 0 1 0 2 0 4 0 1 0 0 0 1 0 1 0 1 1-1 0-2 0-2 0-1 0-4 1-3 0 1 0 3 1 8 0-2 0 0 0 0 0-4 0-1 1-4 0 7 0 2 0 2 1-5 0-6 0-2 0 0 1 3 0 8 1-3 0-1 0-3 1 3 0 7 1-1 0-6 0-1 0-2 0-1 2 0 0 4 0 2 0 1 0 0 0 1 0 1 0 0 2-2 0-1 1-1 0 3 1-3 0-2 0-6 1 0 0 1 0 3 0 9 2-1 0-10 0-1 1-1 0 5 2 7 0-6 0-4 2-1 0 2 1 8 0-3 3-6 0 4 0 3 0 3 1-3 3-8 2 11 0-7 0-1 1 7 2-9 1-2 0 8 0 1 1-3 2-5 0 10 2 0 1-7 0 3 0 2 0 0 0 2 1 1 0-1 0-3 0-3 0-1 0 0 0 0 1-2 0 2 0 1 0 4 0 1 1 2 0-6 0-1 0-1 0-2 1 10 7-5 1 2 1-9 5 8 3-8 1 2 0 9 1 1 0-1 0-3 0-1 0-7 1 6 0 5 2-11 1 13 1-4 0-5 1 0 0 3 0 5 1-1 0-7 1 3 1 4 0-1 1-10 1 4 1 6 1-6 0-2 2 4 3 8 1-5 1-4 1 8 2-11 0-2 6 1 0 7 1 0 2 2 0 4 1-2 0-5 0-6 1 3 0 5 0 3 0 1 1 1 0-2 0-6 0-4 0-2 1 1 0 3 0 9 1 0 0-3 1-3 0 7 1 0 0-4 0-5 2-3 0 9 1 3 2-14 2 9 0-2 0-2 1 7 2-8 0 0 2 10 1-1 0-8 0-3 1 3 0 9 1-10 2-3 0 0 1 12 0 0 0-9 1 2 1-4 0-1 1 3 1 7 0-2 0-9 1 8 0 3 0 3 1-2 0-7 0-1 0-4 1 2 0 3 0 6 0 1 1-2 0-1 0-7 0-1 1-1 0 5 0 1 0 4 0 0 0 1 0 1 1 0 0-3 0-3 1-2 1 7 0-6 0-5 1 3 0 7 0 3 1 1 0-1 0-7 0-2 1-1 0 2 0 6 3-8 3-1 0 3 1-4 2 6 1 1 7-4 2 4 0 0 1-7 0 9 1 1 0-10 1 8 0 2 2 3 0-4 0-5 2-5 0 1 0 11 0 0 1-12 1 3 0 2 1 8 1-10 0 3 1-5 1 1 0 9 0 0 0 1 1 1 0-8 0-4 0 0 1 1 0 2 0 4 0 2 0 1 1 1 0-5 0-1 0-2 1-4 0 7 0 0 0 3 0 2 0 1 1-3 0-3 0-5 1 5 0 0 0 1 0 0 0 2 0 1 1 1 1-4 1 2 0-7 0-2 0-1 1 5 1 5 0-9 1 10 1-3 0-1 0-2 0 0 1-3 0 0 0 8 0 1 0 0 1 1 0-1 0 0 0-2 0-2 0-1 0-1 0 0 0-2 0-1 0-1 1 0 0 7 0 2 1-1 1-5 3 0 1-1 0 0 1 7 2 2 1 1 0-2 1-4 0 6 1 1 0-3 0-3 0-5 1 1 0 2 0 0 0 7 0 0 1-12 1 1 1 7 0-9 1 6 2 7 0-9 0-3 1-1 0 1 0 1 0 8 1-5 0-2 0-1 0 0 0 0 0-2 1 0 1 6 2-3 0 1 2 6 0-1 1-6 1 9 0-1 0-2 0-4 0-1 1-3 0 3 0 3 1-5 1 0 0 0 0 1 1 10 1-3 1 0 1 0 0 2 1 0 1-4 1 4 0-1 0 0 0-10 1 3 0 1 1 1 0-5 1 8 0 2 0 2 1-6 0-4 3-2 2 7 2-1 0 5 4 0 19-10 6 5 15-1 1-1 1 5 5-5 1 2 1 6 0-11 2 0 0 11 1-2 1-4 0 2 5-8 2 8 1 2 5-4 1 3 7-4 2-5 1 6 6 5 4-11 1 10 0-9 7 3 2-1 1 1 0 9 1-14 7 3 0 6 1 1 31-3 1 0 16-5 0 2 0 6 0 0 0 3 1-2 0-5 0-1 0-1 1-1 0 4 0 1 0 2 0 3 0 1 1-4 0-1 0-8 1 4 0 5 0 1 1 0 0-9 0-1 0 0 1 1 0 3 0 0 1 8 0-8 1-1 0 9 1-3 0-2 1-2 4 5 0-7 1 5 1 0 0-4 0-1 0-3 1-1 0 1 0 6 0 6 0 1 1-6 1 3 1-3 0-3 1-2 0 1 0 4 0 4 1 1 0-2 0-3 0-1 0-1 0-5 0 0 1 2 0 1 0 1 0 4 0 2 1-1 0-5 1 0 0 1 0 3 1-7 1-1 1 6 0-5 1-2 0 4 0 9 1-7 0-2 0-2 2 7 0 4 1-1 0-9 0-1 0 0 1 7 2 4 1-13 0 2 0 2 1 5 2 0 4 2 1-11 0 6 0 8 2-7 2 4 0 1 3-3 0-5 2 0 0 8 4 0 0-2 0-3 0 0 1-4 0 2 0 4 1 3 0-4 0 0 1-4 0 9 1-4 0-1 0-1 0 0 0-1 0-4 0 0 0-1 1-1 0 2 0 6 0 0 0 1 0 2 0 0 1 0 0 0 0-1 0-2 0-1 0-2 0-2 1-2 0 6 0 6 1-2 0-9 0-2 1 5 0 5 1-6 2 7 1-2 0-6 1 5 1 1 0-6 0-2 1 10 0 0 0 1 1-3 0-2 0 0 1-5 0 2 0 2 0 1 1-1 2-4 0 9 2 1 0-1 0-1 0 0 0-2 0-2 0-1 0-5 1 4 0 0 0 2 0 1 0 6 1-4 0-1 0-1 0-6 1 0 0 6 0 0 0 7 0 0 1-2 0-4 0-1 0-1 0 0 0-2 2-3 1 13 0-4 0-7 1 1 0 2 0 8 1-3 0-5 0-4 0 0 0-1 1-1 0 1 0 11 0 1 2-10 1-3 0 6 2 4 0-7 1 1 2 8 0-5 1-6 0 9 1-1 2-4 0 6 1 2 3-9 3 8 0-6 1 2 2 4 0-9 1-2 0 4 0 1 0 3 0 1 1 3 1 1 1-3 0-6 2 1 0 1 1 4 1-4 0 5 1 2 0-4 0-2 1-2 0 3 2 2 2 2 2 0 6 0 4 0 1-4 2 1 0 0 1 0 1 4 0-14 1 13 1 1 0-11 1-3 2 7 0-3 1 3 2-6 5 2 0 5 0 1 0 2 0 0 0 1 1 1 0-1 0 0 0-4 0-1 0-1 0-1 1 4 0 4 0 1 1 0 0-6 1-8 0 3 1 10 1-8 0 6 0 1 0 0 1 2 0-9 1-1 1 4 0-3 0-2 1-3 0 2 0 7 0 1 0 1 2 2 0-1 0-4 0-1 0-5 0 0 0-1 0-1 1 2 0 1 0 2 0 0 0 5 0 0 0 1 0 1 3-9 3 0 8 6 10 1 2-1 2 5 3-4 4 1 8-1 1 2 3-8 1 3 2 6 0-11 2 4 2 7 0-1 1-12 0 7 1-4 1 4 1 6 1-2 2-10 2 8 4-6 1 2 0 3 11 6 1-4 1 0 2-3 0 7 1-2 0-9 1 6 0 3 2-5 0-2 1-3 0 1 0 7 0 1 0 1 0 2 1-2 0-11 3 7 0 3 0 2 2-4 2 3 3 2 2-3 1-2 1-5 0 6 3-8 2 1 4 0 1 9 2-12 1 10 5 0 0-5 1 6 1 3 6-1 2-13 2 4 1 2 3-3 0 6 2 1 3-3 0 5 5-9 1-2 0 7 5 4 0-2 5-1 4 2 0-4 1-4 0 7 3-1 3-5 7 0 0 0 3-1 0 2 4 7 0-10 3 8 2 2 1-8 2 9 4-7 0 0 0 4 6-10 3 2 0 4 16 4 2-9 2 12 0 0 1-6 0 5 1-5 2-5 0 12 1-3 0-5 1-5 0 5 0 4 1-2 0-8 1 1 0 4 0 6 1 3 0-1 0-1 0 0 0 0 0-2 0 0 0-9 1-1 0 1 0 9 0 0 1 3 0-11 1-1 0 6 0 1 1 1 1-9 1 12 0-2 0-2 1 4 3-3 0-4 3-4 0 4 0 5 1-4 2 8 1-1 0-5 3-6 0 4 1 4 1-3 0 1 0 1 3-5 0-1 0-3 1 4 0 4 1 4 3-10 0 5 0 4 1-10 4 2 1 3 1 2 1 6 1-8 0 7 0 0 0 1 1 0 0 0 0-1 0 0 0-1 0-8 0 0 0-2 1 0 0 11 0 0 1-8 1 0 1 9 1-4 0 1 1-8 2 3 0 4 1 3 10-8 1 4 0-7 14 0 2 11 1-13 2 14 1-9 0 1 3 0 0-4 8 6 1 5 4-6 1 2 0-1 0-1 0-6 1 9 0 0 0 0 1-2 0-7 1 7 2 0 0-1 1-4 2-1 1 9 1-5 3 7 5-5 0-4 2-3 0 7 1 4 0-3 0-9 1 0 0 3 0 1 0 4 0 1 0 2 1-8 1 11 2-6 2-2 2 7 2 1 1-1 0-6 4 6 3-10 0-3 2 0 0 14 2-9 0-3 1 5 14 5 0-3 2-6 0 0 0 3 1 3 2-3 0 5 1 2 0-5 0-3 0-1 0-3 1 7 2 6 0-2 0-6 0-2 1 5 1 2 0-3 1-6 0 2 0 7 0 1 0 2 1-7 1-5 0 1 0 2 0 7 2-1 0-1 0-4 1 0 0 8 1-3 0-3 1-2 0 3 1-3 1 7 1-10 1 11 1-6 0-6 5 0 0 4 0 4 1 4 0-8 0-5 1 6 0 1 0 3 1-3 0-3 4 8 4 1 0-1 0-5 0-2 1-6 1 13 0-2 0-1 0-10 1 1 0 5 0 0 0 1 1 6 0-2 1-1 0 2 1-4 0-2 1-4 0 4 0 1 0 1 0 1 0 1 0 1 0 3 1-2 0 0 0-1 0 0 0-3 0 0 0-1 0-5 0-2 1 2 0 1 0 5 0 0 0 4 0 2 1-1 0-6 1-2 1 6 0-7 0-4 1 1 0 8 4-3 0 0 2-2 1 7 2-7 1 0 0-2 1 2 1 5 2-1 4-5 1 0 0 4 1 3 1-4 4 0 0-1 1 3 0 5 3-2 1-10 0 1 0 7 0 0 2 0 2 2 5-8 7 3 0 7 2-4 0-5 1 4 1 5 0-6 0-1 0-1 1-2 0 2 0 6 2 0 0-4 0-1 0-3 1 10 1 0 0-7 1 4 1-3 0-7 1 3 0 2 0 0 0 1 0 0 0 2 0 0 0 4 0 0 0 1 1-12 5 10 2 2 1-9 4 4 2-1 1 0 1-7 1 13 1-12 0 9 0 0 0 1 1-1 1 4 2-13 1 6 1-3 4 3 0 7 1-3 1-5 2 3 1 3 1-10 5 7 0 1 0 2 0 2 1 0 0-1 0-2 0-3 0-2 0-2 1-4 0 7 1 4 0-6 1 5 1 0 0-1 1-9 0 9 0 4 1-3 0-5 2 3 0 1 1 0 1-2 1 6 4-2 3-7 3 4 0 0 1 6 0-12 1 4 1-5 1 5 1-4 3 1 0 6 4 2 0-7 1-4 0 5 1 6 1 3 1 0 0-13 2 0 0 9 1-6 0 0 0-1 0 0 0 0 1-1 0 3 0 5 0 2 0 0 1 2 0-7 0-4 1 9 60-2 0-4 0-6 2 10 1-2 1-2 1 6 0 0 0-4 1-8 0 6 0 0 0 2 1 1 0-2 0-5 1 1 1 11 1-9 4 2 1-7 0 2 1 2 2 7 1-8 1-1 0 0 0 3 1 8 0-6 1-6 0 1 0 1 0 5 1 6 0-5 0-5 1-1 0 0 0 7 1 2 0-4 1-1 1 3 1-4 4-4 1 8 1-3 0-1 0-3 2 4 0 6 1-5 1-5 1 10 0-5 0-2 0-4 1 2 0 4 0 2 2-3 1-2 0 1 0 1 2-3 1 10 1-3 0-1 1-4 0 3 1 0 1-8 0 1 0 8 1-10 1 13 3-8 2 8 1-1 0-4 1-7 0 9 1 3 1-9 0 7 0 1 1 1 0-1 0 0 1-10 1 5 1-2 0 4 1-9 1 9 1 4 0-9 0-3 1-1 0 3 0 1 0 1 0 1 2 2 0-7 6 5 0 6 1 1 3-10 0 6 0 5 1-12 0-1 0-1 1 9 0 3 0 1 0 0 1 0 0-3 0-1 0-2 0-3 0-3 1 0 0 3 0 1 1 4 0-3 0-6 1 7 0 1 1 1 0-6 0-2 1-1 0 0 0 3 0 4 0 4 0 1 0 2 1-2 0-4 0 0 0-1 0-5 0 0 1 1 0 1 0 5 1 3 0-1 0-1 0 0 0-1 0 0 0-5 1 8 0 2 14-6 4-7 0 2 18 5 13-8 0 1 0 4 1 3 1-7 0 5 1 8 0-1 0-5 0-2 1-5 0 1 0 3 0 2 0 3 0 1 1-1 0-3 0 0 0-1 0-3 0-1 1-2 0 13 1 1 0-3 0-1 0-2 0-8 1 4 0 0 0 3 0 2 0 3 0 1 0 1 1-1 0-1 0-2 0-5 0-5 1 5 0 0 0 3 1 6 0 0 0-6 0 0 0-7 2-1 1 9 0-7 1 2 0 3 1 6 0-12 1 10 3-8 1-2 2 7 0-3 0-2 3 2 1 5 0 0 0-3 6-2 3 5 2-3 1 5 0-9 1 3 0 8 1-2 0 0 0-6 0-1 0-3 0-1 0 0 1 2 0 1 0 8 1 2 0-2 0-9 1 6 1 4 0-2 0-3 0-3 0-1 1-1 0 3 0 2 0 3 1-9 1 4 1 3 0-2 0-3 1 8 0 1 1-7 1-4 0 1 1 4 3 5 3-2 0-5 1 1 8 6 3-4 0 2 0 1 0 3 1-10 0-2 1 1 0 1 0 9 1-8 0-3 2 1 0 4 0 7 4-7 5 1 2 2 3-4 1-1 1 6 1-6 1 1 0 7 1 1 0-10 1 3 0 5 1-1 7-2 0 5 1-5 0-9 1 11 1-5 0-1 1 0 0 6 1-2 0-8 4 9 1 2 1-11 0 2 2 10 1 0 2-2 2-5 2 4 0-7 1 9 3 1 0-7 0-1 1 3 3-6 2 2 3 4 1-3 2 6 0 0 1-1 1 0 0-2 3-5 0 10 1 1 0-10 0-1" fill="none" stroke="none" marker-start="url(#s29)" marker-mid="url(#s29)" marker-end="url(#s29)"/>
<path d="m124 579 0 1 1 5 0-2 0 0 0-1 0-8 0-2 1 0 0 8 0 5 1-4 0-2 1 3 1-4 0-5 4 8 0 3 4-3 0-3 1 2 1 5 1-12 2 6 7 1 1-6 11 7 7-1 5 2 20-6 1 0 17 2 38-6 0 11 2 0 0-13 1 5 2 5 2-9 2 0 2 2 1 4 11-4 12 1 1 4 5 0 1 4 14-8 3 3 3 4 0-4 0-4 2 8 1-1 0-4 0-4 10 0 3 9 2 4 1-13 2 3 1 0 2-1 0 8 2 0 0-2 1-9 1 1 1 4 0 5 1-1 0-5 1 6 4 3 5-3 5-4 0-2 1-3 3 10 0 0 0-1 0-1 1-8 0 5 0 7 1-5 0-7 0-1 1 0 0 1 0 2 0 1 0 10 1-3 0-3 0-9 1 2 0 7 1 6 0-11 0-1 0-1 1 9 3 2 0-3 7-10 0 8 1 5 1 2 1-5 0-3 0-3 0-1 1 7 1 5 0-2 0-9 1 1 0 3 0 0 0 3 1 0 0-4 1 3 1-3 0-5 3 4 0 4 0 0 1 3 1-8 1 9 3-13 1 10 0 0 2-2 7 5 0-12 3 1 0 7 0 3 1-4 0 0 1-6 0 3 0 1 0 2 1 0 0-2 0 0 0-2 0 0 0-2 1-1 0 1 0 3 0 2 0 0 0 1 0 0 0 2 0 0 1 1 0-3 0 0 0-5 0-1 0 0 0-2 1 0 0 4 1-4 8 5 2 6 0 0 0-5 2-6 0 4 0 4 0 4 1 0 0-6 2 1 0 0 1 5 1-6 2 3 2 1 0 2 3-11 2 3 1 2 3-5 1 8 3 3 1-5 0-4 1-3 1 11 0-1 0-2 0-3 0-1 2 8 1-3 1-8 2 4 1-2 0 3 2 8 0 0 0-3 0-4 1-6 0 11 1-3 0-4 1-5 0 9 0 4 1-1 0 0 0-4 0-1 0-1 0 0 1-3 0 3 0 1 0 0 0 3 0 3 1-8 2-5 1 9 1-3 0 0 0 3 1 3 0-2 0-8 0-2 1 3 0 3 0 7 1-1 0-1 0-8 0-1 1 3 0 1 0 0 0 5 1-6 1 0 2 5 2-1 0 1 1-6 1 0 0 7 1 0 0-11 2 1 1 4 1-3 0 1 0 10 1-5 0-8 1 0 0 4 0 3 0 1 1-3 0 0 1 3 0 2 0 1 0 2 1-2 0-5 0 0 0-2 0-1 1-2 0 8 1 2 0-10 1 8 0 4 1-1 1-11 32 1 30 2 46 8 1-12 5 6 14 2 21 2 14-1 53 3 17-6 12 5 22 0 11-3 21-8 0 11 1 0 0-1 1-1 1-2 0-3 2-3 1 9 3-2 0 2 5-8 3 5 1 1 1-6 2-2 3 7 2 7 1-10 5 5 1-2 5 4 4-7 0 5 1 2 1-9 1 10 0-8 1 2 1 2 1-8 0 1 0 1 0 5 1 2 0-3 0-3 0-1 1-1 0 2 0 0 0 0 0 2 0 6 1 3 0-1 0-2 0-1 0-2 0-2 0-3 1 0 0 3 1 6 0-1 0-4 0-5 1 5 1 2 0-1 0-2 0-3 1 1 0 3 0 6 2-3 5 0 1 4 1-5 1 1 1-5 0 9 1-2 0-1 1-10 0 5 1 8 0-1 0 0 0 0 0-7 0-4 1-1 0 5 0 5 0 1 1-4 1-2 0 7 2 0 0 0 1-8 0 7 1 1 0-3 0-1 1-8 0 5 0 3 0 1 0 3 1 0 0-2 0-2 0-1 0-3 0-1 0-4 1 4 0 1 3 0 6 1 0 4 2-1 0-9 2 14 2-5 2 4 0 1 1-14 1 0 0 8 0 3 0 1 1 2 0-1 1-11 0 5 0 5 1-3 0-5 1 8 0 2 0 0 1-14 2 8 1-6 1 2 0 1 0 5 1 2 1 1 3-9 2 5 0 1 3 2 0-6 5 5 2-5 1-2 0 3 7 2 5-3 5 7 2-1 2-4 0 0 0-5 0-3 1 0 0 3 0 2 0 1 0 0 0 2 0 1 0 0 0 0 0 2 0 1 0 1 0 0 0 1 1-1 0-1 0-2 0-3 0-3 0 0 0 0 0-3 1-1 0 2 0 2 0 2 0 2 0 1 0 1 0 2 1-4 0 0 0-3 1 3 0 4 1 0 0-11 0-1 1 3 1 8 0-6 1 3 0 3 0 2 1-4 0-1 1-7 0 6 3 6 3-8 3 3 0-1 0-5 1-2 0 3 0 2 0 6 0 2 2 1 1-12 2 12 0-5 0-2 1 3 2-8 1 7 4 1 1-6 3 6 0-8 1 0 1 6 2-3 0 1 2 6 0-3 0-6 0-2 1 3 1 6 1 2 0 1 1-3 0 0 0-8 0-1 1-1 0 4 1 6 0-5 2-3 1 10 0-4 0-3 0 0 3-5 2 8 2-8 2 9 0-8 2-1 1 13 1-3 0 2 1-2 0-4 2-2 0 1 1 8 0-4 0-6 0-3 1 0 0 1 0 6 0 0 1 1 0-2 0-4 2 2 0 8 1 0 0-3 1-2 0 3 1-6 1-2 0 9 3-2 3 2 6-7 2-4 0 12 1-2 0-5 1-3 0 0 0 8 1-2 1 3 0 2 2-4 0-1 0-1 0-1 1 4 1 2 1-8 0 1 0 1 0 0 1 7 0 0 0-5 0 0 0-4 0 0 1 1 0 1 1 7 0-9 2 7 1-5 1-2 0 8 1-2 0-1 2-8 1 8 3-8 0 5 0 6 1-7 2-3 0 2 0 3 1 2 0-1 1-3 0 3 0 3 3 2 2-9 0 8 0 1 3-8 0-5 1 1 0 2 2 7 0-1 0-1 0-1 0-1 0-4 1 3 1 5 0 0 0-3 0-3 0-3 0 0 1 3 0 0 0 9 0 1 1-2 0-2 0-3 0-4 0-2 1 1 0 0 0 1 0 1 0 0 0 0 0 5 1 4 0-1 0-1 0-6 0-4 0-1 1 3 0 2 0 1 0 0 0 0 0 0 0 1 0 1 0 4 0 0 0 0 1 2 0-7 0-3 0 0 0 0 0-1 0-2 1 1 0 3 0 1 6-2 2 8 1-6 3 0 2 5 1-4 2 4 1-12 0 9 0 0 0 2 1-8 0-1 2 0 0 9 1-7 0-2 2 9 6 2 0-11 1 4 0 2 0 6 1-8 1-2 0 0 0 3 1 7 0-2 0-3 0 0 1-6 1 12 0-2 0-2 0-4 0-3 1-3 0 6 1 2 0-1 1 0 0 0 0 0 0 5 3-2 0-2 0 0 0-1 0 0 0-2 0 0 1 3 1 6 0-8 0 0 0-2 0-4 1 2 0 2 0 1 0 1 0 3 0 4 0 0 1 0 0-1 0 0 0 0 0-1 0-3 0-4 1 0 0 5 0 1 1-7 1 2 2 7 1-1 0 1 3 1 2-7 1 5 0-7 0 0 1-4 0 4 0 5 0 4 1-4 1-9 0 0 0 0 0 7 1 5 0-2 1-8 0 5 0 2 0 3 1-5 0-6 1-1 0 2 0 6 0 0 1 2 0-6 1 1 0 6 1 0 0-2 0 0 0-3 0-4 1 1 0 2 1 0 1-5 0 3 1 8 0-1 1-3 1-3 0-2 1 7 0 2 1 0 0-9 0-2 1 6 1 7 0-12 2 0 0 7 0 2 0 3 1-9 0-1 1 0 0 1 0 7 1 0 0-5 0-4 1 3 0 7 0 1 1-9 2-4 0 5 0 0 2 0 2 5 1 0 2 2 2-1 0-11 1 9 0 3 2 2 0-6 1-7 27 8 13-7 1 5 0-4 1-3 3 6 1-5 3 10 1 1 1-12 0 0 1 5 2 2 0-7 1 2 1-2 1 12 5-2 2-4 1 2 1 0 4-1 4-4 0 0 3 5 0-3 2-4 1 4 0-1 0-1 1-2 0 4 1 2 0-1 3 3 1-5 1-1 4 6 1-8 0 3 2 4 1-4 1 4 1-7 0 2 0 10 1 0 1-11 0 7 1 2 2-12 4 2 5 9 1-1 1 3 27-12 1 2 0 7 15 3 0-1 0-2 0-2 0-1 0 0 0-1 1-5 0 2 0 4 0 1 0 5 1-4 1-8 0 14 1-1 0-2 0-7 1 8 0 1 1 0 0-3 0-4 2 2 2-3 2 2 1 2 0-2 0-4 2 5 1 4 0-3 0-2 0-2 0-5 1 6 0 0 0 5 0 1 1 0 0-5 0-1 0-4 1 3 0 8 1-10 1-1 0 2 0 2 0 3 0 2 0 2 1 0 0-2 0 0 0-3 0-4 0 0 1-3 0 4 0 5 1-9 0 0 3 11 2-12 3 7 0 2 2-6 3 4 4 7 1-11 5-3 1 0 6 10 0-6 1 1 1 5 0-8 2-1 0 13 1 0 0-1 0-6 0-4 1 4 0 0 0 3 1-1 0-2 0-7 1 2 0 0 0 2 0 0 0 7 0 0 0 1 0 1 1-3 0-4 0-4 0-1 1 10 0 0 1-5 3-3 4 3 0-1 1 2 1 6 0-6 0-2 0-5 1 1 0 1 0 1 0 4 0 1 0 5 0 0 0 0 1 0 0-1 0-7 0-4 1 0 0 0 0 5 0 1 0 6 0 1 1-2 0-12 2 10 1 2 0-5 0-2 0-1 0-4 0 0 1 0 0 1 0 6 1 6 0 0 0-4 0-1 1-2 0 3 0 4 1 0 0-5 0-1 0-1 0-3 0-2 1 0 0 7 0 1 0 2 1-1 1 1 1-7 1-3 0 0 0 9 0 2 1-3 2-3 3 2 2 4 1 0 4-1 1 0 1 2 3-2 2-9 1 0 1 0 0 1 0 0 0 5 1 2 0-9 1 9 2-7 1 4 1-2 7-5 0 1 5-1 5 2 4 10 2-12 1 5 0-5 1 9 2 2 0-8 3 7 0 2 3-10 3 4 2 0 0-5 1-1 0 14 1-1 0 0 0-1 0-1 0-1 0-1 0-5 0-1 0-3 0 0 1 0 1 13 1-12 0 7 0 1 1 2 4-8 0 9 1-1 0-1 0-2 0-6 1 3 0 1 0 3 0 3 1 1 0-1 0-6 0 0 0-5 0-1 1 2 0 1 0 2 0 2 0 2 0 2 0 2 0 1 24-1 2-11 0 7 1-4 3-1 7 0 2 1 3 8 5-7 0 6 1-9 1-3 5 14 0-13 1 10 0 1 0 1 1-4 1-6 5 11 2-13 1 3 2-1 2-1 3 3 0 6 1 2 2-7 0 1 1 6 0-3 0-2 1-5 7 10 1-2 1 0 0-10 1 3 0 9 0 1 1-14 5 9 6-5 4 0 0 2 0 6 1 0 1-12 4 10 3-7 2-1 1-3 0 13 2-9 0-3 2 3 0 4 0 5 1-10 6 0 7 3 1 4 1 3 0 0 0-11 1 5 1-4 1 4 1 4 2-9 0 4 3 9 0-7 1-2 1 3 0-4 0-2 1-2 0 1 0 2 0 0 0 1 0 2 0 5 1 2 0-5 0-3 0-1 0 0 1-1 0 3 0 1 1-3 1 8 2-10 1-2 0 0 0 6 1-6 1 6 1 0 3-1 1 6 0-3 0-8 2 9 0 2 0 3 1-3 2-2 2-1 3-4 1 8 1-3 7-7 1 9 1 2 0-2 1-4 0 4 1-2 0-6 1 10 2-3 0-1 0-9 0 0 2 6 1 2 3 2 1 2 1-10 1 3 1-4 2 12 0-10 25 5 0 2 0 3 2-2 0-1 2 4 1-2 0-4 1 0 0 2 0 2 1-1 0-3 0-3 0 0 1-4 0 4 0 0 0 1 0 1 1 6 0-1 0-5 0-2 1 1 1-1 0-4 1 0 0 10 1-2 1 2 0 1 1-5 5 3 1 0 4-3 0 0 0 3 1 3 0-8 1-2 0 3 1-2 2 7 1-7 0 0 1 5 1-1 0-4 0-4 2 2 0 4 3 4 2-2 2-7 4 3 2 9 0-3 0-2 0-6 1-2 0 0 0 5 0 3 0 5 1-7 0-1 0-2 0-2 1 6 0 7 4-7 1-7 0 0 1 10 0-6 2 6 0 1 1-4 7-6 0 7 1 2 0-7 0 0 0 0 0-1 1-2 14 13 1-2 2-10 3 0 1 10 0-5 1 6 5-3 3-9 4 6 4 4 0 3 1-8 2-2 11 7 0-10 2 12 1 0 0-10 2 0 0 12 1-2 0 0 0-3 0-5 0-2 1 0 0 4 0 0 0 6 1-5 0-1 0 0 0-4 0-2 0 0 2 10 0 1 2 0 2-6 10 9 1-4 1-3 1-4 1 1 0-4 1 0 0 4 0 6 1 3 15-10 1 7 0-3 0-5 1 0 0 4 0 2 1 2 0-5 1 2 0 3 1-7 1-3 1 2 2 0 0 4 2 6 0-1 0-7 0-1 2 1 0 3 1-2 1-4 0 5 0 7 1-2 0-11 1 10 1-1 3 0 2 3 4-7 1-4 1 0 0 8 1-3 0-5 0 0 1 13 2-1 2-10 0 9 5-5 0-1 0-6 1 11 1 1 0-3 0-2 0-5 0-1 1-1 0 2 0 8 0 2 1-4 0-4 1-4 0 5 0 3 0 2 0 0 1 4 0-8 0-3 0-1 0-2 0 0 1 3 0 3 0 7 0 1 1-3 0-8 1-3 0 10 0 1 1-1 0-6 2 9 1-4 1 2 2-2 2-4 1 1 0-4 0-2 1 3 0 2 1 5 0-10 1 0 0 1 0 5 1 1 0-4 2 7 1-6 3 0 0 7 1-3 2 3 3-6 2-3 1 9 5 0 2-9 3 2 2 9 0-13 9 10 1 0 0-7 1 9 1-2 0-4 0-6 1 1 0 10 1 3 0-8 1-4 0 0 0 1 0 3 0 3 0 3 1-2 0-9 1 7 0 2 0 0 1 2 0-4 0-3 1-1 1 9 0-4 0 0 0 0 0-1 1 2 1 1 0-1 1 0 6 4 1-14 0 9 0 4 1-1 0-12 1 9 1-6 2-1 2 10 0-6 2-6 0 7 1 5 0-2 0 0 0 0 0-1 0-4 1 1 0 1 0 4 0 2 1-11 3 7 5 4 0-13 2 9 2-1 3-3 0 3 2-2 1-1 0 2 1 1 0-2 1-6 0 9 0 1 1 0 0-2 1-8 0 3 0 2 0 6 0 1 2 1 0-1 0-4 0-1 1-2 1 8 10-11 3 6 0-2 1-6 1 10 3-6 0 1 0 4 2 1 1-2 1-5 1-2 1 8 1 0 3 2 0-7 5 1 1 7 1 0 0 0 1-6 0-5 0-1 60 2 0 8 0 3 1-2 0-2 0-4 0-4 0-1 1 0 0 1 1 5 2-4 0 2 0 7 1 2 0-1 0-5 1-7 0 1 0 3 1 10 0-3 0-9 2-1 0 0 0 5 0 2 0 3 1 1 2-2 0 4 1-1 0-12 1 3 1-4 1 1 0 3 1 4 0-2 1-2 0 2 0 0 0 1 0 3 0 2 0 2 1-6 0-1 0-3 0-1 0-3 1 3 0 8 1-3 0-2 0 0 0 0 0-2 0-1 1-2 0 1 0 3 1 7 0 0 0-1 0-3 0-3 0-2 0 0 1 0 0 1 1-4 1 1 2 7 1-6 0 10 1-6 1 0 0 7 1 1 2-6 0 3 1 2 0-11 1 9 1 1 0-1 0 0 0-2 0-4 1-5 0 8 0 2 0 3 1-10 1-3 0 13 1-13 2 7 0 1 1 2 0-8 1 3 0 3 0 4 1-3 0-7 1 4 1 4 0-8 3 9 3-8 2-3 1 7 2-1 0 3 1-3 0-1 1 3 1-4 2-4 0 8 2-2 1 3 2 4 0-6 0-7 1 2 2 11 2-8 0 2 1-5 0-2 4 9 1 2 0-3 0-1 0-4 0-3 1 3 0 4 0 3 1-1 0-3 1-6 0 2 0 9 1 2 0-2 0-1 0-6 0-2 0-2 1 2 0 5 1 7 0 0 0-6 1-2 0 2 0 0 0 3 1 2 0 0 0-3 0-2 0-1 0-1 0-2 0-1 0 0 0-1 1-1 0 0 0 0 0 1 0 7 0 4 0 0 1 0 0-1 0 0 0-4 0-3 0-1 0-3 0-1 0 0 1 2 0 9 0 1 1-2 0-3 0-1 0 0 0-1 0 0 0 0 16 5 13-5 2-4 18 7 0-3 0-1 0-2 0-2 0 0 0 0 1 0 1 12 0-5 0-2 1-5 0 1 0 1 0 9 0 2 1 0 0-2 0 0 0-2 0-3 0-1 0-1 0-1 0-3 1 0 0 0 0 2 0 5 0 5 0 1 1-3 0-4 0-3 0-1 1-2 0 2 0 3 0 1 0 4 0 3 1-3 0-1 0 0 0-2 0-3 0-3 0 0 0-1 1 0 0 1 0 6 0 3 1 2 0 0 0-8 1 4 0 2 0 1 0 3 1-3 0-11 1 0 0 0 0 14 3-7 0-3 1-4 0 7 0 3 1-2 1-5 0 1 1 8 1-7 0 3 3 6 0-1 0-8 0-5 1 10 0 2 2 0 0-7 0-5 3 3 2 7 1 4 1-1 1-2 3 0 1-6 0 3 1-2 0-3 1-2 0 10 1-1 1 3 0 0 1-6 0-4 2 4 0 0 3 4 0-5 2-5 0 1 1 6 1-8 0 7 1 1 11 0 1 2 2-3 4-1 1-2 0 4 0 4 1 1 0-6 0-1 0-6 6 6 1 7 1-11 1 9 2-11 0 3 7 10 1 0 1-7 1 5 1-4 2-6 0 9 5 1 3-10 0 3 0 1 0 2 0 2 1 3 0-1 0-1 0-2 0-1 1-3 1 1 4 3 0 2 1 1 2-12 1 11 6-5 4 9 0-1 0-5 0-3 1-2 8 7 2-9 2-1 1 0 0 13 1-10 0 0 0-3 1 7 1 7 0-3 0-10 2 1" fill="none" stroke="none" marker-start="url(#s30)" marker-mid="url(#s30)" marker-end="url(#s30)"/>
<path d="m123 560 1 8 1 0 0 1 1-6 1 1 0 2 1-5 10 5 2-8 2 10 3-1 17 0 16-11 11 13 26-8 24-1 0 7 0 2 1-4 0-3 4-6 0 5 2 3 2-6 2 12 0-6 0-1 1-6 0 0 1 9 5-3 1-7 4 0 0 1 5 3 3-1 1 2 16-3 2 3 2-4 1 10 2-2 1 2 0-10 3 13 3-4 0-2 4-4 0 6 4 4 0-2 2-9 1-3 2 11 7 2 9-12 4 4 3 5 0 3 4-12 1 0 0 1 0 1 0 6 0 4 1-9 6 0 0 8 3-11 1 13 2-3 3 1 1-2 1 3 0 1 1-2 0-2 0-2 0-1 2 1 0 3 1-4 1-6 0 3 0 1 0 8 1 1 1-9 0 6 2-11 1 12 1-2 2-7 0 1 0 0 2 10 1-1 2 1 2-6 1-4 1-4 0 7 0 1 0 2 1 4 0-1 1-13 0 4 0 1 0 1 0 5 1 2 0-7 0-3 0-1 4 2 0 10 3-4 0-1 8-3 3 8 1-9 2 6 0-10 1 4 0 5 3 3 0-4 0-1 0-4 0-2 0-2 1 2 0 1 0 3 0 6 0 2 1-3 0-5 0-4 0-1 1 3 0 3 0 1 0 0 0 3 0 2 2-4 0-1 2-1 1 5 4-7 1 0 3-4 1 10 0-1 1 3 3-8 0-3 1 4 0 1 2 1 7 6 1-10 0-2 1 10 6-3 5-8 0 2 0 9 1-1 0-7 5 3 0 3 0 1 1-1 2-1 0 3 1 2 0-2 0 0 0-8 1-2 0 11 0 1 1-1 0-1 0-3 0-1 0-7 1 5 0 2 2 4 0-5 0-4 1 3 0 1 0 4 1-2 1 0 1-9 1 5 0 4 0 2 0 2 0 0 1-2 0-4 1-3 0 9 1-1 0-6 0-2 4 8 1-2 2-7 0 1 0 6 4-1 1-8 0 7 1 6 0 0 0-5 0-7 2 8 1-2 1-8 0 7 0 0 0 1 1-5 1-3 0 1 0 6 1 7 1-8 11 1 100-1 5 3 109 3 42-4 32 6 1-4 1-7 0 8 1 2 0 0 0-11 4 0 1 4 1 3 1-2 1-4 0 8 1 0 1 1 1-4 4 0 0 5 5 0 6-11 9 0 2 10 1-11 3 0 2 8 0-3 0-2 0-3 1 10 1-4 1-1 1-3 1 0 0 2 0 2 0 2 0 4 1-7 0-4 1 0 0 9 0 3 1 0 0-4 0-3 0-6 1 1 0 3 1 2 1 2 4-1 4 1 1-1 1-7 0 8 0 4 1 0 0-5 1-5 0 3 2 2 3-3 1 9 0-3 1 0 0 1 0 1 1-10 0-1 1-1 0 0 0 5 0 4 0 2 0 1 0 1 0 0 1-9 0-1 0-4 0 0 1 5 0 1 4 4 7-8 3 12 0-1 3-6 0 1 1-6 1 11 0 0 1-2 0-4 1-1 0 2 0 6 1-7 0-1 0-1 1 0 1 3 2-3 0 1 0 0 2 6 0-7 1 4 1-1 1 0 0 2 1 2 0 0 0-10 2 10 2-6 1-1 1-1 3 9 4 0 14-5 1 1 5-3 1 3 1-5 0 5 1 1 0-3 0-3 0-1 0-1 1-2 0 2 0 4 1 5 0-4 1-2 0 4 1 1 0-5 2-1 0 8 2-4 0-6 2 3 0 0 3 8 1-6 0 2 0 0 0 4 3-3 2 3 1-11 2 9 0 3 3-11 2 11 5-1 1 0 1-1 1-10 0 8 0 1 1-7 2 7 1-9 2-1 0 11 1-9 1 7 0 2 0 2 1-1 0-3 0-10 1 4 0 5 0 0 0 3 1-9 0-1 1-1 0 2 0 1 1 10 5-13 1 1 1 3 1 8 1-6 5 0 2-4 1 6 1-4 0 6 1-11 1 9 4-7 1 5 1 7 0-5 0 0 0-3 1 7 3-9 0-2 3 0 5 7 0-7 1 9 3 3 2-4 5-5 2-3 0 10 1 2 1-14 0 13 1-1 0-1 0-3 0-1 0 0 0-2 1-3 0 6 2 5 0-6 0 0 0-4 1 3 3 5 0-2 5-6 0 0 0 2 1 8 0-6 1-4 0 1 0 1 0 0 0 1 0 3 1 4 1-10 0 4 0 3 2 4 1-12 0 1 1-2 1 1 0 8 1-2 0-6 0-1 1 1 0 1 0 7 3 0 0-9 1 12 1-6 0-1 1-4 0 7 0 2 1 3 0-11 1 1 0 1 0 1 0 1 0 0 0 1 0 5 0 1 1 0 0-2 0-12 2 4 0 8 0 0 1 2 0-4 0-1 0-1 0-5 0-1 0-1 1 2 1 9 1 0 3-8 1-2 2 9 1 2 5-6 1-7 0 13 1 1 1-14 0 5 0 7 2 1 0-3 0 0 0-7 1 8 2 1 0 0 0-6 1-2 1 10 7-14 0 9 2-6 0-1 0 0 1 0 0 3 0 2 0 3 1 2 0-4 0 0 0-1 1-3 0 5 0 2 1 3 0-7 1-6 0 5 0 2 0 4 0 1 1-3 0-1 1-5 0 5 1 1 0-4 1 7 1-1 0 0 1-7 0 2 0 1 0 4 1-2 0-9 1 0 0 8 0 2 1 1 0-4 0-4 1-2 0 1 0 2 0 1 0 1 0 7 0 0 1 0 0-5 0-3 3 3 5-7 4 4 0 7 1 0 0 0 0-1 0-9 1 2 0 3 1 6 0-9 0-4 1 5 0 6 1-6 1-1 0 2 0 3 0 4 1-7 0-2 1 6 0 1 1-1 0-6 0-5 3 10 1-1 1-7 1 9 0-4 1 3 1 3 0-6 0-6 1 3 0 1 1 5 1 1 1 3 0-8 1-5 0 10 0 1 1 2 1-14 2 11 1-9 0 2 3 8 0-8 0-2 1-1 1 12 4-12 2 5 0-5 3 2 10-1 27-2 0 2 1 7 0-2 0-3 2 2 1-3 0-2 2 2 1 6 4-1 2 0 0-6 1 3 0 1 0 2 0 0 0 4 1 2 0-1 2-10 1 11 2-4 1-5 1-3 1 8 0-1 0-2 2-5 0 1 1 1 4 3 4-2 0-2 2-1 1 6 0 0 0-4 1 0 0 6 1 0 0-7 1-3 0 1 0 13 3-8 0-1 1-3 0 4 0 3 2 4 0 0 0-12 1 7 1 3 0-3 1 1 1 5 3-13 0 7 1 4 2-9 2 9 0-1 0-3 1-3 0 5 1 2 0-7 0 0 0-3 1 1 0 1 1-2 1 10 2-1 1-7 0 6 0 2 3-7 1 1 1-2 2-3 0 9 1 1 0-10 2 9 25 2 1 0 1 0 3-6 12 0 0-2 0-2 1 1 0 5 1 5 0-1 0-4 0 0 0-4 0-1 1-2 0 8 0 5 1-5 1 5 1-11 1 5 0 5 1-3 0-6 2 6 0 3 2 1 0-14 2 11 1 2 0 0 0-5 0-2 0-1 1-1 0 5 0 1 0 0 0 4 1-4 0-8 1-2 0 3 0 1 2-2 1 7 0 1 0 1 0 0 0 1 1 2 0-1 0-1 0-2 0 0 0-4 0 0 0 0 0-3 0-1 0-1 0-1 1 4 0 9 1-9 1 10 1 0 0-2 0-1 1-7 0 3 0 2 2 4 0-1 0-2 0-3 2-4 0 5 0 6 2-12 2 2 2 9 0-12 2 12 1-8 6-2 0 0 0 1 1 8 0-5 2 4 2-7 2 10 0 0 1-11 1 10 1-4 0-1 3-7 0 4 1-1 0-2 1 4 0 1 0 3 1-1 0-8 1-1 0 1 0 7 0 3 1 2 0-1 0-2 0-2 1-8 0 3 0 1 0 7 0 2 1-10 1 1 2-2 1 8 0 2 3-2 0-3 1-5 0 10 0 2 1-2 0 0 0-3 0-1 0-1 0-1 0-5 1 3 0 1 0 0 0 6 1 1 0 0 2-8 1 8 1-8 0 1 0 2 0 2 0 1 0 3 1-3 0-2 0-6 1 7 0 3 0 2 1-3 0-5 2-4 0 0 0 2 1 10 1-11 0 4 0 6 1-4 0 0 0-7 1 10 1 0 3-8 3 4 0-5 1 3 2 0 1 5 5 3 4-5 1-3 0-5 1 0 0 4 0 6 1 1 0-10 1 2 0 3 0 3 1 4 1 0 3-6 0-2 0-1 1 2 2 6 1-8 1 1 4-3 4 8 4 2 3 1 0-3 1-6 1 3 0-4 4 7 5-5 4 8 1-2 1-3 1 5 1-10 0 0 0 2 0 6 1-1 0 0 0-2 0 0 0-2 0-3 1 2 2-5 1 4 0 3 0 2 0 4 1-7 1 5 1-2 1-6 1 8 0-10 0-2 1 2 0 4 0 3 1 5 0-2 0-2 0-1 0-4 27-1 15-3 6 1 2 4 1-1 0 0 4-2 3 1 15 10 0-2 11-2 1-8 1 1 0 6 0 5 1-14 3 11 4-10 3 7 5-1 0-3 1-3 0 2 0 2 1 5 0-4 0-2 1 4 0 1 0 5 2-5 0-8 7 0 1 13 0-7 1 1 1 3 2-10 0 3 0 10 2-5 3-4 0 2 1 6 0-3 0-1 3-7 1 10 0-5 2-2 0 5 2-4 2-3 1 11 0-1 0-8 0-1 0-1 1 1 0 1 0 4 0 0 0 1 0 4 1-3 0-1 0-4 0-6 1 6 0 1 0 1 0 1 1-5 0-1 0-1 2-1 0 2 1 1 0-3 1 11 0 1 1 0 0 0 0-3 0 0 0-9 1 2 1-3 1 2 0 1 0 5 0 0 0 0 0 1 0 3 0 2 1-10 0 0 0 0 0-2 1 2 0 6 0 0 0 4 1-11 2 2 0 1 0 5 1-2 0-6 0 0 0-3 1 0 0 3 0 2 0 0 0 1 4-6 1 10 0 2 2 1 1-6 0 4 0 2 2-6 2 0 2-2 1-2 0 11 1-10 1-4 0 1 0 13 1-6 2-6 0 2 2-1 1 1 1 5 0-2 1 0 0 7 1-4 0 0 0-8 0-2 0 0 1 1 0 3 0 2 2 1 0-2 0-4 0 0 0-1 1 4 0 7 1-3 0-4 1 2 0 8 1-3 0-2 1-7 1 7 1-6 1 7 0-6 1 3 1 2 0-2 2-4 3 0 1 4 1-6 0 0 0-1 1 1 0 3 1 6 0-3 0-7 1 3 0 0 0 5 1 4 0 0 0-12 17 13 4-4 2-6 0 2 1 9 1-6 1-1 1 1 1 6 0-2 0-10 1 2 0 9 1-6 1 4 1 0 0-4 3 1 0 1 7 2 0-5 1-5 0 7 0 2 2-4 2 2 1-4 3-1 0 6 4 1 1-4 4 8 0-3 1-3 1-6 2 8 1 0 4-7 0 0 0 2 0 2 1-4 5 11 0 0 1-9 10 9 1-1 0-6 1-2 1 0 0-4 14 4 6 9 1-12 0 4 0 8 6-3 7 0 1-2 1-7 0 9 1 0 0-10 10 10 1-3 2-2 3 8 0-1 3-12 1 1 1 2 0 4 1 5 0-7 2 8 4-5 1-6 9 10 2-12 0 7 1-7 1 0 0 1 0 4 2 2 14 5 5-1 0-1 0-9 1-2 0 10 2-10 1 3 2 10 0-6 1-1 0 3 2-2 2 5 2-11 4 10 2-10 2 3 3-1 0 0 1-2 0 5 0 8 1-1 0-3 0-6 0-2 1 4 0 4 0 2 0 1 2 1 0-1 5-10 0 3 2 1 3-5 0 1 0 1 0 2 0 3 1 1 0-2 1-6 0 3 0 1 0 1 0 5 1 0 0-4 0 0 0-1 0 0 0-3 0-3 1 3 0 4 0 1 1 4 0-6 0-4 0-2 1 4 1-5 1 1 1 2 5 3 1 2 1-5 0 2 0 2 1 7 0-5 0 0 0-4 2 4 0 2 0 3 1-2 0-8 0-1 2 0 6 8 1-2 1-3 5-1 0 5 8 2 0-8 4 7 1-2 2 2 6 3 1-5 1 3 0-4 1-6 0 6 2 5 1 1 1-1 1-12 3 4 7 2 1 2 0-6 3 5 8 5 0-9 0 0 1 1 0 3 0 4 1-2 1-8 0 2 0 5 1-5 4 3 4 2 1-5 8 8 0-12 0 0 2 1 2 5 1 1 0 4 0 1 1-9 0-2 1 2 1 10 0-7 0-1 2 2 2 2 1-1 0 1 4-3 5-3 0 4 2 1 1-1 0 4 0 2 1-2 0-8 0 0 1 10 1-9 0 0 4 5 7-3 1-1 0 0 0 1 0 5 1-1 1-9 0 3 2 4 0-2 0-3 60-2 0 9 1 3 0-2 0-4 0-3 0-1 0 0 0-2 1 8 0 4 1-2 0-2 0-1 0-2 0-5 1 0 0 5 0 1 0 2 0 3 1 2 0-1 0-5 0 0 0-4 0-3 0 0 1 2 0 3 0 1 1 6 0-1 0-1 0 0 0-1 0-2 0 0 0-1 0 0 0-3 0-1 0-3 1 0 0 3 0 0 0 0 0 5 0 4 2 0 0-5 0-5 1 2 1 10 1-9 1 1 0-6 3 3 0 6 0 4 1 1 0-6 0-1 1 3 0 1 1 3 0-3 0-4 0-3 1-2 0 3 0 1 0 1 0 3 0 4 1-3 0-5 0 0 0-3 0-3 1 1 0 2 0 0 0 1 0 5 0 1 0 3 0 0 1 1 0 0 0-6 0-4 1-3 0 3 0 2 0 1 0 3 1 2 0-2 0-3 1-5 0 1 0 5 0 0 0 1 0 2 1 1 0-6 1 0 0 3 1 5 3-4 0 3 1-10 0-2 1 1 1 0 0-2 1 10 0 3 1-1 0-4 0-7 1 3 0 1 0 1 0 0 0 2 0 4 1 2 0-6 0 0 1-7 0 11 0 1 1-1 1-9 0 2 1 4 1-6 0 3 0 5 1-3 0 0 1 4 1 2 2-2 1-7 4-2 1 6 0 0 1-6 2 9 0 0 1-7 0 3 1 3 2-8 0 10 2-3 0-5 0-1 2-4 0 4 1 8 3-10 0 10 3-6 2-3 1 3 1 7 1-3 0-8 2 7 1 3 0-3 1-3 0 1 0 6 1-13 1 6 0 8 1-6 0-2 0-3 1 8 1 3 0-1 0 0 0-2 0-2 0-1 1-5 0 2 0 0 0 0 0 4 1 4 0-9 0 0 0 0 0-3 1 0 0 0 0 0 0 9 1-3 0-3 1-1 0 2 0 2 0 4 31 0 18-10 0 2 0 0 0 1 0 2 0 1 0 1 0 6 1-1 0-5 0-5 0-1 0-1 1 1 0 1 0 6 0 0 0 2 0 2 0 1 1 0 0 0 0-1 0 0 0-1 0-2 0-1 0-1 0-4 0-3 1 0 0 2 0 1 0 5 0 1 0 0 0 2 0 1 0 0 1-2 0-2 0-4 0-2 0-3 1 0 0 1 0 2 0 1 0 2 0 1 0 1 0 0 0 4 0 0 0 1 1 0 0-1 0 0 0-1 0-1 0-5 0-1 0-2 1-2 0 0 0 2 0 1 0 1 0 1 0 1 0 1 0 0 0 0 0 3 0 3 1 0 0-1 0-6 0-1 0 0 0-2 0-1 0 0 1-1 0 1 0 1 0 1 0 2 0 2 0 2 0 0 0 3 1 1 0-1 0-3 0-9 1 2 0 1 0 8 0 2 1-6 0-5 1 4 2 5 1 0 0 1 1-2 0-4 1-7 0 6 0 2 1-3 0-5 2 5 0 2 1-5 1-2 0 1 0 1 0 5 1 6 0 0 0-2 0-7 0-1 1-2 0 5 0 3 0 2 0 2 0 0 9-4 7-6 0 7 1-1 0-5 0 0 0-2 1 9 1 2 1-10 0 3 0 8 0 0 2-6 0-1 0-1 1 4 1 4 0-1 3-9 3 6 3-4 1 6 1-9 5 5 3 2 3-8 1-2 1 6 0 0 3 5 6-4 4 0 1-4 3-1 3 6 1-6 0 7 0 3 1-3 1-3 2 7 0-1 3-3 2 4 0-9 1-4 0 9 0 5 1-11 1-2 0 1 0 9 1 1 0-4 0 0 1 0 0 1 0 2 7 0 2-8 2 11 7-9 1 1 2-5 1 8 10-3 1 6 0-7 0-2 0-1 1 3 1 8 0-10 1 2" fill="none" stroke="none" marker-start="url(#s31)" marker-mid="url(#s31)" marker-end="url(#s31)"/>
<path d="m123 548 1 7 0-8 0-2 0-3 1 8 0 5 0 0 8-6 3 3 73 3 29-13 0 2 0 2 1 6 0-4 1-4 0 4 0 1 4 1 1 5 3-4 1-8 1 0 2 7 0 1 0 1 1-6 1-4 0 5 1 8 3-10 0 4 4 1 1 0 1-1 0-3 1 7 0 3 1-6 2-1 0 5 1-10 1 2 1-3 1 10 3-11 1 14 1-5 1 1 1 3 0-3 3-4 0 7 1-8 2 6 1-4 2-7 0 5 1 8 1-9 1 5 2 4 1-5 0-5 2 4 2 0 0-6 0 0 1 1 0 0 1 11 0-8 2-2 0 7 1 1 0-11 1 1 0 1 0 1 3-3 2 1 0 4 0 1 0 3 1 4 0-5 0-6 2 3 0 1 0 7 1-4 0-7 2 0 10 3 0-3 4 8 1-6 1 10 1-7 1 6 4 1 0-9 0-3 1 1 1-2 3 10 1-10 3 10 2 1 2-12 3 12 1-9 4 0 2-2 0 1 1 11 0-1 0-1 1-6 1 5 1-9 0 6 0 0 1 4 1 0 6-9 8-2 0 1 0 11 1-1 0-3 1 1 1 3 0-6 0-3 1-1 0 6 0 3 0 3 1-3 1-5 4-6 4 14 10 0 1-8 0 2 1 2 1-8 2 11 0-6 1-2 0 0 0 2 1-2 1 1 0 1 0 1 0 1 1 5 1-14 1 7 9-7 1 6 1 0 1-4 3 4 0 3 1 2 0-7 0-1 13 11 2-6 1 4 1-9 1 5 2 4 0-9 1 6 1-9 2 5 0 4 4 4 0-4 1 5 2-9 1-3 0 6 1 5 0-2 0-2 0-8 1 1 0 1 0 1 0 1 1 5 0-2 0-1 0 0 0-1 3 0 2-1 0 0 1 2 2 5 2-9 1 0 0-1 3 4 1-2 4 10 1-3 1-11 2 1 1 7 1-4 0-4 1 0 0 4 1 4 0-3 0-3 1 1 0 2 0 5 1 3 0-9 0-2 0-2 1 9 2 3 0-3 1-7 34-1 10 9 76-2 2 4 60-7 37-3 32 7 28-7 14 11 5-11 0 0 0 2 0 3 1-6 1 0 0 0 1 11 0-12 2 4 1 8 2 0 1-1 4-6 1 6 11 0 15 3 1-14 0 6 4 0 2 0 0 1 1-3 2 0 0 3 1 0 1-3 0 5 1-5 1-1 0 6 2 4 0-5 7-6 0 11 2-3 1 0 1 1 0-10 1 4 0 2 0 4 0 2 2-11 1 3 2 8 3-11 0 4 0 6 1-7 1-4 1 9 0-8 0-2 1 7 0 4 6-1 10 1 2-1 0-7 1-1 0 2 0 6 0 1 0 1 2 0 0-9 1-1 2 11 0-9 1-4 0 9 1 2 0-3 0-4 1 5 4 0 2-6 0 0 0 2 1 3 0 0 1 1 0 2 0 1 21-7 7-5 2 11 1-7 1 9 0-2 1-10 0 4 0 3 0 3 1-1 0-4 0-1 0-4 0-1 1 7 0 1 0 2 0 1 0 2 1 0 0-5 1 0 0 2 0 3 1-3 2 2 2 1 1 1 1-9 2 8 1-10 1 6 2 3 0-5 1 5 2-10 3 1 1 9 0-1 1-2 3 4 1-4 0 4 3-7 0-1 1 4 1-4 2 1 1-1 2-2 0 11 4-4 0-2 0-8 1 7 0 1 1 5 1-2 0 1 2-4 7-3 6 4 2-3 2 6 2 1 1 0 0-1 0-5 2-3 2 7 1-7 2 3 0-1 0-5 1 3 1 2 9 6 4-8 2 5 5-10 2 2 0 0 0 10 2 2 0-6 0-4 1 1 1 5 0-1 2-7 1 12 0-3 0-10 1 13 5-8 0-2 2 7 1-4 0-5 1 2 1 6 1 1 2 3 1-7 0 1 0 0 0 5 1 0 1-9 2 7 0-9 0-1 2 8 2 3 0-8 0-2 1 9 1-3 0-5 0-1 1 3 0 2 0 4 0 2 2-6 0-4 0-2 2 3 0 9 1 2 0-2 0-3 0-1 0-1 0-3 0-2 1-2 0 9 0 5 1 0 0-10 1 9 1-13 5 6 1-2 0-3 0 0 2 3 0 1 1 5 1-7 0 6 3 4 0-8 1-3 1 6 1-6 0 9 2 3 0-11 1-3 0 8 1 3 1-5 1 4 1-1 0 3 5-8 1-2 0 10 2 0 0-4 0-2 0-4 1 11 1-5 1-5 1 9 0-2 1-4 0 2 0 1 1-7 1 10 2 1 0-2 0-2 1-5 0 8 1 2 0-1 0-1 0-6 1-3 0 5 0 0 0 6 1-1 0-1 0-2 0-2 0-5 1-2 0 1 0 5 0 1 0 3 2 1 1-2 1-9 2 6 5-1 0-1 0-2 1-1 0 3 0 2 0 4 0 2 1-13 0 0 1 1 0 12 1-2 0-3 1-3 2 5 1 3 1-13 1 8 0 0 1 1 0-1 0-7 1-1 0 5 0 7 2-9 0-1 1 2 1 6 0-8 1 7 1 1 1-9 0 13 1-14 0 0 0 0 2 1 1 7 1 1 0 1 2 0 2 1 1-2 3-2 4 1 1-1 1 6 2-12 0 5 1 7 4-1 35-13 1 14 1-9 1-4 1 7 0-1 0-1 1-3 0 5 1 6 0-10 4 6 1-2 1-7 0 13 1-2 0-4 0-2 1-4 0 11 4-4 2-7 1 1 1-2 1 11 0-1 0-1 1-10 0 11 1-2 2 1 2 0 0-2 2 0 0 5 2-1 0-3 0-2 1 1 0 5 1-9 1-1 1 10 0-1 0-10 1 6 1 3 0-8 1 7 1 2 0-3 0-5 1 0 0 2 0 3 0 2 1 0 0-7 0-2 1-1 0 2 0 4 2 5 0-3 1 2 0 3 1-6 5 5 1-9 2 6 0 2 0 1 1 1 0-4 0-1 1-8 0 0 0 4 0 2 0 5 1 1 0-4 0 0 0-3 0-4 0-1 0 0 1 0 0 9 0 0 0 1 1-3 0-5 0-2 1 1 0 0 0 5 0 2 0 4 1-10 2 2 0 8 1-7 0-1 4 3 1 5 1-10 0 2 3-3 0-2 1 14 0 1 26-4 0-3 2 3 1-3 0 0 1 7 12-1 0-1 0-4 0-1 0 0 0-3 1 5 1 4 0-9 0-1 1-1 0 4 1 1 1-6 1 4 1 6 5-10 1 9 2-7 0-2 1 7 0 5 1-2 0-3 0-2 0-1 1 4 1 1 0-3 0-2 0-3 0-2 2 7 0 1 0 1 0 4 1-2 0-2 0-7 2 5 1 4 0-10 1 4 0 8 2 0 0-6 1-6 2 10 0-1 1-9 1 3 1 4 4 3 1 0 1-6 4 9 2-13 2 6 1-3 2 3 0 2 3-3 0-5 3 3 0 6 1 2 3-11 0 6 0 2 1 3 0 0 0-3 0 0 1-1 0 2 1 0 0 0 0-3 0-2 0-3 0-2 1 0 0 10 1-3 4 0 0 1 0 3 4 1 0 0 0-8 0-1 0-1 1 1 0 3 0 2 0 2 0 0 0 2 1 0 0-1 0-5 0-4 0 0 0-1 0-1 0 0 1 0 0 2 0 6 2 2 0-9 1 0 1 12 0-1 0 0 0-3 0-3 1-2 2 4 0-2 0-5 1 7 1-1 2-7 1 10 0-8 0-1 2 5 7 4 1-3 2-4 6 10 1 0 2-3 1 1 0-1 0 0 0-4 1 2 1 2 1-9 0 7 0 5 1 0 6-4 3 1 1 3 2-8 13-4 7 3 3 5 6-6 0-2 1 12 4-5 1-3 1-3 2 5 2 1 0-3 0-2 1 9 2-3 0-4 0-1 11 7 17-2 27-7 1-2 2 8 2 3 5 3 1-3 2-8 3 6 5-3 0 2 14 3 12-10 0 12 0 1 1-5 0-8 0-1 0 0 1 1 0 0 0 0 0 1 0 1 0 3 0 1 0 0 0 1 2 4 0-6 0 0 0 0 1-2 0 9 0 0 2-4 0-4 1 7 1-2 1-7 1 10 2-8 1 0 0-1 1 2 0 0 3 5 0-10 1 2 0 1 2 8 3-10 1 6 1-4 0 3 1 2 1-5 1 4 1-8 0 10 1-1 1-8 0 2 0 2 2 8 0 0 0-7 0 0 0-5 1 3 0 4 0 0 0 4 1 1 0-4 0-5 0-1 0-3 1 9 0 1 0 1 1-2 0-1 0-4 0-2 1-1 0 8 2-8 1-1 0 0 0 6 1 7 0-1 0-2 0-1 0 0 0-7 1-1 0 2 0 4 0 1 0 0 0 4 1 0 0-2 0-2 0 0 0-2 0-2 0 0 0-4 0 0 1 1 0 0 0 1 0 3 0 1 0 1 0 2 0 1 0 2 0 1 0 0 1-2 0-3 0-1 0-1 0 0 0-3 0-3 0 0 1 0 0 4 0 5 2 5 0-10 1-1 0 2 0 8 1-7 0-5 1 2 0 1 0 1 0 1 0 5 0 0 0 1 0 1 1 1 0-9 0-4 1 9 3-6 1-4 0 4 0 8 3-5 0-6 1-1 0 10 1-3 0-4 1-2 0 2 1-1 2 1 0 3 2-1 2-5 0 5 0 8 2-9 1-4 0 8 0 2 1-3 1-1 1-3 0 0 1-3 0 5 0 1 0 3 0 2 0 2 0 1 1 0 0-1 0-4 0 0 0-1 0-1 0-1 0-6 0 0 0-1 1 1 0 2 0 2 0 1 0 0 0 4 0 0 0 1 0 3 0 1 0 0 1-4 0-2 0 0 0-2 0-3 0-2 1 0 0 1 0 2 0 3 0 1 0 0 0 1 0 1 0 0 0 2 0 2 1-3 0-3 0-4 0-4 1 0 0 2 0 3 0 2 1 5 0-4 0-7 1 1 0 6 1 3 1 2 1-4 2-7 1-1 1 0 1 11 0-12 1 6 0 1 2-6 1 2 1 10 0-9 0-3 0-1 1 2 0 1 1 4 0-1 0-3 1 5 0 6 18-8 1 6 4 0 3-4 0 2 2-5 0-1 3-3 1 1 0-1 1-1 0 13 1-5 1-4 1-1 3 7 1-2 2 3 2-1 0-9 2 9 5 2 2-1 12 0 2-8 1 4 0 0 0-4 1 0 0 1 0 8 1-12 1 12 1-2 2-10 1 14 0-7 3 3 1-2 6-4 2 5 1-6 0 4 30 0 3 6 2-12 1 10 2-3 4-7 8 3 2 10 7-4 2-10 5 5 10 8 1-2 1 2 1-12 1 4 0 5 1-1 1 0 14-4 2 4 3-3 3 2 1 1 1-3 4 6 0-9 2 3 0 6 0 1 1-2 1-7 10 8 2-11 0 6 1-2 0-1 2-4 0 1 2 9 5-9 3 0 2-1 0 2 0 5 1 5 1-3 0 0 0 2 0 1 1-5 0 0 0-7 5 0 2 0 1 0 0 5 2 4 1-8 0 5 0 6 1-1 0-8 0-1 0-2 1 8 0 1 1-7 1-2 0 3 0 7 0 2 5-2 0 0 21-9 0 5 1-1 14 3 1 2 0-2 2 1 2 0 0-6 1 1 2 3 3 3 2-10 4 4 0 7 1-9 1 10 8-3 0-4 0-4 1 10 1-2 0-2 0-4 0-2 3 7 15 4 0-11 2 1 5 11 12-12 1 8 1-6 1 10 6-11 1 9 9-5 1 4 0-1 1-6 0 2 0 0 0 7 1-5 0 0 0-3 0-3 1 1 0 3 0 1 1 5 61-7 0 1 0 4 0 1 0 0 0 0 0 2 0 1 0 0 0 1 1-2 0 0 0-1 0-2 0-2 0 0 0-1 0-1 0-2 1-3 0 1 0 0 0 1 0 1 0 1 0 0 0 0 0 3 0 2 0 0 0 3 0 1 0 0 0 0 1-3 0-2 0-3 0-2 0-1 0-2 1 2 0 6 0 4 0 1 1 0 0 0 0-1 0 0 0-2 0-2 0 0 0-7 0 0 0-1 1 3 0 2 0 3 0 0 0 0 0 1 0 1 0 1 1 1 0-2 0 0 0 0 0-1 0 0 0-2 0 0 0-2 0-1 0-2 0-1 0 0 0 0 0-2 0 0 1 2 0 1 0 2 0 2 0 0 0 7 1-1 0 0 0-1 0-2 0-1 0-2 0-3 1-3 0 6 0 1 0 2 1 5 0-1 1-5 0 2 1-7 1 8 1-4 1-4 1 6 1-3 1 1 0-3 0-3 1 0 0 1 0 4 0 0 0 1 0 0 0 0 0 1 0 1 0 3 1-1 0-2 0-1 0-4 0 0 0-2 0-1 0 0 1-2 0 1 0 2 0 1 0 1 0 0 0 2 0 1 0 1 0 1 0 1 0 3 0 0 0 0 1 1 0-4 0-1 0-2 0 0 0-1 0-2 0 0 0-1 0-2 0-1 1 0 0 0 0 1 0 2 0 2 0 1 0 2 0 0 0 5 0 1 1-1 0-3 0-2 0-2 0-3 0-1 0-3 1 3 0 4 0 4 1 3 1-10 1 1 1 9 1-5 2-5 0 7 0 3 1 0 0-13 1 0 0 2 1 8 0-9 1 5 0 1 0 0 0 7 1-11 0-1 1 0 0 5 0 0 0 5 0 1 1 0 0-1 0-8 0-2 0-2 1 14 1-8 0 0 0-4 0-1 1 1 0 2 0 5 1-4 0-1 0-4 2 2 1 11 3-6 1-2 0-3 2 9 1-1 1-10 3 10 0-2 1 5 1-2 0-8 0-2 2 8 1 5 0-2 5-8 0 3 1 6 2-10 0 10 1-4 1 5 5-13 1 12 1-2 0-6 1-5 0 1 0 1 1 7 0-6 1 5 0 5 1-5 0-5 1 0 1 7 1-6 1 9 0 0 0-1 0-3 0-2 0 0 0-2 0 0 0-3 1 1 0 5 0 2 0 1 0 0 0 2 1-4 0-2 0-4 0-1 1 3 0 4 0 3 1 2 0 0 0-5 0-4 0-5 1 5 17 9 0-9 32-3 0 3 0 0 0 2 0 0 0 3 0 2 1 1 0 0 0-3 0-2 0-1 0 0 0-1 0-1 0 0 0 0 0-2 1-1 0 1 0 1 0 2 0 1 0 0 0 2 0 2 0 0 0 1 0 1 1-1 0-1 0-3 0-1 0-2 0-1 0 0 0-1 0 0 0-2 0-1 1 0 0 2 0 0 0 2 0 3 0 0 0 0 0 1 0 0 0 4 1 0 0-2 0-1 0 0 0-1 0-1 0-3 0-3 0-1 0 0 1 8 0 2 0 1 0 2 1-1 0-1 0-1 0-1 0-3 0 0 0-2 0-1 0 0 0-1 0-1 1 2 0 0 0 5 0 1 0 1 0 2 1-4 0 0 0-8 0 0 2-1 0 5 0 3 0 1 1 2 0-2 0-5 0-3 1 3 0 3 1 7 0-1 0-3 0-7 2 7 1 2 0 0 0-4 2 2 0 4 1-1 0-2 1-8 0 1 0 0 1 9 0-1 0-6 0-2 1-1 0 8 0 2 1 1 0-2 0 0 0-8 0 0 0-3 1 12 0 1 1-5 0-3 1-2 0 3 0 7 6-1 5-12 6 10 0-2 0-5 1 6 0 1 5 3 0 0 0-13 3 0 1 14 7-6 2 0 6 3 5 2 3-9 6 0 0-1 1 4 9-3 10 7 2 2 0-12 2 1 0 4 0 7 1-4 2 2 5-8 8 2 3-2 1 10 5-12 4 3 1 4 4-1 2 2" fill="none" stroke="none" marker-start="url(#s32)" marker-mid="url(#s32)" marker-end="url(#s32)"/>
<path d="m126 541 112 0 0-1 0-1 0-5 0-4 0-1 0-1 1 0 0 1 0 1 0 0 0 1 0 2 0 0 0 1 0 3 1-6 0-3 1 0 0 7 0 2 1 4 0 0 0-6 0-2 0-3 1-2 0 10 0 1 1-3 0-8 1 8 2 2 0-1 1-6 0 5 0 0 0 3 1-9 1-1 0 3 1 8 1-12 0 7 0 2 1 3 0-5 0-4 0-1 1 0 0 8 1 3 0-6 0-2 1-6 1 1 1 2 1 1 2 0 1 5 0-3 0-3 1-1 0 12 1-12 2 6 1-7 2 6 0 3 4 4 4-6 1 1 1-5 0 2 0 4 1-7 2 0 1 0 0-1 2 9 1-5 1-6 0 2 0 1 1 10 0-2 0-1 1-10 1 14 0-3 1 2 0 1 1-1 0-3 0-3 1 1 0 4 1 1 0-1 0-5 0-1 1 5 0 1 1-2 2-6 1 8 0-6 0-5 0 0 4 12 1-5 0-5 1-3 0 2 1 10 0-5 0-4 1-2 1 12 0-9 0-1 0 0 0-1 1-2 0 1 0 2 0 8 1-8 0-1 0 0 1 8 1 1 0-4 1-2 6 0 2 7 3-2 3-7 2 3 2 7 5-12 3 13 13-5 0 0 1 4 1-1 1-7 1 1 2 7 2-1 1-10 0 0 0 10 0 2 1-13 1 4 0 0 1 3 1-6 5 2 4 4 1 1 0-8 1 13 1-11 4 11 3-8 1-1 1 6 0-3 0-6 6 12 3-2 0-9 2 9 2-7 0 0 0-2 10 4 0 3 1-4 1-6 0 8 0 1 0 0 1 5 0 0 0 0 0-2 0-3 0-6 1 3 0 1 1-2 0 0 1-4 11 7 0 0 0-6 0-1 2 5 1 6 3-4 0 2 0 3 2 0 7 0 6-2 4-10 1 13 1-14 0 10 1 0 1-4 4 2 0-6 2-1 1 5 0-4 1-2 0 12 1 2 0-13 1 3 0 2 0 1 0 0 0 4 0 0 1 0 0-3 0-7 4 6 2-4 1-2 0 11 7 1 4 0 3-12 4 13 1-8 1-5 0 13 2-4 3-2 0 6 158-4 20-8 36 5 7 4 74-5 3 0 1 7 0-1 0-8 1 7 1-1 0-5 0-3 1 3 0 6 2-10 3 7 10-7 1 3 2 4 1-2 7 5 1 2 11-9 4 2 1-5 4 9 2 1 0 0 1-9 1 11 2-7 2-3 9 8 1-11 3 1 0 3 1 5 1-1 5-5 0-2 1 12 1-4 7-9 4 7 1 6 9-12 2 3 1 4 2 5 2-7 2-1 3 9 3-4 1-1 4 4 8-12 11 2 2 6 1 0 2 2 2-4 0 1 0 3 1 0 0 0 0-8 1-1 0 2 0 0 1 4 0-2 0-2 1 2 1 5 0-8 4 3 1-4 3 10 0 2 3-1 4-4 4-7 1 5 1-3 19 6 1 0 1-9 2 11 4 0 1 1 2-3 1 2 9-7 2 9 0-11 2 9 1-4 2-3 1 5 1-9 1 5 1-3 0 9 5-3 1-9 14 14 1-1 2-11 1-1 0 3 0 9 1 1 1-8 1 7 1-13 12 5 1-2 0 1 0 3 1-3 2 4 0 6 2-1 0-1 0-9 1 6 0 0 1 2 0-10 3 2 3 0 0-2 1 0 0 10 1 1 1 1 1-9 2 10 2-9 1 0 1 2 2 3 2-7 2 8 1-11 11 14 2-5 0-7 1-2 0 11 2-4 2-4 2 8 1-1 1 1 3 1 1-6 0-2 1 2 1-4 1-1 1 1 1 1 2 6 3 4 1-3 0-6 0 0 1-3 0 0 0 6 0 6 1-1 1-7 1 2 5-3 6 10 0-1 0-1 0-10 2 3 2 7 0-6 1-4 0 10 1-3 1-1 1 0 2-2 1-4 1 0 0 12 1-1 1 1 1-9 3 1 0 1 1 0 1-4 0 8 1 0 3-9 3 3 2-5 0 8 0 0 1 3 2-7 0 5 1-8 1 3 1 2 1 2 1-5 41 0 0 7 1-1 0-5 1-2 0 4 0 2 0 1 0 0 0 5 1-4 0-8 0 0 1 6 0 0 1-5 1 0 1 8 1 1 2-4 1-1 1 5 0-6 0-2 0-1 1-2 0 0 0 1 0 3 0 1 0 2 0 3 0 1 0 1 1-1 0-1 0-3 0-2 0-1 1 2 0 1 0 1 0 0 1 4 0-2 1-11 3 12 0-8 1 5 1-5 1-2 1 1 1 0 3-2 1 8 0 2 2-7 1-3 0 4 1 5 0-5 0-1 0-4 1 11 1 1 0-5 1-7 1 13 0-13 1 0 0 10 0 3 1 0 0-1 0-3 0-1 0-2 0 0 0-1 0 0 0-1 0-2 0-1 0 0 1 0 0 4 0 5 0 0 0 1 0 3 1-2 0-1 0-7 0-4 1 7 0 1 0 2 1 1 0-3 0-3 0-3 1 0 0 2 0 6 0 4 1-8 0-2 1 4 1 2 0-10 1 0 2 10 0-2 1 4 0 1 1-3 0-2 0-5 1 1 0 9 1-1 0-2 0-9 2 3 0 2 0 1 0 1 1 5 0-1 0 0 0-4 0-7 1 1 0 1 0 0 0 3 0 0 0 3 1-1 0-1 0-1 0 0 0-2 1-3 0 0 0 12 1-6 0-6 1 2 0 11 1-5 1-1 3-2 0-1 0-5 2 6 2-4 2 4 0 1 0 6 0 0 1-1 1-11 0 3 0 7 0 2 27 1 0-1 1-9 0 6 2-5 1-1 12 3 0-4 1 4 2-3 0-4 1 1 0 10 1 1 1-4 3-7 1 7 0 5 1-7 3-1 0 7 1-7 0-1 2-3 0 1 0 2 1 9 1-6 1-3 1-2 0 8 0 2 1 2 0 0 0-4 0-2 0-1 1-4 0 1 0 6 10-7 7 2 2 2 0-2 6-3 1 3 0-3 7 5 0 6 0 0 1-7 1-4 2 9 0-1 0 0 1-10 0 1 1 11 0-6 1-5 0 2 1 10 0-2 0-10 1 4 0 3 3 6 4-11 1 8 1-11 0 1 0 6 0 1 0 2 1 3 0-1 0-10 0-1 1-1 0 2 0 3 0 6 1 3 4-7 0 3 0 3 0 1 1-12 1 11 1 0 0-6 2-1 2 5 1 1 0 0 0 1 1-5 1 5 4 1 1-8 12 0 9 4 5-8 2 7 15 0 3 4 2-5 12-5 2 4 0-3 2-1 2 7 33 3 31-11 29 6 13 0 4-3 0 3 1 4 0-4 0 0 0-3 1-5 0 3 0 0 0 2 0 1 0 3 0 1 0 0 0 1 0 2 1-1 0-9 1-3 0 6 2 5 0-2 0 0 0 0 1 1 0 2 1 0 0-3 0-2 0-6 1 12 1-13 3 4 1 0 1 3 1-1 1-5 0 2 1 5 1-6 0 0 1 9 1-5 1 6 1-5 0 5 0 2 1-8 2-2 2 6 0-5 1-2 1 11 1-13 0 6 1 5 1-7 0 1 0 1 0 2 0 0 0 1 1 4 0-4 0-1 0-2 0 0 0-3 0-2 0-1 0 0 0-1 1 2 0 0 0 1 0 1 0 1 0 7 0 0 1-5 0 0 0-7 1 1 0 0 0 3 0 1 0 3 0 4 0 1 0 1 1-3 0-5 0-1 0-1 0-1 0-2 1 0 0 8 1 2 0 0 0-1 1-10 0 1 0 4 0 0 0 2 0 3 1 3 0-1 0 0 0-3 0 0 0-2 0-3 0 0 0-1 0-1 1 1 0 0 0 0 0 3 0 0 0 0 0 1 0 1 0 1 0 0 0 1 0 1 0 2 0 0 1 0 0 0 0-3 0-1 0-4 0 0 0-1 0-2 0 0 0 0 0-2 0 0 1 0 0 1 0 1 0 3 0 1 0 1 0 2 0 2 0 1 0 0 0 1 1 1 0 0 0-1 0-1 0 0 0 0 0-1 0-1 0-1 0-2 0-2 0-3 0 0 0-1 1 0 0 2 0 3 0 0 0 5 1-2 0-1 0-3 0 0 0-1 2-3 1 9 0-2 0-8 1 4 0 4 0 1 0 0 0 1 0 3 1 1 0-2 0-8 0-3 0 0 0-1 1 1 0 7 0 5 1-10 1-2 4 0 0 0 1 9 1-8 1 1 0 5 0 4 1-12 2 13 1 1 0-10 0-1 0-2 1 7 2-1 1 1 0 2 1 4 2-6 0 5 1 1 0-2 1-11 0 4 1-5 1 3 0 2 0 5 0 4 0 0 1 0 0 0 0-2 0-1 0-1 0-3 0-2 0-2 0-2 1 0 0 2 0 1 0 1 0 5 0 2 1 1 0 0 0-1 0-1 0 0 0-1 0-3 0 0 0-4 0-1 0-1 0 0 0-1 1 0 0 0 0 1 0 0 0 9 0 2 0 1 0 1 0 0 1 0 0-2 0-1 0-1 0 0 0-3 0-1 0-2 0-1 0-2 0 0 1 1 0 2 0 9 1-8 0 0 0-3 3 9 1-7 1 3 1 7 4-14 0 2 0 3 2 7 1-7 0 3 1 5 0-5 1-4 0 0 0 5 0 2 1 3 0-2 0-1 0 0 0-2 0-1 0-1 0-2 1 3 0 2 0 1 0 3 1-4 0 0 0-9 17 13 5-5 2-1 1-1 1 7 1-1 0-5 1-4 2 5 3 5 8-13 4 7 2 1 6-4 2-4 1 9 6 3 7-8 0 5 0 3 2-10 2 7 0 0 1 2 2 1 10-1 0-6 1 0 1 1 1-6 25 4 8 0 24-2 1 3 0 7 1-2 12-7 4 4 1 3 1-4 2-1 1 6 0-4 0-3 20 4 1-1 0-3 1 0 0 3 3 5 0-11 1 8 2 4 2-9 1 9 5-4 1-1 2-3 6 8 1-9 1 9 1-9 1 2 0-3 1 10 4-6 1-6 1 12 0-8 2 3 0 1 0 3 1-3 1 0 1 1 0-6 1 0 0 0 0 1 0 3 0 4 1 0 1-10 0 6 0 0 0 4 4-2 7 1 1-8 1-3 0 1 0 2 0 6 1-5 0 0 0-5 8 4 1 7 9-2 3-8 2 12 7 0 7-8 6 2 9 6 13-2 3 0 1 1 1-6 6 2 16 3 13-3 9-5 12 7 2-7 0 2 0 9 2 0 0-4 0-3 1-5 0 3 0 6 0 3 61 0 0-3 0 0 0-4 0 0 0-3 1-4 0 1 0 0 0 1 0 2 0 1 0 0 0 3 0 2 0 0 0 2 0 1 0 1 1-3 0-1 0 0 0 0 0-2 0-1 0 0 0-1 0 0 0-1 0-1 0-1 0 0 0 0 0-1 0 0 0-1 0 0 0-1 1 1 0 2 0 1 0 1 0 0 0 0 0 1 0 0 0 3 0 4 0 0 1 0 0-1 0-1 0-1 0-3 0-2 0-1 0-3 0-1 1 0 0 3 0 0 0 2 0 0 0 1 0 2 0 0 0 1 0 1 0 2 0 2 0 0 1 0 0-1 0-1 0 0 0 0 0-5 0-3 0-2 1-2 0 2 0 0 0 6 0 0 0 2 0 2 0 0 0 1 1 1 0-2 0-1 0 0 0-3 0 0 0 0 0-1 0 0 0-1 0-1 0-1 0-1 0 0 1 0 0 2 0 1 0 7 0 1 1 0 0 0 0-1 0-1 0-1 0-2 0-5 1 6 0 2 1-3 0-2 0-1 0-5 1 6 1 6 0-6 1-6 0 5 0 6 0 0 1-4 0-1 0-7 1 2 1 8 0-2 0-1 0-7 1 3 0 0 0 5 1 5 0-1 0 0 0-3 0 0 0-1 0-5 0-1 1-1 0 5 0 0 0 3 0 1 0 2 0 0 0 2 0 0 0 0 1-1 0-1 0 0 0-1 0-2 0-1 0-2 0-2 0-1 0 0 0-1 0 0 1-2 0 1 0 0 0 1 0 2 0 3 0 0 0 0 0 1 0 2 0 1 0 3 1 0 0 0 0-2 0-2 0 0 0 0 0-2 0 0 0 0 0 0 0-1 0 0 0 0 0 0 0-5 0 0 0-1 1 1 0 1 0 3 0 1 0 2 0 1 0 3 0 1 1 0 0-6 0-2 0-3 1-3 0 2 0 1 0 6 1 3 0-2 0-4 0-4 0-1 1-1 0 13 0 1 1-10 0-3 2 3 1 8 1 2 1 0 0-9 0-3 2 0 0 5 0 1 1 6 0-5 0-2 0-3 1-3 0 9 0 3 1 1 0-5 0-8 1 3 0 3 0 1 0 6 1 0 0-3 1-7 0 3 1 6 0 0 0-6 1-6 1 7 2-2 0 4 2 1 1-6 1 8 0-1 1-7 1 7 2-3 0 5 2 0 0-1 1-5 7-6 9 12 1-12 0 0 1 6 6 0 0-3 1-4 1 8 0-6 2-2 0 4 0 9 1 0 0-1 0-2 1-3 1-7 1 0 0 4 0 3 0 2 0 1 0 3 1-10 1 2 0 7 49-9 0-1 0 0 0-2 1-1 0 2 0 2 0 0 0 2 0 2 0 0 0 0 0 5 0 1 1-3 0-1 0-4 0 0 0-3 1 1 0 1 0 0 0 5 0 1 0 2 0 0 0 0 0 1 1-1 0 0 0-1 0-2 0-1 0-2 0 0 0-1 0-1 0-1 0-1 0 0 0-1 0-2 1 2 0 2 0 1 0 1 0 2 0 3 0 3 1-1 0-2 0-4 0 0 0 0 0-1 0 0 0-1 0-3 1 1 0 7 0 3 0 1 1-9 1-1 0 2 0 2 0 1 0 1 1 3 0-6 0-1 1-2 0 2 0 4 0 0 0 2 0 1 2-1 2-6 1 7 0-1 0-8 1 5 3 4 0-2 0-1 0-1 0-2 2-1 0 5 1 3 0-2 0-5 0-2 1 1 0 8 1 0 0-4 0-1 0-5 1 6 1 2 0-3 0-9 7 5 6 9 2-4 0 4 7-8 4-4 10 1 12 4 19 4 1-9 0 3 1 7 0-7 1 6 8 1 0-5 1-1 0 0 3-1 20-1 5 6 8-3" fill="none" stroke="none" marker-start="url(#s33)" marker-mid="url(#s33)" marker-end="url(#s33)"/>
<path d="m189 524 49-1 0-1 0-1 0 0 0-1 0 0 0 0 0-2 0-1 0 0 0-1 0 0 0-2 1 2 0 1 0 1 0 1 0 0 0 0 0 1 0 1 0 1 0 3 0 0 1 2 0-2 0-1 0-2 0-5 0-3 1-1 0 3 0 3 0 1 1 1 0-3 0-4 2-1 0 6 1 6 0-3 0-7 0-2 1 12 1-5 0-7 1 3 2 8 0-4 0 0 0-2 0-3 0 0 1 0 0 2 0 2 0 3 0 1 0 3 0 0 1-1 0-1 0-1 0-2 0-3 0-1 0 0 0-1 0-2 0 0 0 0 0-1 1 1 0 0 0 0 0 1 0 2 0 1 0 3 0 0 0 3 1-3 0-2 0-3 0-2 0-1 2 4 1-3 0-1 1 10 1 2 0-3 1-3 1 5 1-2 1 5 0-7 1-5 0 0 0 5 0 3 0 2 1-11 0 0 1 0 0 11 1-4 1 4 1-1 0-8 0-3 1 2 0 3 0 5 1 1 2-9 0 6 1-7 1-1 1 5 1 3 1 4 0-3 1-7 1-2 1 13 1-5 0-5 0-3 1 11 1-1 0-9 1 5 1 1 1-7 0 6 0 0 0 2 0 4 0 1 1 0 0-9 0-2 1 8 1-10 1 3 0 6 1 1 0-3 1-4 0 1 0 0 0 9 1 0 0-10 0-1 1 5 0 4 0 2 3 0 0-5 0-1 1-5 0 1 0 3 0 0 1 2 0 0 0-3 1-4 1 12 0-1 0-1 0-1 0-7 1-3 0 11 0 1 1-5 0-7 0 0 1 8 1 3 0-10 1 2 0 5 0 2 1 3 0-3 0-3 0-2 0-1 1-4 0 1 0 2 0 6 0 4 1-1 0 0 0-3 0 0 0-5 0 0 0-2 0-1 0 0 1 1 0 5 1 6 0-1 0-1 0-2 0-3 0-1 0-4 1 2 0 2 3 7 3-10 5 11 3 0 5-6 2 4 3-8 4 0 6 7 5-6 0 3 9-2 2-5 0 11 0 2 1 1 1-8 0 2 1-1 5-3 4-1 3 5 6 4 0-5 1 0 4 7 5-12 12 7 6-3 2 7 0-7 1-2 0 4 0 3 3-8 13 6 6 5 13-3 7-3 5-3 2 2 0 0 1 5 1 0 1 0 6 1 19 1 4-2 3-10 152 4 2-6 9 6 3-2 39 2 47 5 45 2 1-10 1 5 2 5 17-6 25 6 1 0 2-2 14-10 1 7 9 6 1 0 8-2 0-4 1-3 10 6 4-1 9-7 5 11 2-1 4-7 0 3 23 2 8 2 1-4 16-1 7 6 1-2 7-5 6 4 4-3 0-1 3-1 0 1 2-3 1-4 6 8 4 3 2 2 5-7 3-6 3 7 15 4 4-1 11 0 3-1 2-4 3 4 7 5 1-15 1 15 2-1 1-1 1-3 1-9 1 3 1 9 0-9 1 4 1 2 1-6 2 3 3-4 0 3 6 6 3-4 4-3 1 3 2 5 4-1 7 0 0-7 3-1 0 9 0 0 3 0 2-3 2 0 1-3 0 5 2-4 2 5 2 0 0-8 5 1 1 2 3 4 1-4 2 7 2-13 2 3 0 7 2-11 2 6 1 2 2-8 0 13 1-8 2 8 1-5 1 4 3-7 1-5 0 8 2 3 0-4 0-3 0-3 0 0 3 3 2 7 0-3 5 6 1-15 9 6 9 4 39-8 0 11 1-5 0-2 0-1 0 0 1-2 0 8 0 3 1 0 0-2 0-1 0-1 0-1 0-6 0-2 1 3 0 3 0 2 3 6 0-3 0-3 0-7 1 3 0 0 0 9 2-3 0-9 1 7 0 4 0 1 0 0 1-6 0-4 0-3 0 0 1 0 0 1 0 0 0 1 0 2 0 4 0 0 0 1 0 0 0 1 0 2 1 2 0-2 0 0 0-4 0-2 0-4 0-2 1 1 0 3 0 1 0 5 0 3 1-1 1-3 1 2 0-1 1-3 3 5 1-7 0 3 0 1 0 2 0 1 2-1 0-1 0-8 1 1 0 0 0 3 1 4 0-2 0-1 1 5 1-5 0-3 0-2 1 2 0 4 1-5 0-2 1 2 0 4 0 0 1 7 0-5 0-2 0 0 0 0 0-5 0-1 1 7 0 0 0 2 0 1 0 2 1-3 0-4 1-5 0 3 0 0 0 2 0 3 0 0 0 1 0 3 1-7 0-3 1-3 0 7 0 4 0 1 1 0 0-3 0-1 0-4 0-2 1-2 0 0 0 3 0 0 0 3 0 1 0 3 0 2 0 1 1-1 0-1 0 0 0-1 0-1 0-1 0 0 0-1 0-1 0-2 0-4 1-1 0 2 0 1 0 0 0 1 0 0 0 4 0 1 0 2 0 1 0 1 1-1 0-5 0-3 0-4 1 1 0 13 1-2 0-4 2-6 1 12 0-3 0-2 0-5 0-1 0-2 3 2 0 2 0 0 0 2 0 0 0 1 1 2 0 0 0-9 1 1 0 0 0 2 0 2 0 6 0 0 0 0 1 2 0 0 0-2 0-3 0 0 0-1 0-1 0-2 0 0 1 1 0 1 0 1 0 0 0 2 0 1 0 0 0 1 0 1 0 1 0 0 0 0 0 1 1-2 0-3 0-1 0 0 0 0 0-1 0 0 0-3 0-1 1-2 0 3 0 3 0 2 0 2 0 2 0 0 1-3 0-2 0 0 0-1 0-5 0 0 0-2 1 1 0 3 0 0 0 2 0 0 0 1 0 1 0 0 0 2 0 4 1-6 0-5 0 0 1 8 0 2 2-3 0-1 1-8 0 2 0 7 1-4 1-1 0 4 2-6 2 0 0 3 0 1 0 3 0 2 0 1 1-2 0-9 1-1 0 3 0 2 0 1 1-3 0-2 1 6 0 1 0 0 0 1 0 3 1-1 26-7 1 0 1-1 0 4 1 5 0-4 0-9 1 14 13-1 0-7 0-4 1 4 1 3 1 4 1-11 2 4 9-2 0-1 2-3 0 6 0 2 0 2 3-5 1 7 1-12 1 12 5-4 6 1 4-4 1-4 2-2 1 1 15 0 2 4 0 1 0 4 2 3 1 1 1-1 0-10 3-1 7 8 0-4 0-3 0-2 1 1 0 2 0 5 1 4 0-3 0-1 5-7 2 11 0-8 1 1 0 7 4-1 1-1 4-6 2-1 3 5 4-6 4-1 7 8 2 1 0-5 5 3 7-5 9 4 8 4 26 2 0 1 24-9 28 2 4-4 23 8 8 3 15-9 0 3 0 4 0 2 1 0 0-4 0-2 0-1 0-2 0-3 0-2 1 5 0 0 0 0 0 2 0 0 0 0 0 1 0 1 0 3 0 1 1-4 0-2 0-1 0-4 0-2 1 2 0 0 0 7 1 5 0-2 0-10 2 6 0 2 0 3 2 0 1-11 1 1 0-3 0-1 1 8 1 1 0-1 0-3 0-1 1 2 2 5 0-3 0-2 1 3 1-5 1 1 2 2 2 0 0 5 1-3 0-1 1-3 0 5 0 0 1-5 3 1 1 0 0-3 1 1 1 5 0-4 0-5 1 5 0 3 1 6 0-5 0 0 0 0 0 0 0-1 0-1 0 0 0-2 0 0 0-1 0-3 0 0 1 0 0 2 0 2 0 2 0 1 1 2 0 0 0-2 0 0 0-1 0-4 0-1 0 0 1-1 0 5 0 3 0 0 0 2 1-3 1-3 0 10 1 0 0-11 1 0 0 0 0 1 0 3 1 5 0-9 1-2 0 1 0 1 0 0 0 2 0 1 0 1 0 4 0 0 0 0 0 2 0 0 0 0 0 1 1-1 0-3 0-2 0 0 0-2 1-5 0 1 0 2 0 0 0 0 0 5 0 0 0 0 0 1 0 1 0 0 0 1 0 2 1-5 0-1 0 0 0-4 0-2 1-3 0 1 0 0 0 4 0 2 0 1 0 3 1 2 0-1 0-1 0-2 1 0 1 1 1-7 0 0 0 11 1-14 1 3 0 1 0 2 0 5 0 1 1-6 1 6 1-11 1 3 3 11 0-5 0-4 1 0 0 4 0 5 4-11 3 7 2 3 1-1 3-7 0 0 2 3 1 6 0-13 1 0 0 4 0 0 0 5 0 1 0 1 0 0 1 1 0-3 0-2 1-5 0 0 0 2 0 5 0 2 1 2 0 0 0-1 0 0 0-1 0-2 0-2 0 0 0 0 0-1 0 0 0-3 0-2 0 0 0-1 0-1 1 0 0 0 0 1 0 0 0 2 0 0 0 2 0 2 0 1 0 2 0 3 1 0 0-1 0-1 0 0 0-2 0-1 0-1 0 0 0-3 0-2 0 0 0-2 1 0 0 5 0 1 0 5 0 2 1-5 0-2 0-2 1-4 0 4 0 3 0 5 3-5 0 0 0-3 0-3 4 9 2-5 0-1 0-4 2 6 1 7 0-7 0-1 0-5 1 1 0 7 0 1 0 2 0 2 0 1 2-1 0-5 0-1 0-2 1-4 0 0 0 1 0 7 0 0 1-1 0-2 0-1 0-5 14 8 11 2 3-9 0 3 1-1 1-2 2 9 9 3 25-6 4 4 5-9 3 2 8-4 1 6 1 8 0-12 1-1 35 6 11 6 11-4 1-3 2 0 0-5 17 4 24-3 9 11 3-4 1-7 1-1 3 9 2 0 11 4 5-4 1 1 4-9 1 5 0 6 1-3 0-1 0-8 1 2 1 11 0-4 0-1 1-9 9 3 3 4 0 2 1 1 45-3 11 5 2-2 2-9 5 1 1 11 3-11 25 7 1-4 0 1 18 3 6-3 8 0 2-5 1 0 0-1 61 4 0 1 0 0 0 2 0 0 0 6 1 1 0-1 0 0 0 0 0-2 0-3 0-1 0-2 0 0 0 0 0-2 0-2 0-1 1 0 0 1 0 1 0 5 0 0 0 0 0 2 0 0 0 1 0 2 0 0 0 1 0 1 1-3 0-8 0-2 1 1 0 1 0 1 0 1 0 1 0 6 0 1 0 1 1-3 0 0 0-6 0-2 1 1 0 1 0 7 0 1 0 1 1 0 0-2 0-1 0-6 0-4 1-1 0 3 0 1 0 2 0 1 0 0 0 1 0 1 0 0 0 1 1-9 0 0 1 0 0 4 0 4 0 4 0 1 1-2 0-7 0-1 0-4 1 6 1 7 2-7 0 1 1-4 2-2 0 9 0 3 0 1 1-2 0-1 0-3 0-2 1-2 0 3 0 2 0 3 1 1 0 0 0 0 0-1 0-2 0-4 0-1 0 0 0-4 0-1 0 0 1 0 0 2 0 1 0 0 0 4 0 7 1-3 0-2 0-1 0 0 0-3 0-1 0-1 1 8 0 0 0 1 0 2 1-1 0-3 0-1 0 0 0-1 0-1 0-1 0-5 1 1 0 4 0 7 1-2 0-1 0-4 1-3 1-2 1 2 0 6 2-4 0-2 1-1 0 6 1 2 1 1 1-5 0-6 1 1 0 1 0 5 1 5 0-6 1-6 0 4 0 0 0 2 0 3 1 1 0-2 0-5 0-1 0-2 0 0 1 10 1 3 0-1 0-8 0-2 0-2 1 5 1 7 0-5 0 0 1 4 1-2 1 3 4-3 3-2 4 0 1 0 2 5 6-5 2 2 4 0 3-7 1 9 2-1 1-4 5 0 0 0 1 7 2-5 2-6 0 4 1 2 0-1 0-2 0-1 0-3 1-1 0 4 0 4 0 1 0 4 50 1 0-3 0-2 0-1 0 0 0-1 0-1 0-2 0-2 0 0 1 0 0 4 1 3 0-1 0-3 0-3 1 3 0 1 0 1 0 0 0 3 0 0 1 1 0-6 0-1 0-1 1-2 0 5 0 1 0 4 1 2 0 0 0-3 0-1 0-5 0-1 1-3 0 6 0 1 0 2 0 5 1-1 0-7 0-1 1-5 1 13 0-12 0 0 1 2 0 3 0 0 1 1 0 0 0-4 2 3 1-4 1 6 1 4 0 0 3 0 1-2 1-7 1 9 0-5 0-5 1 1 0 8 1-1 0-4 1-3 0 0 0 4 0 6 0 0 0 1 14-13 1 8 2-4 0-3 4 9 4-10 30 6 8-5 8 10 7 0 5-5 0 2" fill="none" stroke="none" marker-start="url(#s34)" marker-mid="url(#s34)" marker-end="url(#s34)"/>
<path d="m238 499 0 0 0 0 0 1 0 2 0 1 0 1 0 0 0 0 0 0 0 2 0 1 0 0 0 1 0 0 0 1 0 1 0 0 0 0 0 1 0 1 0 0 0 0 0 0 1-1 0-3 0-2 0 0 0-2 0 0 0-1 0 0 0-1 0-1 0 0 0-2 0-1 1 1 0 1 0 2 0 4 0 1 0 0 0 2 0 2 0 0 0 1 0 0 1-1 0-1 0-2 0-5 0-1 1-2 0 4 0 3 0 1 0 4 1-5 0-6 0 0 1-1 0 2 0 4 0 2 0 4 1-6 0-3 1-4 0 3 0 5 1 3 0-1 0-2 0-1 0-5 0-2 0 0 0 0 1 1 0 7 0 4 1 1 0-1 0-5 0-1 0-1 0-2 0-3 1 0 0 2 0 0 0 0 0 3 0 0 0 3 0 1 0 1 1 2 0-1 0-1 0-3 0 0 0-1 0-2 0-1 0 0 0-1 0-1 0-1 0 0 0-1 1 0 0 1 0 0 0 0 0 2 0 0 0 2 0 1 0 1 0 1 0 1 0 0 0 0 0 1 0 0 0 0 0 1 0 1 1 1 0 0 0-2 0 0 0 0 0 0 0-2 0-2 0-1 0-2 0 0 0-1 1-2 0 1 0 0 0 1 0 1 0 0 0 3 0 0 1 3 0-4 0-1 0-1 1 1 0 3 1 1 0-3 0-3 1-3 0 7 0 6 1-4 0-8 3 6 0 3 1 3 0-1 0-4 0-3 1 3 0 5 1-8 1 9 1-6 0-3 1-1 1 2 0-5 2 6 1 4 0-6 0-1 1 3 0 6 1-8 0-3 3 9 1-2 0-1 0-3 0 0 0-1 2 4 0 4 1 2 0-11 2 1 0 0 0 1 0 3 0 3 1-9 0-1 1 4 0 6 1-1 0-5 1 2 0 4 0 0 1-2 0-6 0-1 0-1 0 0 1 4 0 2 0 3 1 1 1-7 0 0 0 1 0 4 0 3 0 1 1-5 0 0 0-6 1-1 0 3 0 2 0 3 0 2 0 1 1 1 0-6 0-2 0-1 0-3 1 0 0 3 0 1 0 3 1-3 0-3 1 0 0 2 0 2 0 1 0 6 2 1 0-1 1 0 1 0 0-7 0-6 2 3 0 1 0 4 0 1 1 3 0-7 1-5 0 0 0 1 0 3 0 0 0 4 0 4 0 1 1-5 0-3 0-1 0 0 0-3 1 0 0 0 0 1 0 0 0 8 1 4 0-2 0 0 0-2 0-1 0 0 0-3 0 0 0 0 0-2 0-3 0-1 0 0 1 4 0 2 0 0 0 4 0 0 0 3 1-4 0-3 0-1 0-2 0 0 0 0 0-1 1-2 0 1 0 1 0 0 0 0 0 1 0 7 0 4 1 0 0-3 0-1 0-3 0-2 0-3 0-2 0 0 1 7 10-1 10 1 29 7 12-9 13 9 0-1 1-6 4 1 15-6 4 10 0-2 0 0 1-1 7-3 6 8 23 0 0-4 4 1 1-5 8 6 4-9 1 9 24 1 4-7 1 6 1-2 2 4 0-3 120 1 38-9 1 2 0 2 1 7 5-3 4 3 4-9 0 9 6-10 1 8 4-6 3 7 2 0 112-11 0 12 1-5 8-3 21 8 21 0 12-12 7 11 1-4 5-9 4 5 34 0 4 8 25-5 1 0 2-7 0 11 1-9 7 3 4 2 12 2 11 4 2-2 7 2 2-3 19 0 15 3 20-3 11 0 2 0 2-3 1-7 2 7 1-1 0-4 1 4 1-6 1 1 1 7 0-1 0-3 1 2 1 3 0-2 0-1 2 6 2 1 3 0 1-2 2-4 1 6 3-8 1-6 4 12 1-6 1-3 1 4 14-1 2 8 2-1 10 1 1-4 4 4 3-2 1-3 1-4 1 8 8-9 2 6 2-3 0 3 0 2 2-8 1 3 3-2 2-1 5 7 1-5 0 2 2-4 2 9 5-9 2 10 3-7 0-5 4 1 2 3 3 2 1 1 5 4 36-2 0-2 1-6 0 4 0 2 0 3 1-5 0 0 1-6 0 5 0 1 0 0 0 1 0 1 0 0 0 5 1 0 0-1 0 0 0-5 0-3 0 0 0-1 0-3 0-1 1 1 0 11 0 1 1-1 1-9 0 8 0 1 2-11 1 5 1 7 0-9 1-1 0 2 0 5 1 4 0-8 1 4 1 2 0-8 4 3 0 4 1 3 1-8 0 5 1-1 0-6 1-1 0 8 2 0 0-2 1-5 2 4 3-3 1 3 0-3 1 1 0 1 0 0 1 7 0-3 0-3 0-2 0 0 0-1 0-2 1-2 0 2 0 6 0 1 1 1 0-10 1 1 0 6 1 1 0-4 1-5 0 1 0 2 0 1 0 1 0 1 0 1 0 4 1-2 0-4 0-1 1-2 0 1 0 2 0 0 0 1 0 0 0 2 0 4 0 1 1 0 0-9 0 0 0-1 0-2 1-1 0 2 0 3 0 3 0 2 0 1 0 0 0 2 1-3 0-1 0-7 1 2 0 6 0 4 0 0 1-2 0-2 0-5 1-3 0 2 1 4 1-2 2 7 0-2 0-4 0-5 1-1 0 3 0 2 0 4 0 3 0 1 1-1 0-3 0-1 1-8 0 11 1 1 0 0 0-4 0-3 0-2 0-1 0 0 0-1 0-1 1-1 0 2 0 4 0 4 0 1 1 3 0-3 0-2 0-1 0-1 0-1 0-2 1-1 0 1 0 1 0 3 0 1 0 2 0 0 0 0 0 1 0 1 1-2 0-1 0-1 0-1 0 0 0 0 0-3 0-3 1 9 1 3 0-3 0-7 0-1 1 4 0 2 0 3 1-5 0-1 1-4 0 2 0 6 0 0 3 0 0-4 0-5 1 0 0 6 1 0 0-1 1-4 0 5 0 7 1-4 0-5 0-4 1 2 0 7 0 1 1-3 0-3 0-3 0 0 0-1 0 0 1 3 1 8 0-5 0-2 0-5 27 5 0 7 1 0 2-8 0 2 0 7 15-10 4 6 3 3 4-11 3 6 0-1 2 8 2-7 2 6 22 0 6-3 1-1 7 1 2 1 0-3 1 0 1 2 1-7 0 2 0 1 0 1 12 4 0-1 4-3 6 6 3-9 4 6 0-9 21 12 16-5 5 3 5-7 9 10 10-13 12-1 0 11 20-4 34 0 49-3 1-3 0 3 0 3 0 1 0 1 0 1 0 2 0 1 1 1 0-2 0-9 1-3 0 4 0 3 0 2 1-1 0-3 0-2 1-2 1 9 0-3 1 0 0 3 1-9 1 9 1-1 2 1 3 1 0-1 0-6 1 2 0 4 1 3 0-2 0-8 1 7 2-5 0-2 0-2 2 11 1 1 0-9 3 2 0 8 1-4 0-6 2 5 2 2 0-3 0-5 1-2 0 4 1 9 0-1 0-3 0-4 1-3 0 6 0 1 0 2 0 0 1 0 0 0 0-5 1-1 0 3 1-6 0-1 1 5 0 3 0 1 1 0 0-5 1 5 1-3 0-1 0-2 0-2 0-3 0 0 1 2 0 3 0 0 0 2 0 2 0 0 0 5 0 0 1 0 0-1 0-1 0-2 0-3 0 0 0-6 1 0 0 1 0 2 0 1 0 3 1 6 0-2 0-2 0 0 0-1 0-4 0 0 0-1 0-3 1 13 1-7 0-3 4-4 1 9 0-1 0-6 1 8 1 3 1-1 0 0 1-9 1 8 1-2 1-9 2 3 2 2 0 2 2 2 2 4 3-13 1 13 4-2 0-1 0-4 1 0 0 3 0 4 2-3 0-6 0-1 0 0 1 1 0 2 0 0 0 1 0 5 0 1 0 0 1 0 0 0 0-3 0-1 0-1 0-1 0 0 0-1 0 0 0-1 0 0 0 0 0-1 0 0 0 0 0 0 0-1 0 0 1-2 0 1 0 1 0 0 0 0 0 1 0 3 0 0 0 1 0 0 0 1 0 3 0 0 0 0 0 0 0 1 1 1 0-2 0 0 0-6 1-2 0 7 0 2 1-11 1-2 0 2 0 7 0 1 2-4 1 5 3-6 1-2 3 8 0-4 1-4 0 10 0 0 1 0 0-8 1 1 1 7 0-4 0-1 1-8 0 2 0 2 0 1 0 1 0 2 0 2 0 1 0 0 0 2 1 1 0-2 0 0 0-5 0 0 0-3 0-1 0 0 1 3 0 4 28-1 0 0 11 0 10 5 2-9 1 0 15 4 2 0 4 2 1-5 13 8 1-3 56 3 26-10 17 5 22 5 0-7 26-2 4 9 8-4 1-7 35-2 6 5 1 3 4 4 6-6 68 0 4-4 5 11 1-9 61 8 0-5 0-7 1 4 0 1 0 0 0 3 0 1 0 1 0 1 0 1 1 1 0-1 0 0 0-1 0-1 0 0 0-4 0-4 0-2 0-1 1 8 0 0 0 6 1-3 0 0 0-1 1-7 0 8 0 2 1 1 0-2 0-4 0 0 1-4 0 4 0 1 1 5 0-2 0-1 0-5 0-6 2 3 0 7 0 2 0 2 2-1 1-9 1-3 1 7 1 3 0-5 2-3 0 8 1 3 0 0 0-2 0-7 0-2 0 0 0-2 1 1 0 4 0 1 0 1 0 2 0 1 0 3 0 0 1 0 0-8 0-4 1-2 0 3 0 4 0 3 1 0 0-5 0-2 1 5 0 0 0 3 0 0 0 3 1-4 0-1 1-7 3-1 2 0 0 6 1-1 2 0 1-3 1 0 0 10 1-2 0-1 0-4 1-2 0 1 0 4 1 2 0-9 0-1 0-1 1 3 0 7 1-4 0-4 1-2 0 3 0 1 1 9 1-3 1-1 2 1 2 4 17-6 2 2 4-8 6 6 0-6 1 1 2 8 4-2 0 3 1-3 1 3 2 1 0-6 1-3 0 5 0 1 0 1 1-9 0-1 1 0 1 13 49-14 0 1 0 2 0 3 1 8 0-3 0-1 0-3 1-1 0 8 1 0 0-3 0-4 0-2 2 7 2-10 4 10 1-1 0-10 1 10 3-3 4 6 3-2 0 0 0-3 1-9 0 11 0 0 0 2 1-9 1 6 1 2 0-2 7-7 7 10 9-11 21 1 4-3 32 14 1-3" fill="none" stroke="none" marker-start="url(#s35)" marker-mid="url(#s35)" marker-end="url(#s35)"/>
<path d="m238 483 0 1 0 0 0 0 0 1 0 3 0 0 0 2 0 0 0 1 0 2 0 1 0 0 0 0 0 1 0 2 0 0 0 0 0 0 0 1 1-1 0-1 0-1 0-1 0-1 0 0 0-3 0-1 0-1 0-2 0 0 0-2 1 1 0 1 0 0 0 1 0 0 0 1 0 0 0 1 0 0 0 4 0 0 0 1 1 4 0-1 0-1 0-1 0-3 0-5 0 0 0-2 0-1 1 2 0 1 0 9 0 0 1 1 0 0 0-6 0-1 0-2 0 0 0-2 0 0 0-1 1 2 0 3 0 1 0 0 1 6 1-5 1-2 1 3 0 0 0 1 0 2 1 1 0-1 0-4 0 0 0-2 1-6 0 0 0 5 0 2 0 2 0 4 1 1 0-2 0 0 0-1 0-2 0-1 0-1 0 0 0-2 0-1 0 0 0-4 0-1 1 1 0 2 0 0 0 0 0 1 0 1 0 4 0 2 0 1 0 0 0 0 0 0 0 0 0 1 0 0 0 0 0 1 1-1 0 0 0-1 0-1 0-1 0-2 0-1 0 0 0-2 0-4 1 1 0 3 0 5 0 1 0 1 0 1 0 2 1-2 0-3 0-5 1-4 0 5 2 8 0-4 0-8 2 0 1 2 2-1 0 5 0 0 1 6 0-6 0-2 0-2 1 2 0 3 0 1 1 4 0-2 0-5 1-3 1 1 1 1 1 2 0-8 3 3 0 7 0 4 1-3 0-10 1 6 0 1 1 5 0-1 1-8 1 9 1-4 1 4 0-4 0 0 1 2 1-2 1-9 0 6 0 5 0 1 1 2 0-4 1-4 0 5 1-5 1-1 0 5 1 0 0-7 0-3 1 11 0 3 1-1 0-7 0-1 0-2 0 0 1 1 0 2 0 7 1-9 0-2 1 1 0 2 0 8 1-1 0-5 0 0 0-6 1 0 0 2 0 0 0 2 0 4 0 2 0 1 0 1 1-3 0-2 0-2 0-2 1-2 0 6 1 2 0-1 0-5 1-3 0 2 0 4 0 2 1 2 1-8 0 1 0 10 1-5 0-1 0-5 1 1 0 8 0 1 1-5 0-2 1 4 0 2 0 2 1 0 0 0 0-5 0-7 1 1 0 0 0 5 1 6 0 0 0-8 0-4 0 0 1-1 0 1 0 0 0 2 0 2 0 0 0 1 0 2 0 1 0 0 0 2 0 1 0 0 1 2 0-2 0-2 0-1 0 0 0 0 0-2 0-1 0-3 0-1 0 0 0-2 0 0 1 0 0 5 0 3 0 0 0 1 0 0 0 1 0 1 0 1 0 2 1 0 0-1 0-2 0-4 0-2 0-2 0 0 0-1 0 0 1 8 5-1 63 2 8-3 21-1 1 5 0-11 12 10 28-9 16 10 27-2 5 3 151-1 1-10 1 5 1-6 0 10 3-9 0-2 1 10 2-8 3-2 0 5 0 1 0 4 1 4 0-7 0-4 0-2 3 13 1-12 7-1 6-1 1 8 23-7 2 4 0 5 1-1 39-4 50 6 1 1 0 2 1-1 1 0 44 1 31-14 39 0 32 4 8 9 19-3 19-10 0 0 22 7 32-2 21 0 1 6 1 1 1-4 1-6 7 2 3-3 5 9 12-5 1 0 1-1 0 8 5-1 11-5 2 1 8 3 3-4 3-5 13 12 0-14 13 6 13 6 6-7 0 6 6 0 42-4 0 0 1 7 0-2 0 0 0-3 0-1 0-7 1 7 0 1 0 3 0 2 1-1 0-2 0-4 1-4 0 9 0 3 1-4 2-9 0 2 0 9 1-6 4-6 0 3 0 0 1 6 1-5 0 5 1 3 0-3 0-9 2 2 0 1 3 9 0-5 2 3 1 0 2-8 0 6 0 5 1-1 0-9 1 1 2 2 2 5 1-11 1 1 0 0 0 3 0 2 0 1 0 3 0 1 1-1 0-6 1-4 0 3 1 7 0-2 0-1 0-6 1 2 0 5 0 2 0 0 0 1 1-3 0-1 1-6 0 1 0 1 0 6 0 1 0 0 0 0 0 2 0 1 1-1 0-1 0-2 0-1 0-3 0-1 0-2 1-2 0 1 0 4 0 0 0 2 0 0 0 1 0 4 0 1 1 0 0-1 0 0 0-1 0-1 0-2 0-1 0-7 1 0 0 2 0 3 0 5 0 0 0 2 1 1 0-12 1 9 0 2 2 2 0-2 1-4 0 2 0 4 1-6 0-5 0-1 1 0 0 10 1 1 0-2 1-11 0 1 0 1 0 1 0 3 0 1 0 4 1-5 0-6 1 2 0 0 0 6 0 6 1-2 0-4 0-5 0-2 1-1 0 0 0 2 0 2 0 1 0 0 0 6 0 1 1 2 0-4 0-1 1-1 0 0 0 4 0 1 0 0 1-6 0-6 1 6 3-7 4 9 1 4 0-1 1-12 0 2 0 11 1-1 0-2 0-8 1 4 1 3 0-6 1 2 0 2 27 0 2-1 2-6 14 14 12-4 2-4 0 7 1-9 1 7 18 2 13-7 1 7 7-6 4-7 1 8 0 1 5 3 1-8 2-3 3 10 6 0 4-2 46 2 37-8 90 1 13-4 4 13 0-8 0-2 1-1 0 5 0 7 1-3 0-2 0-2 1-3 1-4 1 8 0 5 4-2 0-1 0-3 1 0 0 2 1 0 1 0 4 0 0 0 3-7 0 1 0 9 2-9 10 3 0 2 1 1 1-5 0 0 0 4 0 3 1-4 0-3 1 1 0 2 1 2 0-4 1 7 1-3 0 0 0-2 1-2 0 0 0 6 0 2 1-4 0-1 0-1 1-3 0 1 0 3 0 4 1-2 0-5 0-1 0-1 1-3 0 12 0 2 1-3 0-1 0 0 0-4 1 4 0 0 1-1 0-3 0-6 1 11 0 1 2-2 1 3 1-9 3-2 0 3 1-4 2 5 2-5 1 0 0 8 0 1 1-3 4 3 2 1 0-7 3 6 6 3 0-11 1 7 0 3 1-2 0 0 0 0 0-3 0-4 0-1 0 0 1 1 0 0 0 2 0 0 0 8 0 1 1-1 0-1 0-6 0-1 0-1 1-3 0 0 0 3 0 6 0 0 0 1 0 0 0 2 1-2 0-2 0-2 0-2 0-4 1 7 0 5 0 1 1-12 3-2 0 2 0 6 2 0 2 5 3-1 1-10 0 1 0 2 1 1 0 0 0-1 2-3 0 8 1 0 0-7 1-2 0 5 1 7 1-2 86-7 60 2 43 3 51 4 5-13 3 13 71-12 58 13 62-3 1-8 0 1 0 2 0 2 1 4 1-12 1 13 0-7 4-5 0 1 0 2 2 3 3 4 1 1 1-9 2-2 1 11 3 2 2-10 1 5 1 3 1-1 1 1 1 2 0-7 1-3 1 0 1 8 1-6 0-3 1 4 0 6 2-8 2 8 4-6 2-2 6 9 0-10 3-4 7 6 5 7 19-13 5 6 1 5 0-1 1 2 53-1 2-4 0 1 1-4 1 6 0 3 2-10 3 1 7 6 6-8 1 8 0-6 1 2 1-4 1 4 13 6 66-5 3 2 0 0" fill="none" stroke="none" marker-start="url(#s36)" marker-mid="url(#s36)" marker-end="url(#s36)"/>
<path d="m238 469 0 0 0 1 0 1 0 5 0 1 0 1 0 0 0 1 0 1 0 1 0 1 0 0 0 1 1 0 0-2 0-2 0-1 0-1 0 0 0-1 0-1 0-2 0-1 1-2 0 0 0 4 0 1 0 3 0 0 1 2 0-2 0-5 0-1 0-1 0 0 1 0 0 0 0 0 0 6 0 0 0 2 1 4 0-1 0-2 0-1 0-4 0-5 1 4 0 1 0 0 0 3 1-9 1 3 0 7 3-1 0-7 0-1 1 1 0 0 0 2 0 1 0 7 0 1 0 1 1 0 0-1 0-1 0-2 0-1 0-3 0 0 0-3 1-2 0 1 0 0 0 0 0 3 0 1 0 0 0 2 0 2 0 1 1 2 0-2 0-1 0-6 1 9 1-5 0-6 1-1 0 9 2 0 2-5 0 2 0 6 1-3 0-6 0 0 1-1 1 7 0-5 1-4 0 2 0 2 0 8 2-1 0-1 1-3 0 6 1-7 1 4 2-2 2-4 1 0 1 5 0 3 1 1 0-7 1-5 1 0 1 9 1-8 1-1 0 3 1 5 0-9 1 0 0 6 0 3 0 4 1-10 1 1 1 3 1 0 0 3 1-2 0-7 0-2 1 5 0 2 0 2 0 2 1 3 0-2 0-1 0 0 0-6 1-4 0 0 0 4 1 8 0-2 0-1 1 3 1 0 0-4 0 0 1-9 0 2 0 6 1 1 0-4 0-1 1 3 0 7 1-3 0-2 0-9 1 6 0 5 1-1 0-4 0-5 2-1 0 4 1 7 0-9 1 12 1 0 0-1 0-11 1-1 0 1 1 9 0-4 0-3 1 0 0 0 0 5 0 5 0 0 1-2 0-1 0-1 0-2 0-1 0-1 0-1 0-1 0-3 1 1 0 0 0 3 0 1 0 1 0 0 0 1 0 1 0 0 0 0 0 1 0 0 0 0 0 1 0 2 1 0 0-1 0 0 0-4 0-1 0-3 0-2 0-2 1 1 0 1 0 0 0 3 0 1 0 1 0 2 0 4 1 0 0-1 0-2 0-2 0-5 0 0 48 6 2-2 2 1 1-3 12 7 32 0 3-6 32 5 54 0 151 0 1-2 0 1 1-3 1-7 0 4 1 1 0 0 0 0 1-5 0 4 0 5 0 2 1 1 0-10 1 4 0 3 1 1 1 4 1-3 0-3 0 0 0-2 0-3 1 0 0 2 1 5 0-1 0 0 0-1 0-4 0-3 0-1 0 0 1 5 0 0 0 0 0 3 0 6 1-1 0-1 0-2 0-1 1-3 0 3 0 0 2-6 5 2 2-2 0-1 1 11 1-7 1 1 4-7 3 8 1 0 3 3 1 1 0-9 1-1 12 5 3 3 1 0 0-7 0-1 88 9 4-7 41 9 11-1 25-2 31 0 40 3 24-3 83 2 7-9 6 3 1-4 1 4 1 3 0-1 3 6 6-9 6 9 22-1 2-7 11 7 0-7 3 7 4 1 4 0 12-11 14 6 3 1 22 0 4-5 38 3 0 6 1-5 0-3 0-5 1 1 0 2 0 3 0 2 0 4 0 1 1 0 0 0 0-3 0-3 1 4 1 2 4-2 1-9 3 0 0 11 3-1 0-4 4 5 1-8 1 2 1-4 1 2 5 8 1-6 1-8 1 9 3 4 0-6 1 5 0 2 1 0 0-12 1 0 0 7 1 0 0-4 1-1 0 5 0 0 0 1 1 4 0-4 0-1 0-3 0-3 0-1 0 0 0 0 1-1 0 2 0 0 0 4 0 2 0 4 1-4 0-2 0-3 0-1 0-2 1 5 2 2 3-5 0 4 1 7 0-5 1 0 1 1 0-3 1-7 0 2 0 1 0 6 0 0 0 1 0 4 0 0 2-14 1 3 0 6 0 2 1 3 0-6 0-3 1-2 0 11 1-10 2 5 0 5 2-14 2 5 2 9 2-8 0 0 0 7 2-7 1-1 0 9 1-4 0-1 1 1 1-5 28 0 1 3 1 4 23 0 6-3 4-3 31-4 12-2 10 14 3-6 13 4 28 0 15-10 140 12 1-12 2 9 0-3 1 3 7-10 5-1 2 9 1-4 1 4 0-1 1 6 2-2 1-3 8 5 0-6 1-3 0 5 1 3 1-1 0 2 2-7 1 6 2-2 0-4 0-5 2 4 0 1 0 3 0 4 2-7 1 2 0 5 2-4 2 3 1-2 1-2 2-7 1 7 1-3 7-4 2 12 0-12 4 3 0 3 2 5 0-1 0-4 1 0 0 5 0 1 1 0 3 0 1-4 0-1 1-8 1 8 1-4 1 9 0-1 0-3 0-1 0-2 0-4 1 10 0 1 1 0 0-4 1-7 2 5 2 4 1 0 1-2 2-1 2-7 1 12 0-1 1-10 0 4 0 1 0 3 0 1 0 1 1-1 0-12 1 10 3 4 0-5 0-1 0 0 1-4 0 0 0 1 1 9 0-12 148 3 51 3 44 4 4 1 67 0 1-2 8 0 116 2 1 0 1-2 0-3 0-3 0-2 1-1 0 12 1-1 0-1 1-6 0 2 0 1 12-4 3-1 4 10 1-2 9-8 2 5 6 5 6-12 17 0 15 5 9 0 1-1 1 8 0-10 1 10 50-3 2 0 22 0 0-10 3 11" fill="none" stroke="none" marker-start="url(#s37)" marker-mid="url(#s37)" marker-end="url(#s37)"/>
<path d="m238 455 0 0 0 5 0 0 0 6 1 2 0-1 0-1 0 0 0-5 0 0 0-1 0-1 0-4 1 3 0 3 0 2 0 1 0 0 0 4 1-4 0-1 0 0 0-3 0 0 0-1 0-1 0-1 0-2 1 0 0 6 0 6 1-1 0-3 0-2 0-1 1-1 0 6 1 2 0-5 0 0 1 6 2-5 0-4 0-1 1-1 0 9 1 2 0-6 0-1 1-5 0 8 0 2 0 1 0 1 1 0 0-1 0-1 0-1 0-2 0-4 0-3 1 1 0 0 0 1 0 4 0 4 0 0 0 2 0 0 1 0 0-1 0-2 0 0 0-1 1 4 2-11 3 11 2-8 1 4 2 3 1-7 2 6 0-7 3 8 0 1 1-13 1 5 0 7 1 0 1-7 0 9 1-3 3-3 2 4 1-4 1 5 1-13 0 14 2-12 1 6 1 6 1-9 0 5 0 3 1-5 1-8 0 2 0 1 1 6 0-3 0-3 1 4 0 3 0 1 1 3 0-3 1-7 0 1 0 1 0 5 0 2 0 0 0 0 1-1 1-10 0 5 0 1 1 6 0-1 0-1 0-1 1-9 0 11 0 1 1-4 0-3 1 4 2 2 0-11 1-1 0 3 0 5 2 0 1-9 1 12 0-5 0-2 0-4 1 3 0 3 0 6 1 1 0 0 0-2 0 0 0-2 0-3 0-1 0 0 0 0 0 0 0 0 0-2 1-4 0 2 0 4 0 0 0 1 0 4 0 1 0 2 1-3 0-5 0-1 1-4 0 4 0 1 0 2 20-3 24 3 55 6 83-6 155 5 1-10 0 8 2-1 0-4 0 0 0-1 0 0 0-1 1-3 0 6 0 0 0 1 0 2 0 0 0 1 1 1 0-5 0 0 0-1 0-2 0-1 1-3 0 6 0 5 0 1 0 2 3-6 0-6 0-1 1-1 0 1 0 2 0 3 1 5 0 0 0-6 0 0 0 0 0-2 0-1 0 0 0-1 1-2 0 1 0 1 0 1 0 1 0 1 0 2 0 0 0 0 0 0 0 1 0 2 0 3 0 1 0 0 0 1 1-4 0-3 0-2 0-2 0-2 0 0 0-1 1 0 0 2 0 1 0 2 0 1 0 2 0 3 1-2 1 3 1-5 1-1 3-1 1 7 1-5 0-8 1 1 0 1 0 1 0 2 0 5 1 2 0-6 0-3 1-1 1 10 3-11 2 8 2 4 2-5 0-4 1 3 1-6 0 0 1 12 16-4 1 4 39-10 312 5 8 5 1-6 1-1 1 3 10 2 67 1 22-6 57 0 0 8 1 0 0 0 0-2 0-8 0-2 1 2 0 6 1 2 1-6 1 2 0-3 3-2 0 8 1 4 2-3 1 1 2-7 2 6 0-6 1 3 6-2 4 6 4-5 3 0 2 6 1-7 1 1 0-6 2 9 0 2 0 1 0 1 1-5 1-5 0 10 1-10 1 3 5 3 0-3 1-7 0 7 1 3 1-9 0 8 0 2 1-2 0-2 2-5 1 5 1 7 6-3 6-8 1 10 2-9 0 3 1 3 0 0 0-5 1 8 28-3 1 3 0 1 14-6 61 5 151 0 46-7 15 0 1 1 0 6 2-9 2 4 2 2 0-2 3 0 1 4 0-2 0-3 3 7 1-12 2 6 0 1 1 4 4-12 1 11 0-2 0-2 14-4 6 7 5 2 25-4 1-6 2 9 2-10 0 5 0 5 1 0 0-4 0-1 0-7 1 2 0 0 0 5 0 5 0 2 8-1 0-8 4 6 3-5 1 0 2 4 0-3 2-5 0 9 0 2 1-12 32 10 320 1 93-9 1-2 15 11 11-8 7 5 3 3 6 2 8-9 2 5 6-10 18 9 8-6 56 7 17 4 1-12 0 12 86-8" fill="none" stroke="none" marker-start="url(#s38)" marker-mid="url(#s38)" marker-end="url(#s38)"/>
<path d="m216 441 22 11 0-2 0-6 1-3 0 3 0 5 0 0 0 1 0 1 1 3 0 0 0-5 1-1 0 4 1 2 0-3 0-1 1-5 1 0 0-3 1-2 3 3 1 10 1 0 0-4 0-6 0-2 1 8 0 4 1 1 0-3 0-10 1 3 1 7 1 2 1-6 1 0 3 6 4-8 3-3 3 11 2-8 2 6 3-8 8 11 5-3 1-7 1 8 0-2 0 0 2-6 0 1 0 2 1 5 1-6 0 1 0 0 0 1 1-2 1 4 3 3 0-1 0-1 2-2 5 4 0-6 0-4 1-2 0 2 0 1 0 6 0 4 1-5 0-1 0-1 0-4 1 1 0 4 0 2 0 3 1 1 0 0 0-2 0-5 0-6 1 8 0 5 152 0 32 0 146-5 7-5 1-4 1 12 1-1 0-2 0-4 1 4 0 0 0 0 0 1 1 3 0 0 0 0 0-1 0-4 0-1 0 0 0-2 0-1 1 0 0 6 1 0 0-3 0-5 1 0 1 3 0-3 0-1 1-1 0 5 1 9 0-1 0-3 0-1 0-3 1-4 0 0 0 1 0 1 0 1 0 1 0 0 0 0 0 0 0 1 0 1 0 2 0 0 0 2 0 0 0 1 0 1 1 0 0-6 0-2 0-2 0 0 0-1 0 0 0-1 0 0 0 0 0-1 1-1 0 2 0 1 0 2 0 1 0 1 0 4 0 1 0 1 1-2 0-3 0-1 0-6 1 3 1 8 0-1 0-2 0-4 1 3 0 4 1 0 2-1 1-2 0-6 1 0 2 7 0-3 0 0 0-3 1 1 0 1 0 5 1 3 0-2 0-4 0 0 0-8 1 0 0 2 0 0 0 4 0 6 1 1 0 0 0-1 1-8 1 1 1 0 0 1 1-6 1 0 1 3 0-3 1 5 0 2 0 1 0 1 2-5 1 2 12-2 2 8 1-1 1 2 132-9 28 10 113-7 99-1 50 3 18-5 31 0 40 6 1-7 0-1 6-1 2 9 1 0 2 3 5 1 1-12 13-1 9 8 9-8 0 13 2-1 5-1 3-11 1 10 1-3 7-8 2 4 10 1 0 7 62-4 39-1 4 2 212-3 1-2 1 0 1 3 0 0 2-6 0 4 6 0 3 9 24-2 7-3 5 2 14-2 10-4 5 6 2 0 0-5 1 3 11 1 2-2 1 5 1-10 2 10 2 0 0 1 1-2 441-5 4-2 62-4 97 8 0-7" fill="none" stroke="none" marker-start="url(#s39)" marker-mid="url(#s39)" marker-end="url(#s39)"/>
<path d="m238 429 0 2 0 6 1 1 0-4 1 1 0 2 1-4 1-3 0 4 0 6 1-5 1 4 4-5 1 2 2-2 0-2 1-3 1 9 0-2 1-1 6 0 5 1 2-1 0-7 1-1 7 10 1-4 0 3 1 1 1-7 0 7 3-6 1 6 4-3 1-2 1 5 4-3 3-6 1 10 4-9 7 5 1 6 1-8 0 1 1 4 0-1 1-5 0 7 1 1 0 0 1 0 337-1 1-5 0 0 1 6 0-3 0-2 0-4 1 2 0 3 0 2 1 1 0-3 0-3 0-2 0-3 1-1 0 4 0 0 0 2 0 0 0 3 0 0 0 5 1-4 0 0 0-1 0-5 1-1 0 1 0 3 1 6 0-9 0-1 0 0 1 9 1 1 0-1 0-2 0-4 0-1 1-2 0 1 0 1 0 1 0 2 0 1 0 1 0 1 0 1 0 2 1-1 0-1 0 0 0-2 0 0 0-4 0-1 0-2 0-2 0 0 1 1 0 2 0 1 0 0 0 1 0 1 0 2 0 1 0 0 0 4 1 0 0-3 0-3 0-1 0-4 0-2 1-1 0 1 0 3 0 2 0 1 0 2 1-9 2 0 0 2 0 2 0 8 2-2 0-1 0-8 1 6 0 0 0 2 1 2 0-7 2 7 1 1 0-1 0-7 0-3 0 0 0-1 1 0 0 2 0 0 0 1 0 1 0 2 0 6 0 0 1 2 0-2 0-1 0-2 0-3 0 0 0-1 0-1 1-2 0 6 0 0 0 0 0 1 1 1 1-10 0 6 1 3 1 1 0 1 3-5 3-6 0 11 13-11 1 3 1 5 128-4 312 2 21 5 52-3 0-5 1 0 0 4 0 3 0 2 1-10 1-2 0 0 0 3 0 2 45-3 0-1 1 10 10-2 0-6 3 7 9-9 7 10 1 2 169-9 132 1 52-2 42 1 5-3 461 1 165 12 1-1" fill="none" stroke="none" marker-start="url(#s40)" marker-mid="url(#s40)" marker-end="url(#s40)"/>
<path d="m240 414 12 2 24 3 2 1 4 5 8-7 18 5 2-1 3-5 0 4 337-4 2-3 0 2 1 7 0-12 1 9 0 1 0 0 0 2 0 1 0 0 1-5 0-2 0-3 0-1 1-2 0 3 0 6 0 1 0 0 0 0 1 4 0-3 0-2 0-1 0-5 1 9 1 1 0-2 0-2 0-2 2 1 0 2 1 3 0-2 0-3 0-2 1 0 0 6 1-5 0-1 0-5 1 1 0 6 1 5 0-1 0 0 1 0 1-11 1 5 1 4 0-8 0 0 1 8 0 3 1 0 1-5 0 3 0 0 1 2 0-6 1-7 0 1 0 2 0 11 1-1 0-4 0 0 1-7 0 4 0 2 0 4 0 2 1-2 0-5 0-2 0-1 1-4 0 5 0 3 0 2 0 4 1 0 0-3 0-1 1-5 0 9 1-3 0-4 2-1 1-2 1-3 0 12 2-1 0-5 14 0 0 3 0 2 513-6 2 0 1 0 0-2 1 8 1-12 65 4 10 10 2-5 56 4 277-5 11 5 30-6 37 5 446-6 5-3" fill="none" stroke="none" marker-start="url(#s41)" marker-mid="url(#s41)" marker-end="url(#s41)"/>
<path d="m248 409 1-9 63 3 1 7 338-1 1 0 1-5 0 3 0 1 1-4 1-7 0 11 0 0 0 3 1-8 7 2 0 6 1-8 4-5 5 5 1 0 1 6 0-5 0 0 0-1 1-4 0 10 1-9 0-2 1 2 0 4 0 0 0 6 1-2 0-6 2 9 1 0 1-13 0 5 3 3 0-6 18 0 349 7 162 1 1-11 1 11 1-9 1 6 1 2 42-4 35 7 413-6 518-1" fill="none" stroke="none" marker-start="url(#s42)" marker-mid="url(#s42)" marker-end="url(#s42)"/>
<path d="m288 385 364 1 7 9 3-9 7 8 3 1 0-6 1 6 2 0 0-2 0-2 1-7 0 10 0 1 10-1 0-5 17 1 1 6 2-12 510-2 0 0 1 4 1 8 77-2 2 4 246-13 105 9" fill="none" stroke="none" marker-start="url(#s43)" marker-mid="url(#s43)" marker-end="url(#s43)"/>
<path d="m264 371 396 9 1-8 23-1 18 0 2 8 512-4 1 3 1-4 0 2 1 5" fill="none" stroke="none" marker-start="url(#s44)" marker-mid="url(#s44)" marker-end="url(#s44)"/>
<path d="m663 360 39 0 0-1 1-6 0 8 513 4 0-7 0 0 0-3 1 4 1-1 1 3" fill="none" stroke="none" marker-start="url(#s45)" marker-mid="url(#s45)" marker-end="url(#s45)"/>
<path d="m701 339 2 10 0 0 0-2 3-6 0 1 0 10 510 1 0-11 1-3 0 10" fill="none" stroke="none" marker-start="url(#s46)" marker-mid="url(#s46)" marker-end="url(#s46)"/>
<path d="m702 332 0 3 1-3 1 0 2 6 1 0 509-4 2-8 0 7" fill="none" stroke="none" marker-start="url(#s47)" marker-mid="url(#s47)" marker-end="url(#s47)"/>
<path d="m1216 318 1-8" fill="none" stroke="none" marker-start="url(#s48)" marker-mid="url(#s48)" marker-end="url(#s48)"/>
<path d="m1217 295 0 10" fill="none" stroke="none" marker-start="url(#s49)" marker-mid="url(#s49)" marker-end="url(#s49)"/>
<path d="m1215 282 0 11 2-7" fill="none" stroke="none" marker-start="url(#s50)" marker-mid="url(#s50)" marker-end="url(#s50)"/>
<path d="m2452 271" fill="none" stroke="none" marker-start="url(#s51)" marker-mid="url(#s51)" marker-end="url(#s51)"/>
<path d="m706 262 2 4 508-7 1-4" fill="none" stroke="none" marker-start="url(#s52)" marker-mid="url(#s52)" marker-end="url(#s52)"/>
<path d="m1216 241 1 1 1 3 1-2" fill="none" stroke="none" marker-start="url(#s53)" marker-mid="url(#s53)" marker-end="url(#s53)"/>
<path d="m708 234" fill="none" stroke="none" marker-start="url(#s54)" marker-mid="url(#s54)" marker-end="url(#s54)"/>
<path d="m708 218 509 3 2-7" fill="none" stroke="none" marker-start="url(#s55)" marker-mid="url(#s55)" marker-end="url(#s55)"/>
<path d="m707 195 1 11 0-6 509 6" fill="none" stroke="none" marker-start="url(#s56)" marker-mid="url(#s56)" marker-end="url(#s56)"/>
<path d="m1216 187 1229-2 0 0 3 0 1-3 1 3 2 0 3 0 1 0 2 0" fill="none" stroke="none" marker-start="url(#s57)" marker-mid="url(#s57)" marker-end="url(#s57)"/>
<path d="m706 176 2-7 508 2 2-4 1229-2" fill="none" stroke="none" marker-start="url(#s58)" marker-mid="url(#s58)" marker-end="url(#s58)"/>
<path d="m707 161 508 3 2-5 1227-2 1 0 3 0 0 0 0 0 3 0 2 3 3-3 1 0 0 0 1 0 1 0 1 0 2 0 1 0" fill="none" stroke="none" marker-start="url(#s59)" marker-mid="url(#s59)" marker-end="url(#s59)"/>
<path d="m708 734 493 2" fill="none" stroke="none" marker-start="url(#b19)" marker-mid="url(#b19)" marker-end="url(#b19)"/>
<path d="m593 722" fill="none" stroke="none" marker-start="url(#b20)" marker-mid="url(#b20)" marker-end="url(#b20)"/>
<path d="m194 709 2070 2" fill="none" stroke="none" marker-start="url(#b21)" marker-mid="url(#b21)" marker-end="url(#b21)"/>
<path d="m161 675 33 0 1374 7 311-9 424-1" fill="none" stroke="none" marker-start="url(#b23)" marker-mid="url(#b23)" marker-end="url(#b23)"/>
<path d="m124 670 17-3 34 1 1341 3 32-3 17-7 2 1 3-5 254 13" fill="none" stroke="none" marker-start="url(#b24)" marker-mid="url(#b24)" marker-end="url(#b24)"/>
<path d="m123 652 4-2 300 1 386 1 109-1 84 0 819-8 15 12 16 2 166-7" fill="none" stroke="none" marker-start="url(#b25)" marker-mid="url(#b25)" marker-end="url(#b25)"/>
<path d="m365 629 29 2 35 2 15 7 407-9 18 3 12 8 24-11 65 6 42-5 108 5 242-1 148-6 330 10 139 2 81-2 31-3 1-8 2 9 0 4 136-12 7 7" fill="none" stroke="none" marker-start="url(#b26)" marker-mid="url(#b26)" marker-end="url(#b26)"/>
<path d="m412 620 65 6 16-12 338 5 10 9 334-12 198 8 118-8 8 0 268 0 58 0 131 5 77-4 18 7 4-5 355-4" fill="none" stroke="none" marker-start="url(#b27)" marker-mid="url(#b27)" marker-end="url(#b27)"/>
<path d="m384 611 468-1 35-4 62-1 40-4 1 0 121-1 55 8 180-8 151 6 9 3 9-6 344-1 54 9 12 1 3-10 117 9 199 2 146-4 12-4" fill="none" stroke="none" marker-start="url(#b28)" marker-mid="url(#b28)" marker-end="url(#b28)"/>
<path d="m325 589 35 9 107-7 339 7 71-10 70 7 2-2 22-1 49 3 28-3 1 2 16 0 281-3 25 7 14 1 36-13 361 8 275 2 184-10 5 8 125 5 7-10" fill="none" stroke="none" marker-start="url(#b29)" marker-mid="url(#b29)" marker-end="url(#b29)"/>
<path d="m429 579 4-7 530 11 118 0 23-3 20 2 23 2 21-11 195 9 29-9 11 8 353-2 181 0 251-8 8 7 43-5 62 5" fill="none" stroke="none" marker-start="url(#b30)" marker-mid="url(#b30)" marker-end="url(#b30)"/>
<path d="m381 564 7-1 487 3 33-2 45-1 116 0 52 4 43-3 111-5 96 1 54 4 229-5 277 9 9-9 262-1 100 3 4-3" fill="none" stroke="none" marker-start="url(#b31)" marker-mid="url(#b31)" marker-end="url(#b31)"/>
<path d="m311 552 819 0 284-6 231 0 2 4 9-2 2-4 1 6 524-3 9-4 1 5 1 4 102 0" fill="none" stroke="none" marker-start="url(#b32)" marker-mid="url(#b32)" marker-end="url(#b32)"/>
<path d="m281 532 873 0 103 4 1 2 8-7 19 10 11-9 67 2 283-1 43 4 113-10 390 12 129-11" fill="none" stroke="none" marker-start="url(#b33)" marker-mid="url(#b33)" marker-end="url(#b33)"/>
<path d="m245 526 995-5 21-2 20 2 373 0 36 4 15-7" fill="none" stroke="none" marker-start="url(#b34)" marker-mid="url(#b34)" marker-end="url(#b34)"/>
<path d="m248 503 13-2 30 6 6-3 1-3 791 11 137-8 11 7 20-1 5 1 2-3 406-3" fill="none" stroke="none" marker-start="url(#b35)" marker-mid="url(#b35)" marker-end="url(#b35)"/>
<path d="m238 484 6 3 8 7 2-5 9 2 9 5 21-12 1365 10" fill="none" stroke="none" marker-start="url(#b36)" marker-mid="url(#b36)" marker-end="url(#b36)"/>
<path d="m250 482 2-4" fill="none" stroke="none" marker-start="url(#b37)" marker-mid="url(#b37)" marker-end="url(#b37)"/>
<path d="m251 463 59-8 354 8" fill="none" stroke="none" marker-start="url(#b38)" marker-mid="url(#b38)" marker-end="url(#b38)"/>
<path d="m653 450 5-2 3-2" fill="none" stroke="none" marker-start="url(#b39)" marker-mid="url(#b39)" marker-end="url(#b39)"/>
<path d="m657 437" fill="none" stroke="none" marker-start="url(#b40)" marker-mid="url(#b40)" marker-end="url(#b40)"/>
<path d="m655 424 7-2 23-9 20 9" fill="none" stroke="none" marker-start="url(#b41)" marker-mid="url(#b41)" marker-end="url(#b41)"/>
<path d="m1217 363" fill="none" stroke="none" marker-start="url(#b45)" marker-mid="url(#b45)" marker-end="url(#b45)"/>
<line x1="122.9" y1="712.9" x2="216.0" y2="712.9" stroke="#00008b" stroke-width="3.1"/>
<line x1="215.0" y1="507.8" x2="313.8" y2="507.8" stroke="#00008b" stroke-width="3.1"/>
<line x1="313.5" y1="607.0" x2="499.0" y2="607.0" stroke="#00008b" stroke-width="3.1"/>
<line x1="499.0" y1="771.4" x2="650.0" y2="771.4" stroke="#00008b" stroke-width="3.1"/>
<line x1="650.0" y1="441.7" x2="693.0" y2="441.7" stroke="#00008b" stroke-width="3.1"/>
<line x1="692.4" y1="790.4" x2="703.0" y2="790.4" stroke="#00008b" stroke-width="3.1"/>
<line x1="708.0" y1="799.3" x2="796.0" y2="799.3" stroke="#00008b" stroke-width="3.1"/>
<line x1="796.0" y1="613.3" x2="922.2" y2="613.3" stroke="#00008b" stroke-width="3.1"/>
<line x1="920.6" y1="734.6" x2="925.0" y2="734.6" stroke="#00008b" stroke-width="3.1"/>
<line x1="923.0" y1="580.5" x2="935.0" y2="580.5" stroke="#00008b" stroke-width="3.1"/>
<line x1="934.6" y1="608.3" x2="1064.9" y2="608.3" stroke="#00008b" stroke-width="3.1"/>
<line x1="1064.9" y1="581.0" x2="1186.6" y2="581.0" stroke="#00008b" stroke-width="3.1"/>
<line x1="1186.6" y1="754.4" x2="1211.3" y2="754.4" stroke="#00008b" stroke-width="3.1"/>
<line x1="1210.0" y1="878.4" x2="1216.0" y2="878.4" stroke="#00008b" stroke-width="3.1"/>
<line x1="1221.3" y1="525.0" x2="1298.0" y2="525.0" stroke="#00008b" stroke-width="3.1"/>
<line x1="1297.7" y1="827.0" x2="1324.0" y2="827.0" stroke="#00008b" stroke-width="3.1"/>
<line x1="1323.3" y1="587.0" x2="1406.0" y2="587.0" stroke="#00008b" stroke-width="3.1"/>
<line x1="1406.0" y1="595.9" x2="1421.0" y2="595.9" stroke="#00008b" stroke-width="3.1"/>
<line x1="1421.0" y1="608.3" x2="1510.0" y2="608.3" stroke="#00008b" stroke-width="3.1"/>
<line x1="1510.0" y1="560.7" x2="1513.0" y2="560.7" stroke="#00008b" stroke-width="3.1"/>
<line x1="1513.0" y1="684.6" x2="1538.0" y2="684.6" stroke="#00008b" stroke-width="3.1"/>
<line x1="1541.0" y1="639.3" x2="1549.0" y2="639.3" stroke="#00008b" stroke-width="3.1"/>
<line x1="1538.0" y1="824.5" x2="1545.0" y2="824.5" stroke="#00008b" stroke-width="3.1"/>
<line x1="1552.0" y1="659.4" x2="1612.0" y2="659.4" stroke="#00008b" stroke-width="3.1"/>
<line x1="1612.6" y1="535.5" x2="1714.9" y2="535.5" stroke="#00008b" stroke-width="3.1"/>
<line x1="1728.6" y1="602.4" x2="1795.3" y2="602.4" stroke="#00008b" stroke-width="3.1"/>
<line x1="1795.0" y1="597.4" x2="1803.0" y2="597.4" stroke="#00008b" stroke-width="3.1"/>
<line x1="1794.0" y1="838.9" x2="1800.0" y2="838.9" stroke="#00008b" stroke-width="3.1"/>
<line x1="1816.6" y1="645.0" x2="1884.8" y2="645.0" stroke="#00008b" stroke-width="3.1"/>
<line x1="1899.0" y1="592.8" x2="1963.4" y2="592.8" stroke="#00008b" stroke-width="3.1"/>
<line x1="1963.0" y1="632.3" x2="2008.4" y2="632.3" stroke="#00008b" stroke-width="3.1"/>
<line x1="2005.0" y1="763.3" x2="2013.0" y2="763.3" stroke="#00008b" stroke-width="3.1"/>
<line x1="2013.0" y1="616.8" x2="2094.0" y2="616.8" stroke="#00008b" stroke-width="3.1"/>
<line x1="2094.0" y1="787.0" x2="2149.5" y2="787.0" stroke="#00008b" stroke-width="3.1"/>
<line x1="2147.0" y1="628.4" x2="2153.0" y2="628.4" stroke="#00008b" stroke-width="3.1"/>
<line x1="2152.6" y1="534.0" x2="2199.0" y2="534.0" stroke="#00008b" stroke-width="3.1"/>
<line x1="2199.0" y1="578.5" x2="2247.0" y2="578.5" stroke="#00008b" stroke-width="3.1"/>
<line x1="2256.0" y1="656.7" x2="2259.0" y2="656.7" stroke="#00008b" stroke-width="3.1"/>
<line x1="2278.8" y1="642.4" x2="2283.0" y2="642.4" stroke="#00008b" stroke-width="3.1"/>
<line x1="2271.0" y1="744.3" x2="2281.0" y2="744.3" stroke="#00008b" stroke-width="3.1"/>
<line x1="2257.4" y1="855.2" x2="2274.0" y2="855.2" stroke="#00008b" stroke-width="3.1"/>
<line x1="2296.2" y1="557.2" x2="2323.3" y2="557.2" stroke="#00008b" stroke-width="3.1"/>
<line x1="2323.3" y1="613.3" x2="2442.3" y2="613.3" stroke="#00008b" stroke-width="3.1"/>
<line x1="2442.3" y1="185.1" x2="2462.9" y2="185.1" stroke="#00008b" stroke-width="3.1"/>
<circle cx="242.5" cy="507.6" r="5.4" fill="#000"/>
<circle cx="279.0" cy="510.7" r="5.4" fill="#000"/>
<circle cx="325.5" cy="498.5" r="5.4" fill="#000"/>
<circle cx="498.7" cy="543.3" r="5.4" fill="#000"/>
<circle cx="507.0" cy="587.0" r="5.4" fill="#000"/>
<circle cx="527.3" cy="753.6" r="5.4" fill="#000"/>
<circle cx="637.8" cy="572.7" r="5.4" fill="#000"/>
<circle cx="646.7" cy="801.3" r="5.4" fill="#000"/>
<circle cx="692.4" cy="499.8" r="5.4" fill="#000"/>
<circle cx="692.4" cy="473.5" r="5.4" fill="#000"/>
<circle cx="1106.0" cy="604.0" r="5.4" fill="#000"/>
<circle cx="1106.0" cy="607.0" r="5.4" fill="#000"/>
<circle cx="1153.0" cy="626.0" r="5.4" fill="#000"/>
<circle cx="1302.3" cy="816.4" r="5.4" fill="#000"/>
<circle cx="1315.0" cy="738.0" r="5.4" fill="#000"/>
<circle cx="1315.0" cy="677.2" r="5.4" fill="#000"/>
<circle cx="1365.5" cy="618.0" r="5.4" fill="#000"/>
<circle cx="1474.0" cy="539.4" r="5.4" fill="#000"/>
<circle cx="1656.9" cy="491.3" r="5.4" fill="#000"/>
<circle cx="1665.4" cy="502.6" r="5.4" fill="#000"/>
<circle cx="1751.9" cy="550.2" r="5.4" fill="#000"/>
<circle cx="1911.6" cy="606.3" r="5.4" fill="#000"/>
<circle cx="1953.0" cy="616.0" r="5.4" fill="#000"/>
<circle cx="2038.2" cy="645.9" r="5.4" fill="#000"/>
<circle cx="2054.5" cy="711.0" r="5.4" fill="#000"/>
<circle cx="2061.5" cy="596.6" r="5.4" fill="#000"/>
<circle cx="2165.0" cy="533.2" r="5.4" fill="#000"/>
<circle cx="2306.7" cy="585.0" r="5.4" fill="#000"/>
<circle cx="2409.8" cy="784.6" r="5.4" fill="#000"/>
<text transform="translate(251.8,493.1) rotate(-90)" font-family="Liberation Sans"  font-size="25">NTRK1</text>
<text transform="translate(288.3,496.2) rotate(-90)" font-family="Liberation Sans"  font-size="25">MDM4</text>
<text transform="translate(334.8,484.0) rotate(-90)" font-family="Liberation Sans"  font-size="25">MYCN</text>
<text transform="translate(508.0,528.8) rotate(-90)" font-family="Liberation Sans"  font-size="25">PDCD1</text>
<text transform="translate(516.3,601.5) rotate(-90)" font-family="Liberation Sans"  font-size="25" text-anchor="end">VHL</text>
<text transform="translate(536.6,768.1) rotate(-90)" font-family="Liberation Sans"  font-size="25" text-anchor="end">MLH1</text>
<text transform="translate(647.1,558.2) rotate(-90)" font-family="Liberation Sans"  font-size="25">SOX2</text>
<text transform="translate(656.0,815.8) rotate(-90)" font-family="Liberation Sans"  font-size="25" text-anchor="end">OPA1</text>
<text transform="translate(701.7,485.3) rotate(-90)" font-family="Liberation Sans"  font-size="25">KIT</text>
<text transform="translate(701.7,459.0) rotate(-90)" font-family="Liberation Sans"  font-size="25">PDGFRA</text>
<text transform="translate(1115.3,618.5) rotate(-90)" font-family="Liberation Sans"  font-size="25" text-anchor="end">EGFR</text>
<text transform="translate(1115.3,621.5) rotate(-90)" font-family="Liberation Sans"  font-size="25" text-anchor="end">EGFR_vIII</text>
<text transform="translate(1162.3,640.5) rotate(-90)" font-family="Liberation Sans"  font-size="25" text-anchor="end">MET</text>
<text transform="translate(1311.6,830.9) rotate(-90)" font-family="Liberation Sans"  font-size="25" text-anchor="end">CD274</text>
<text transform="translate(1324.3,752.5) rotate(-90)" font-family="Liberation Sans"  font-size="25" text-anchor="end">CDKN2A</text>
<text transform="translate(1324.3,691.7) rotate(-90)" font-family="Liberation Sans"  font-size="25" text-anchor="end">CDKN2B</text>
<text transform="translate(1374.8,632.5) rotate(-90)" font-family="Liberation Sans"  font-size="25" text-anchor="end">NTRK2</text>
<text transform="translate(1483.3,524.9) rotate(-90)" font-family="Liberation Sans"  font-size="25">PTEN</text>
<text transform="translate(1666.2,476.8) rotate(-90)" font-family="Liberation Sans"  font-size="25">CDK4</text>
<text transform="translate(1674.7,488.1) rotate(-90)" font-family="Liberation Sans"  font-size="25">MDM2</text>
<text transform="translate(1761.2,535.7) rotate(-90)" font-family="Liberation Sans"  font-size="25">RB1</text>
<text transform="translate(1920.9,620.8) rotate(-90)" font-family="Liberation Sans"  font-size="25" text-anchor="end">NUTM1</text>
<text transform="translate(1962.3,630.5) rotate(-90)" font-family="Liberation Sans"  font-size="25" text-anchor="end">NTRK3</text>
<text transform="translate(2047.5,660.4) rotate(-90)" font-family="Liberation Sans"  font-size="25" text-anchor="end">TP53</text>
<text transform="translate(2063.8,725.5) rotate(-90)" font-family="Liberation Sans"  font-size="25" text-anchor="end">NF1</text>
<text transform="translate(2070.8,611.1) rotate(-90)" font-family="Liberation Sans"  font-size="25" text-anchor="end">ERBB2</text>
<text transform="translate(2174.3,518.7) rotate(-90)" font-family="Liberation Sans"  font-size="25">BRD4</text>
<text transform="translate(2316.0,570.5) rotate(-90)" font-family="Liberation Sans"  font-size="25">NF2</text>
<text transform="translate(2419.1,799.1) rotate(-90)" font-family="Liberation Sans"  font-size="25" text-anchor="end">IL13RA2</text>
<rect x="122.89" y="123.09" width="2363.94" height="923.62" fill="none" stroke="#000" stroke-width="1.56"/>
<line x1="122.89" y1="174.40" x2="122.89" y2="995.40" stroke="#000" stroke-width="1.56"/>
<line x1="107.29" y1="174.40" x2="122.89" y2="174.40" stroke="#000" stroke-width="1.56"/>
<text x="93" y="183.30" font-family="Liberation Sans"  font-size="25" text-anchor="end">1.2</text>
<line x1="107.29" y1="311.24" x2="122.89" y2="311.24" stroke="#000" stroke-width="1.56"/>
<text x="93" y="320.14" font-family="Liberation Sans"  font-size="25" text-anchor="end">0.8</text>
<line x1="107.29" y1="448.07" x2="122.89" y2="448.07" stroke="#000" stroke-width="1.56"/>
<text x="93" y="456.97" font-family="Liberation Sans"  font-size="25" text-anchor="end">0.4</text>
<line x1="107.29" y1="584.90" x2="122.89" y2="584.90" stroke="#000" stroke-width="1.56"/>
<text x="93" y="593.80" font-family="Liberation Sans"  font-size="25" text-anchor="end">0.0</text>
<line x1="107.29" y1="721.73" x2="122.89" y2="721.73" stroke="#000" stroke-width="1.56"/>
<text x="93" y="730.63" font-family="Liberation Sans"  font-size="25" text-anchor="end">−0.4</text>
<line x1="107.29" y1="858.56" x2="122.89" y2="858.56" stroke="#000" stroke-width="1.56"/>
<text x="93" y="867.46" font-family="Liberation Sans"  font-size="25" text-anchor="end">−0.8</text>
<line x1="107.29" y1="995.40" x2="122.89" y2="995.40" stroke="#000" stroke-width="1.56"/>
<text x="93" y="1004.30" font-family="Liberation Sans"  font-size="25" text-anchor="end">−1.2</text>
<line x1="218.05" y1="1046.71" x2="2464.16" y2="1046.71" stroke="#000" stroke-width="1.56"/>
<line x1="218.05" y1="1046.71" x2="218.05" y2="1062.31" stroke="#000" stroke-width="1.56"/>
<text transform="translate(227.05,1076.71) rotate(-90)" font-family="Liberation Sans"  font-size="25" text-anchor="end">chr1</text>
<line x1="406.08" y1="1046.71" x2="406.08" y2="1062.31" stroke="#000" stroke-width="1.56"/>
<text transform="translate(415.08,1076.71) rotate(-90)" font-family="Liberation Sans"  font-size="25" text-anchor="end">chr2</text>
<line x1="574.54" y1="1046.71" x2="574.54" y2="1062.31" stroke="#000" stroke-width="1.56"/>
<text transform="translate(583.54,1076.71) rotate(-90)" font-family="Liberation Sans"  font-size="25" text-anchor="end">chr3</text>
<line x1="723.13" y1="1046.71" x2="723.13" y2="1062.31" stroke="#000" stroke-width="1.56"/>
<text transform="translate(732.13,1076.71) rotate(-90)" font-family="Liberation Sans"  font-size="25" text-anchor="end">chr4</text>
<line x1="865.20" y1="1046.71" x2="865.20" y2="1062.31" stroke="#000" stroke-width="1.56"/>
<text transform="translate(874.20,1076.71) rotate(-90)" font-family="Liberation Sans"  font-size="25" text-anchor="end">chr5</text>
<line x1="999.61" y1="1046.71" x2="999.61" y2="1062.31" stroke="#000" stroke-width="1.56"/>
<text transform="translate(1008.61,1076.71) rotate(-90)" font-family="Liberation Sans"  font-size="25" text-anchor="end">chr6</text>
<line x1="1125.70" y1="1046.71" x2="1125.70" y2="1062.31" stroke="#000" stroke-width="1.56"/>
<text transform="translate(1134.70,1076.71) rotate(-90)" font-family="Liberation Sans"  font-size="25" text-anchor="end">chr7</text>
<line x1="1242.35" y1="1046.71" x2="1242.35" y2="1062.31" stroke="#000" stroke-width="1.56"/>
<text transform="translate(1251.35,1076.71) rotate(-90)" font-family="Liberation Sans"  font-size="25" text-anchor="end">chr8</text>
<line x1="1352.15" y1="1046.71" x2="1352.15" y2="1062.31" stroke="#000" stroke-width="1.56"/>
<text transform="translate(1361.15,1076.71) rotate(-90)" font-family="Liberation Sans"  font-size="25" text-anchor="end">chr9</text>
<line x1="1457.81" y1="1046.71" x2="1457.81" y2="1062.31" stroke="#000" stroke-width="1.56"/>
<text transform="translate(1466.81,1076.71) rotate(-90)" font-family="Liberation Sans"  font-size="25" text-anchor="end">chr10</text>
<line x1="1561.11" y1="1046.71" x2="1561.11" y2="1062.31" stroke="#000" stroke-width="1.56"/>
<text transform="translate(1570.11,1076.71) rotate(-90)" font-family="Liberation Sans"  font-size="25" text-anchor="end">chr11</text>
<line x1="1663.76" y1="1046.71" x2="1663.76" y2="1062.31" stroke="#000" stroke-width="1.56"/>
<text transform="translate(1672.76,1076.71) rotate(-90)" font-family="Liberation Sans"  font-size="25" text-anchor="end">chr12</text>
<line x1="1758.84" y1="1046.71" x2="1758.84" y2="1062.31" stroke="#000" stroke-width="1.56"/>
<text transform="translate(1767.84,1076.71) rotate(-90)" font-family="Liberation Sans"  font-size="25" text-anchor="end">chr13</text>
<line x1="1843.80" y1="1046.71" x2="1843.80" y2="1062.31" stroke="#000" stroke-width="1.56"/>
<text transform="translate(1852.80,1076.71) rotate(-90)" font-family="Liberation Sans"  font-size="25" text-anchor="end">chr14</text>
<line x1="1923.94" y1="1046.71" x2="1923.94" y2="1062.31" stroke="#000" stroke-width="1.56"/>
<text transform="translate(1932.94,1076.71) rotate(-90)" font-family="Liberation Sans"  font-size="25" text-anchor="end">chr15</text>
<line x1="1997.58" y1="1046.71" x2="1997.58" y2="1062.31" stroke="#000" stroke-width="1.56"/>
<text transform="translate(2006.58,1076.71) rotate(-90)" font-family="Liberation Sans"  font-size="25" text-anchor="end">chr16</text>
<line x1="2063.08" y1="1046.71" x2="2063.08" y2="1062.31" stroke="#000" stroke-width="1.56"/>
<text transform="translate(2072.08,1076.71) rotate(-90)" font-family="Liberation Sans"  font-size="25" text-anchor="end">chr17</text>
<line x1="2123.90" y1="1046.71" x2="2123.90" y2="1062.31" stroke="#000" stroke-width="1.56"/>
<text transform="translate(2132.90,1076.71) rotate(-90)" font-family="Liberation Sans"  font-size="25" text-anchor="end">chr18</text>
<line x1="2176.28" y1="1046.71" x2="2176.28" y2="1062.31" stroke="#000" stroke-width="1.56"/>
<text transform="translate(2185.28,1076.71) rotate(-90)" font-family="Liberation Sans"  font-size="25" text-anchor="end">chr19</text>
<line x1="2222.92" y1="1046.71" x2="2222.92" y2="1062.31" stroke="#000" stroke-width="1.56"/>
<text transform="translate(2231.92,1076.71) rotate(-90)" font-family="Liberation Sans"  font-size="25" text-anchor="end">chr20</text>
<line x1="2265.37" y1="1046.71" x2="2265.37" y2="1062.31" stroke="#000" stroke-width="1.56"/>
<text transform="translate(2274.37,1076.71) rotate(-90)" font-family="Liberation Sans"  font-size="25" text-anchor="end">chr21</text>
<line x1="2303.33" y1="1046.71" x2="2303.33" y2="1062.31" stroke="#000" stroke-width="1.56"/>
<text transform="translate(2312.33,1076.71) rotate(-90)" font-family="Liberation Sans"  font-size="25" text-anchor="end">chr22</text>
<line x1="2382.20" y1="1046.71" x2="2382.20" y2="1062.31" stroke="#000" stroke-width="1.56"/>
<text transform="translate(2391.20,1076.71) rotate(-90)" font-family="Liberation Sans"  font-size="25" text-anchor="end">chrX</text>
<line x1="2464.16" y1="1046.71" x2="2464.16" y2="1062.31" stroke="#000" stroke-width="1.56"/>
<text transform="translate(2473.16,1076.71) rotate(-90)" font-family="Liberation Sans"  font-size="25" text-anchor="end">chrY</text>
<text transform="translate(1302.9,71.2) scale(0.962,1.03)" font-family="Liberation Sans"  font-size="30" font-weight="bold" text-anchor="middle">209717480174_R01C01</text>
</svg></body></html>
